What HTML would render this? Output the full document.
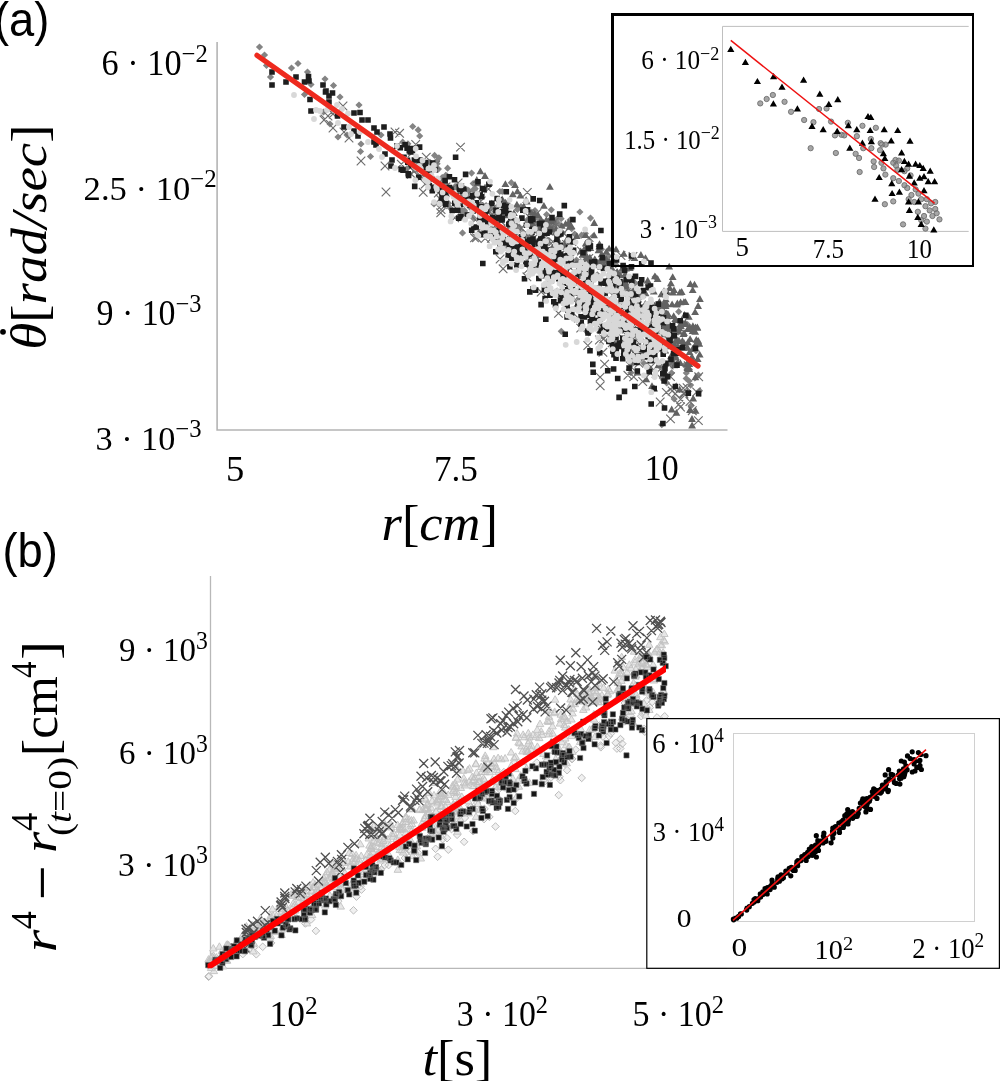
<!DOCTYPE html>
<html><head><meta charset="utf-8"><style>
html,body{margin:0;padding:0;background:#fff;width:1000px;height:1081px;overflow:hidden}
svg{display:block}
text{fill:#000}
svg{will-change:transform}
</style></head><body>
<svg width="1000" height="1081" viewBox="0 0 1000 1081">
<g transform="translate(-6.08 35.79) scale(0.9443 1.0111)"><text x="0" y="0" style="font-family:&quot;Liberation Sans&quot;,sans-serif;font-size:48px;">(a)</text></g>
<path d="M217.1 42V430H727.5" fill="none" stroke="#b4b4b4" stroke-width="1.6"/>
<g transform="translate(101.62 74.80) scale(0.9792 1.0000)"><text x="0" y="0" style="font-family:&quot;Liberation Serif&quot;,serif;font-size:35px;">6 · 10<tspan dy="-12.60" font-size="25.20">−2</tspan></text></g>
<g transform="translate(83.62 199.70) scale(0.9885 0.9800)"><text x="0" y="0" style="font-family:&quot;Liberation Serif&quot;,serif;font-size:35px;">2.5 · 10<tspan dy="-12.60" font-size="25.20">−2</tspan></text></g>
<g transform="translate(96.43 324.80) scale(0.9698 0.9933)"><text x="0" y="0" style="font-family:&quot;Liberation Serif&quot;,serif;font-size:35px;">9 · 10<tspan dy="-12.60" font-size="25.20">−3</tspan></text></g>
<g transform="translate(95.44 449.80) scale(0.9790 0.9933)"><text x="0" y="0" style="font-family:&quot;Liberation Serif&quot;,serif;font-size:35px;">3 · 10<tspan dy="-12.60" font-size="25.20">−3</tspan></text></g>
<g transform="translate(226.11 480.80) scale(1.0429 1.0333)"><text x="0" y="0" style="font-family:&quot;Liberation Serif&quot;,serif;font-size:35px;">5</text></g>
<g transform="translate(433.89 480.60) scale(1.0025 1.0250)"><text x="0" y="0" style="font-family:&quot;Liberation Serif&quot;,serif;font-size:35px;">7.5</text></g>
<g transform="translate(644.85 480.00) scale(0.9677 1.0000)"><text x="0" y="0" style="font-family:&quot;Liberation Serif&quot;,serif;font-size:35px;">10</text></g>
<g transform="translate(381.48 539.67) scale(1.0082 0.9614)"><text x="0" y="0" style="font-family:&quot;Liberation Serif&quot;,serif;font-size:52px;font-style:italic;">r<tspan font-style="normal">[</tspan>cm<tspan font-style="normal">]</tspan></text></g>
<g transform="translate(45.97 349.67) rotate(-90) scale(1.0558 0.9750)"><text x="0" y="0" style="font-family:&quot;Liberation Serif&quot;,serif;font-size:52px;font-style:italic;">θ<tspan font-style="normal">[</tspan>rad/sec<tspan font-style="normal">]</tspan></text></g>
<circle cx="3" cy="331.8" r="2.9" fill="#000"/>
<path d="M462.4 210.4l3.6 3.6l-3.6 3.6l-3.6 -3.6zM558.6 254.2l3.6 3.6l-3.6 3.6l-3.6 -3.6zM580.6 259.3l3.6 3.6l-3.6 3.6l-3.6 -3.6zM415.4 163.6l3.6 3.6l-3.6 3.6l-3.6 -3.6zM469.2 187.4l3.6 3.6l-3.6 3.6l-3.6 -3.6zM671.2 359.6l3.6 3.6l-3.6 3.6l-3.6 -3.6zM438.4 165.5l3.6 3.6l-3.6 3.6l-3.6 -3.6zM462.8 193.7l3.6 3.6l-3.6 3.6l-3.6 -3.6zM678.7 308.1l3.6 3.6l-3.6 3.6l-3.6 -3.6zM585.2 300.9l3.6 3.6l-3.6 3.6l-3.6 -3.6zM529.8 216.4l3.6 3.6l-3.6 3.6l-3.6 -3.6zM561.1 215.1l3.6 3.6l-3.6 3.6l-3.6 -3.6zM594.8 272.6l3.6 3.6l-3.6 3.6l-3.6 -3.6zM506.7 208.3l3.6 3.6l-3.6 3.6l-3.6 -3.6zM465.8 193.9l3.6 3.6l-3.6 3.6l-3.6 -3.6zM627 276l3.6 3.6l-3.6 3.6l-3.6 -3.6zM596.6 289.2l3.6 3.6l-3.6 3.6l-3.6 -3.6zM561.3 327.7l3.6 3.6l-3.6 3.6l-3.6 -3.6zM635.2 279.6l3.6 3.6l-3.6 3.6l-3.6 -3.6zM569 263.5l3.6 3.6l-3.6 3.6l-3.6 -3.6zM691.7 358l3.6 3.6l-3.6 3.6l-3.6 -3.6zM487.2 207.5l3.6 3.6l-3.6 3.6l-3.6 -3.6zM570 216.5l3.6 3.6l-3.6 3.6l-3.6 -3.6zM555.3 219.9l3.6 3.6l-3.6 3.6l-3.6 -3.6zM526.1 232.8l3.6 3.6l-3.6 3.6l-3.6 -3.6zM578.3 263.1l3.6 3.6l-3.6 3.6l-3.6 -3.6zM496 234.6l3.6 3.6l-3.6 3.6l-3.6 -3.6zM631 291.5l3.6 3.6l-3.6 3.6l-3.6 -3.6zM650.6 335.3l3.6 3.6l-3.6 3.6l-3.6 -3.6zM462.5 229.3l3.6 3.6l-3.6 3.6l-3.6 -3.6zM551.8 225.3l3.6 3.6l-3.6 3.6l-3.6 -3.6zM507.2 199.6l3.6 3.6l-3.6 3.6l-3.6 -3.6zM444.2 177.5l3.6 3.6l-3.6 3.6l-3.6 -3.6zM660 338.3l3.6 3.6l-3.6 3.6l-3.6 -3.6zM543.7 251.5l3.6 3.6l-3.6 3.6l-3.6 -3.6zM469.2 195.8l3.6 3.6l-3.6 3.6l-3.6 -3.6zM597.3 261.8l3.6 3.6l-3.6 3.6l-3.6 -3.6zM486.5 207.4l3.6 3.6l-3.6 3.6l-3.6 -3.6zM661.8 421.1l3.6 3.6l-3.6 3.6l-3.6 -3.6zM490.9 225.7l3.6 3.6l-3.6 3.6l-3.6 -3.6zM418.2 126.3l3.6 3.6l-3.6 3.6l-3.6 -3.6zM486.1 202l3.6 3.6l-3.6 3.6l-3.6 -3.6zM524.3 207.2l3.6 3.6l-3.6 3.6l-3.6 -3.6zM552.2 254.6l3.6 3.6l-3.6 3.6l-3.6 -3.6zM663.4 337.8l3.6 3.6l-3.6 3.6l-3.6 -3.6zM603.2 333l3.6 3.6l-3.6 3.6l-3.6 -3.6zM522.8 239.6l3.6 3.6l-3.6 3.6l-3.6 -3.6zM407 164.9l3.6 3.6l-3.6 3.6l-3.6 -3.6zM473.2 199.2l3.6 3.6l-3.6 3.6l-3.6 -3.6zM698.4 371.4l3.6 3.6l-3.6 3.6l-3.6 -3.6zM550.2 247l3.6 3.6l-3.6 3.6l-3.6 -3.6zM601.6 315.7l3.6 3.6l-3.6 3.6l-3.6 -3.6zM430.6 176l3.6 3.6l-3.6 3.6l-3.6 -3.6zM418.9 157.2l3.6 3.6l-3.6 3.6l-3.6 -3.6zM643.9 359.7l3.6 3.6l-3.6 3.6l-3.6 -3.6zM577.5 267.6l3.6 3.6l-3.6 3.6l-3.6 -3.6zM515.3 217.4l3.6 3.6l-3.6 3.6l-3.6 -3.6zM517.4 205.8l3.6 3.6l-3.6 3.6l-3.6 -3.6zM446.9 172.2l3.6 3.6l-3.6 3.6l-3.6 -3.6zM477.4 190.5l3.6 3.6l-3.6 3.6l-3.6 -3.6zM412.7 122.9l3.6 3.6l-3.6 3.6l-3.6 -3.6zM641.9 350.1l3.6 3.6l-3.6 3.6l-3.6 -3.6zM551.6 253l3.6 3.6l-3.6 3.6l-3.6 -3.6zM461.9 186.4l3.6 3.6l-3.6 3.6l-3.6 -3.6zM613.9 321l3.6 3.6l-3.6 3.6l-3.6 -3.6zM484.6 209.6l3.6 3.6l-3.6 3.6l-3.6 -3.6zM434.3 176.3l3.6 3.6l-3.6 3.6l-3.6 -3.6zM579.9 208.4l3.6 3.6l-3.6 3.6l-3.6 -3.6zM659.9 332.6l3.6 3.6l-3.6 3.6l-3.6 -3.6zM414.3 165.2l3.6 3.6l-3.6 3.6l-3.6 -3.6zM631.9 355.2l3.6 3.6l-3.6 3.6l-3.6 -3.6zM482.9 228.8l3.6 3.6l-3.6 3.6l-3.6 -3.6zM448.4 199.6l3.6 3.6l-3.6 3.6l-3.6 -3.6zM407.9 140.2l3.6 3.6l-3.6 3.6l-3.6 -3.6zM511.3 179.1l3.6 3.6l-3.6 3.6l-3.6 -3.6zM610.7 306l3.6 3.6l-3.6 3.6l-3.6 -3.6zM557.3 246.6l3.6 3.6l-3.6 3.6l-3.6 -3.6zM646.1 353.2l3.6 3.6l-3.6 3.6l-3.6 -3.6zM490.9 204.6l3.6 3.6l-3.6 3.6l-3.6 -3.6zM516.9 223.5l3.6 3.6l-3.6 3.6l-3.6 -3.6zM502.2 187.9l3.6 3.6l-3.6 3.6l-3.6 -3.6zM690.6 381.5l3.6 3.6l-3.6 3.6l-3.6 -3.6zM675.9 341.6l3.6 3.6l-3.6 3.6l-3.6 -3.6zM523.1 229.1l3.6 3.6l-3.6 3.6l-3.6 -3.6zM545 244.9l3.6 3.6l-3.6 3.6l-3.6 -3.6zM516.7 217.4l3.6 3.6l-3.6 3.6l-3.6 -3.6zM615.8 304l3.6 3.6l-3.6 3.6l-3.6 -3.6zM422.5 163.7l3.6 3.6l-3.6 3.6l-3.6 -3.6zM437 183.1l3.6 3.6l-3.6 3.6l-3.6 -3.6zM537.9 240.1l3.6 3.6l-3.6 3.6l-3.6 -3.6zM498.7 201.7l3.6 3.6l-3.6 3.6l-3.6 -3.6zM643.7 306.6l3.6 3.6l-3.6 3.6l-3.6 -3.6zM614.5 339.5l3.6 3.6l-3.6 3.6l-3.6 -3.6zM568.3 253.2l3.6 3.6l-3.6 3.6l-3.6 -3.6zM594.5 301.6l3.6 3.6l-3.6 3.6l-3.6 -3.6zM601.9 293.8l3.6 3.6l-3.6 3.6l-3.6 -3.6zM625.1 289.7l3.6 3.6l-3.6 3.6l-3.6 -3.6zM671 327.4l3.6 3.6l-3.6 3.6l-3.6 -3.6zM469.9 196.1l3.6 3.6l-3.6 3.6l-3.6 -3.6zM586.2 276.7l3.6 3.6l-3.6 3.6l-3.6 -3.6zM467.8 201.5l3.6 3.6l-3.6 3.6l-3.6 -3.6zM546.6 210.9l3.6 3.6l-3.6 3.6l-3.6 -3.6zM626.5 290.2l3.6 3.6l-3.6 3.6l-3.6 -3.6zM659.5 336.4l3.6 3.6l-3.6 3.6l-3.6 -3.6zM619.2 340.3l3.6 3.6l-3.6 3.6l-3.6 -3.6zM419.7 132.4l3.6 3.6l-3.6 3.6l-3.6 -3.6zM527.6 233.2l3.6 3.6l-3.6 3.6l-3.6 -3.6zM474.3 189.9l3.6 3.6l-3.6 3.6l-3.6 -3.6zM699.5 387.2l3.6 3.6l-3.6 3.6l-3.6 -3.6zM467.9 186.5l3.6 3.6l-3.6 3.6l-3.6 -3.6zM498.5 216.1l3.6 3.6l-3.6 3.6l-3.6 -3.6zM527.1 254l3.6 3.6l-3.6 3.6l-3.6 -3.6zM433.8 175.8l3.6 3.6l-3.6 3.6l-3.6 -3.6zM651.6 343.8l3.6 3.6l-3.6 3.6l-3.6 -3.6zM588.5 281.5l3.6 3.6l-3.6 3.6l-3.6 -3.6zM473.2 186.3l3.6 3.6l-3.6 3.6l-3.6 -3.6zM558.4 258.5l3.6 3.6l-3.6 3.6l-3.6 -3.6zM442.2 173.9l3.6 3.6l-3.6 3.6l-3.6 -3.6zM582.7 248.8l3.6 3.6l-3.6 3.6l-3.6 -3.6zM495 208l3.6 3.6l-3.6 3.6l-3.6 -3.6zM421.7 160.5l3.6 3.6l-3.6 3.6l-3.6 -3.6zM457.4 196.6l3.6 3.6l-3.6 3.6l-3.6 -3.6zM570.4 256.2l3.6 3.6l-3.6 3.6l-3.6 -3.6zM588.7 260.3l3.6 3.6l-3.6 3.6l-3.6 -3.6zM519.2 246.9l3.6 3.6l-3.6 3.6l-3.6 -3.6zM590.2 297.6l3.6 3.6l-3.6 3.6l-3.6 -3.6zM525.8 247.7l3.6 3.6l-3.6 3.6l-3.6 -3.6zM463.2 198.4l3.6 3.6l-3.6 3.6l-3.6 -3.6zM516.9 217.6l3.6 3.6l-3.6 3.6l-3.6 -3.6zM535.9 221l3.6 3.6l-3.6 3.6l-3.6 -3.6zM665.7 336.8l3.6 3.6l-3.6 3.6l-3.6 -3.6zM457.6 199.3l3.6 3.6l-3.6 3.6l-3.6 -3.6zM445.6 180.3l3.6 3.6l-3.6 3.6l-3.6 -3.6zM571.7 225.1l3.6 3.6l-3.6 3.6l-3.6 -3.6zM684.6 361.7l3.6 3.6l-3.6 3.6l-3.6 -3.6zM663.8 300.5l3.6 3.6l-3.6 3.6l-3.6 -3.6zM603.9 289.9l3.6 3.6l-3.6 3.6l-3.6 -3.6zM436.7 157.4l3.6 3.6l-3.6 3.6l-3.6 -3.6zM632.2 277.4l3.6 3.6l-3.6 3.6l-3.6 -3.6zM599.7 285.1l3.6 3.6l-3.6 3.6l-3.6 -3.6zM467.9 192.1l3.6 3.6l-3.6 3.6l-3.6 -3.6zM551.3 206.2l3.6 3.6l-3.6 3.6l-3.6 -3.6zM427.7 176.9l3.6 3.6l-3.6 3.6l-3.6 -3.6zM630.9 369.1l3.6 3.6l-3.6 3.6l-3.6 -3.6zM608.5 252.5l3.6 3.6l-3.6 3.6l-3.6 -3.6zM631.7 360.7l3.6 3.6l-3.6 3.6l-3.6 -3.6zM619.5 281.2l3.6 3.6l-3.6 3.6l-3.6 -3.6zM504.6 205.3l3.6 3.6l-3.6 3.6l-3.6 -3.6zM627.5 302.3l3.6 3.6l-3.6 3.6l-3.6 -3.6zM499.8 187.9l3.6 3.6l-3.6 3.6l-3.6 -3.6zM465.7 209.6l3.6 3.6l-3.6 3.6l-3.6 -3.6zM534.8 238.2l3.6 3.6l-3.6 3.6l-3.6 -3.6zM558.3 230.8l3.6 3.6l-3.6 3.6l-3.6 -3.6zM509.4 211.1l3.6 3.6l-3.6 3.6l-3.6 -3.6zM581.5 231.6l3.6 3.6l-3.6 3.6l-3.6 -3.6zM580.8 258l3.6 3.6l-3.6 3.6l-3.6 -3.6zM497.3 224.4l3.6 3.6l-3.6 3.6l-3.6 -3.6zM585.3 229.8l3.6 3.6l-3.6 3.6l-3.6 -3.6zM527.1 216.6l3.6 3.6l-3.6 3.6l-3.6 -3.6zM612.7 297l3.6 3.6l-3.6 3.6l-3.6 -3.6zM510.6 234.3l3.6 3.6l-3.6 3.6l-3.6 -3.6zM630.1 346l3.6 3.6l-3.6 3.6l-3.6 -3.6zM540.4 222.4l3.6 3.6l-3.6 3.6l-3.6 -3.6zM569.9 240.3l3.6 3.6l-3.6 3.6l-3.6 -3.6zM597.3 291.1l3.6 3.6l-3.6 3.6l-3.6 -3.6zM562.5 242.6l3.6 3.6l-3.6 3.6l-3.6 -3.6zM502.1 207.1l3.6 3.6l-3.6 3.6l-3.6 -3.6zM691.1 402.1l3.6 3.6l-3.6 3.6l-3.6 -3.6zM449.8 204l3.6 3.6l-3.6 3.6l-3.6 -3.6zM519.3 225.5l3.6 3.6l-3.6 3.6l-3.6 -3.6zM569.1 251.8l3.6 3.6l-3.6 3.6l-3.6 -3.6zM415.4 166.5l3.6 3.6l-3.6 3.6l-3.6 -3.6zM471.6 169.5l3.6 3.6l-3.6 3.6l-3.6 -3.6zM630.2 309.2l3.6 3.6l-3.6 3.6l-3.6 -3.6zM625.9 277.2l3.6 3.6l-3.6 3.6l-3.6 -3.6zM588.7 329.3l3.6 3.6l-3.6 3.6l-3.6 -3.6zM661.9 363.4l3.6 3.6l-3.6 3.6l-3.6 -3.6zM618.2 301.6l3.6 3.6l-3.6 3.6l-3.6 -3.6zM512.8 214.1l3.6 3.6l-3.6 3.6l-3.6 -3.6zM590.5 214.5l3.6 3.6l-3.6 3.6l-3.6 -3.6zM523 235.7l3.6 3.6l-3.6 3.6l-3.6 -3.6zM616.7 338.6l3.6 3.6l-3.6 3.6l-3.6 -3.6zM533.5 213.9l3.6 3.6l-3.6 3.6l-3.6 -3.6zM471 204.7l3.6 3.6l-3.6 3.6l-3.6 -3.6zM653.5 354.4l3.6 3.6l-3.6 3.6l-3.6 -3.6zM601.5 245.6l3.6 3.6l-3.6 3.6l-3.6 -3.6zM615.3 319.5l3.6 3.6l-3.6 3.6l-3.6 -3.6zM571.3 288.2l3.6 3.6l-3.6 3.6l-3.6 -3.6zM625.6 311.2l3.6 3.6l-3.6 3.6l-3.6 -3.6zM547.6 236.4l3.6 3.6l-3.6 3.6l-3.6 -3.6zM572.7 276.8l3.6 3.6l-3.6 3.6l-3.6 -3.6zM434.6 151.8l3.6 3.6l-3.6 3.6l-3.6 -3.6zM570.3 259.2l3.6 3.6l-3.6 3.6l-3.6 -3.6zM634.6 343.1l3.6 3.6l-3.6 3.6l-3.6 -3.6zM605.2 256l3.6 3.6l-3.6 3.6l-3.6 -3.6zM631.3 337.8l3.6 3.6l-3.6 3.6l-3.6 -3.6zM557.9 237.6l3.6 3.6l-3.6 3.6l-3.6 -3.6zM655.1 273.3l3.6 3.6l-3.6 3.6l-3.6 -3.6zM454.7 183.3l3.6 3.6l-3.6 3.6l-3.6 -3.6zM653.3 304.4l3.6 3.6l-3.6 3.6l-3.6 -3.6zM530.4 232.5l3.6 3.6l-3.6 3.6l-3.6 -3.6zM447.6 164.6l3.6 3.6l-3.6 3.6l-3.6 -3.6zM584.6 293.8l3.6 3.6l-3.6 3.6l-3.6 -3.6zM549.2 223.8l3.6 3.6l-3.6 3.6l-3.6 -3.6zM543.4 241.3l3.6 3.6l-3.6 3.6l-3.6 -3.6zM645.8 308.4l3.6 3.6l-3.6 3.6l-3.6 -3.6zM465.7 187.4l3.6 3.6l-3.6 3.6l-3.6 -3.6zM584.1 296.6l3.6 3.6l-3.6 3.6l-3.6 -3.6zM540.1 235.6l3.6 3.6l-3.6 3.6l-3.6 -3.6zM564.6 243.6l3.6 3.6l-3.6 3.6l-3.6 -3.6zM558.6 220.3l3.6 3.6l-3.6 3.6l-3.6 -3.6zM464.4 206.8l3.6 3.6l-3.6 3.6l-3.6 -3.6zM561.2 265.2l3.6 3.6l-3.6 3.6l-3.6 -3.6zM649 319.1l3.6 3.6l-3.6 3.6l-3.6 -3.6zM477 202.4l3.6 3.6l-3.6 3.6l-3.6 -3.6zM402.7 138.6l3.6 3.6l-3.6 3.6l-3.6 -3.6zM437.1 160.1l3.6 3.6l-3.6 3.6l-3.6 -3.6zM550.2 222.8l3.6 3.6l-3.6 3.6l-3.6 -3.6zM689 377.4l3.6 3.6l-3.6 3.6l-3.6 -3.6zM424.9 169.2l3.6 3.6l-3.6 3.6l-3.6 -3.6zM696 347.1l3.6 3.6l-3.6 3.6l-3.6 -3.6zM566.3 269.9l3.6 3.6l-3.6 3.6l-3.6 -3.6zM459.3 198.2l3.6 3.6l-3.6 3.6l-3.6 -3.6zM541.2 235.7l3.6 3.6l-3.6 3.6l-3.6 -3.6zM488.1 220.4l3.6 3.6l-3.6 3.6l-3.6 -3.6zM607.4 281.6l3.6 3.6l-3.6 3.6l-3.6 -3.6zM567.4 252.1l3.6 3.6l-3.6 3.6l-3.6 -3.6zM510 224.2l3.6 3.6l-3.6 3.6l-3.6 -3.6zM501.5 211.3l3.6 3.6l-3.6 3.6l-3.6 -3.6zM650.5 353.2l3.6 3.6l-3.6 3.6l-3.6 -3.6zM621 267.9l3.6 3.6l-3.6 3.6l-3.6 -3.6zM545.1 264.6l3.6 3.6l-3.6 3.6l-3.6 -3.6zM538.2 214.8l3.6 3.6l-3.6 3.6l-3.6 -3.6zM613.4 289.7l3.6 3.6l-3.6 3.6l-3.6 -3.6zM687.5 320.9l3.6 3.6l-3.6 3.6l-3.6 -3.6zM442.6 184.8l3.6 3.6l-3.6 3.6l-3.6 -3.6zM473 214.1l3.6 3.6l-3.6 3.6l-3.6 -3.6zM528.3 245.5l3.6 3.6l-3.6 3.6l-3.6 -3.6zM560.3 266.5l3.6 3.6l-3.6 3.6l-3.6 -3.6zM438.9 154.2l3.6 3.6l-3.6 3.6l-3.6 -3.6zM430 158.7l3.6 3.6l-3.6 3.6l-3.6 -3.6zM491.6 199.8l3.6 3.6l-3.6 3.6l-3.6 -3.6zM533.8 210l3.6 3.6l-3.6 3.6l-3.6 -3.6zM613.9 323l3.6 3.6l-3.6 3.6l-3.6 -3.6zM582.5 271.7l3.6 3.6l-3.6 3.6l-3.6 -3.6zM415.8 159.3l3.6 3.6l-3.6 3.6l-3.6 -3.6zM425.3 172l3.6 3.6l-3.6 3.6l-3.6 -3.6zM548.5 218.9l3.6 3.6l-3.6 3.6l-3.6 -3.6zM653 306l3.6 3.6l-3.6 3.6l-3.6 -3.6zM666.5 319.2l3.6 3.6l-3.6 3.6l-3.6 -3.6zM528.9 235l3.6 3.6l-3.6 3.6l-3.6 -3.6zM657.1 346.9l3.6 3.6l-3.6 3.6l-3.6 -3.6zM671.6 369.3l3.6 3.6l-3.6 3.6l-3.6 -3.6zM538.5 251.9l3.6 3.6l-3.6 3.6l-3.6 -3.6zM615.7 261l3.6 3.6l-3.6 3.6l-3.6 -3.6zM529 215.1l3.6 3.6l-3.6 3.6l-3.6 -3.6zM471.2 197.3l3.6 3.6l-3.6 3.6l-3.6 -3.6zM574.7 230.4l3.6 3.6l-3.6 3.6l-3.6 -3.6zM445.7 171.8l3.6 3.6l-3.6 3.6l-3.6 -3.6zM594.9 302.5l3.6 3.6l-3.6 3.6l-3.6 -3.6zM633 342.7l3.6 3.6l-3.6 3.6l-3.6 -3.6zM666.7 379.4l3.6 3.6l-3.6 3.6l-3.6 -3.6zM547.7 238.6l3.6 3.6l-3.6 3.6l-3.6 -3.6zM458.2 184.1l3.6 3.6l-3.6 3.6l-3.6 -3.6zM662.2 374.5l3.6 3.6l-3.6 3.6l-3.6 -3.6zM651.6 320.3l3.6 3.6l-3.6 3.6l-3.6 -3.6zM686.2 374.9l3.6 3.6l-3.6 3.6l-3.6 -3.6zM578.9 294.8l3.6 3.6l-3.6 3.6l-3.6 -3.6zM597.3 271.2l3.6 3.6l-3.6 3.6l-3.6 -3.6zM530.8 215l3.6 3.6l-3.6 3.6l-3.6 -3.6zM480.7 201.2l3.6 3.6l-3.6 3.6l-3.6 -3.6zM511 226.8l3.6 3.6l-3.6 3.6l-3.6 -3.6zM609.1 302.3l3.6 3.6l-3.6 3.6l-3.6 -3.6zM519.3 223.6l3.6 3.6l-3.6 3.6l-3.6 -3.6zM601.8 297.7l3.6 3.6l-3.6 3.6l-3.6 -3.6zM559.2 213.3l3.6 3.6l-3.6 3.6l-3.6 -3.6zM547.9 220.3l3.6 3.6l-3.6 3.6l-3.6 -3.6zM686.3 369.4l3.6 3.6l-3.6 3.6l-3.6 -3.6zM475.3 185.1l3.6 3.6l-3.6 3.6l-3.6 -3.6zM556 216.5l3.6 3.6l-3.6 3.6l-3.6 -3.6zM473.2 179.9l3.6 3.6l-3.6 3.6l-3.6 -3.6zM674.6 325.4l3.6 3.6l-3.6 3.6l-3.6 -3.6zM556.3 241.4l3.6 3.6l-3.6 3.6l-3.6 -3.6zM521 203.1l3.6 3.6l-3.6 3.6l-3.6 -3.6zM476 201.7l3.6 3.6l-3.6 3.6l-3.6 -3.6zM578.9 303.3l3.6 3.6l-3.6 3.6l-3.6 -3.6zM536.8 226.7l3.6 3.6l-3.6 3.6l-3.6 -3.6zM461.9 206.6l3.6 3.6l-3.6 3.6l-3.6 -3.6zM417.8 164.5l3.6 3.6l-3.6 3.6l-3.6 -3.6zM535 206.9l3.6 3.6l-3.6 3.6l-3.6 -3.6zM576.5 256.5l3.6 3.6l-3.6 3.6l-3.6 -3.6zM562.6 229.2l3.6 3.6l-3.6 3.6l-3.6 -3.6zM661.3 364.1l3.6 3.6l-3.6 3.6l-3.6 -3.6zM665.3 309.8l3.6 3.6l-3.6 3.6l-3.6 -3.6zM674.2 395.4l3.6 3.6l-3.6 3.6l-3.6 -3.6zM630.3 325.5l3.6 3.6l-3.6 3.6l-3.6 -3.6zM259.5 43.4l3.6 3.6l-3.6 3.6l-3.6 -3.6zM264.5 51.4l3.6 3.6l-3.6 3.6l-3.6 -3.6zM266.5 61.9l3.6 3.6l-3.6 3.6l-3.6 -3.6zM270.5 73.4l3.6 3.6l-3.6 3.6l-3.6 -3.6zM291.5 64.4l3.6 3.6l-3.6 3.6l-3.6 -3.6zM298 59.9l3.6 3.6l-3.6 3.6l-3.6 -3.6zM307.5 68.4l3.6 3.6l-3.6 3.6l-3.6 -3.6zM311 80.9l3.6 3.6l-3.6 3.6l-3.6 -3.6zM325 75.4l3.6 3.6l-3.6 3.6l-3.6 -3.6zM333.5 81.9l3.6 3.6l-3.6 3.6l-3.6 -3.6zM340 93.4l3.6 3.6l-3.6 3.6l-3.6 -3.6zM304.5 90.9l3.6 3.6l-3.6 3.6l-3.6 -3.6zM323.5 108.4l3.6 3.6l-3.6 3.6l-3.6 -3.6zM359 101.4l3.6 3.6l-3.6 3.6l-3.6 -3.6zM330 120.4l3.6 3.6l-3.6 3.6l-3.6 -3.6zM338 133.4l3.6 3.6l-3.6 3.6l-3.6 -3.6zM347 131.4l3.6 3.6l-3.6 3.6l-3.6 -3.6zM360.5 147.9l3.6 3.6l-3.6 3.6l-3.6 -3.6zM370.5 152.9l3.6 3.6l-3.6 3.6l-3.6 -3.6zM361 140.4l3.6 3.6l-3.6 3.6l-3.6 -3.6zM381 131.4l3.6 3.6l-3.6 3.6l-3.6 -3.6zM407 141.4l3.6 3.6l-3.6 3.6l-3.6 -3.6zM434 200.4l3.6 3.6l-3.6 3.6l-3.6 -3.6zM392 146.4l3.6 3.6l-3.6 3.6l-3.6 -3.6z" fill="#848484"/>
<path d="M484.2 184.7l8.6 8.6M484.2 193.3l8.6 -8.6M627.4 299.6l8.6 8.6M627.4 308.2l8.6 -8.6M507 228.5l8.6 8.6M507 237.1l8.6 -8.6M608.9 275.1l8.6 8.6M608.9 283.7l8.6 -8.6M598.9 277.4l8.6 8.6M598.9 286l8.6 -8.6M581.8 267.8l8.6 8.6M581.8 276.4l8.6 -8.6M487.1 234l8.6 8.6M487.1 242.6l8.6 -8.6M646.8 346.8l8.6 8.6M646.8 355.4l8.6 -8.6M526 234.1l8.6 8.6M526 242.7l8.6 -8.6M629.4 372.6l8.6 8.6M629.4 381.2l8.6 -8.6M557.3 253.7l8.6 8.6M557.3 262.3l8.6 -8.6M550.4 273.8l8.6 8.6M550.4 282.4l8.6 -8.6M614.5 283.9l8.6 8.6M614.5 292.5l8.6 -8.6M522.2 244.8l8.6 8.6M522.2 253.4l8.6 -8.6M627.5 335.7l8.6 8.6M627.5 344.3l8.6 -8.6M549.6 260.8l8.6 8.6M549.6 269.4l8.6 -8.6M621.6 311.2l8.6 8.6M621.6 319.8l8.6 -8.6M610.8 281.4l8.6 8.6M610.8 290l8.6 -8.6M679 384l8.6 8.6M679 392.6l8.6 -8.6M540.3 233.7l8.6 8.6M540.3 242.3l8.6 -8.6M524.4 264.6l8.6 8.6M524.4 273.2l8.6 -8.6M694.1 416.3l8.6 8.6M694.1 424.9l8.6 -8.6M567.6 237.3l8.6 8.6M567.6 245.9l8.6 -8.6M542.8 267.1l8.6 8.6M542.8 275.7l8.6 -8.6M611.6 299.7l8.6 8.6M611.6 308.3l8.6 -8.6M496.7 234.7l8.6 8.6M496.7 243.3l8.6 -8.6M682.8 383.3l8.6 8.6M682.8 391.9l8.6 -8.6M625 285.5l8.6 8.6M625 294.1l8.6 -8.6M599.2 334.7l8.6 8.6M599.2 343.3l8.6 -8.6M508.6 240.8l8.6 8.6M508.6 249.4l8.6 -8.6M639.8 313.9l8.6 8.6M639.8 322.5l8.6 -8.6M671.2 346l8.6 8.6M671.2 354.6l8.6 -8.6M634.9 326l8.6 8.6M634.9 334.6l8.6 -8.6M669.2 356.6l8.6 8.6M669.2 365.2l8.6 -8.6M441.8 182.5l8.6 8.6M441.8 191.1l8.6 -8.6M621.8 344.7l8.6 8.6M621.8 353.3l8.6 -8.6M655.9 397.7l8.6 8.6M655.9 406.3l8.6 -8.6M557.6 253l8.6 8.6M557.6 261.6l8.6 -8.6M436.4 208.5l8.6 8.6M436.4 217.1l8.6 -8.6M574 313.8l8.6 8.6M574 322.4l8.6 -8.6M494.5 213.4l8.6 8.6M494.5 222l8.6 -8.6M411.4 140.2l8.6 8.6M411.4 148.8l8.6 -8.6M676.2 402.7l8.6 8.6M676.2 411.3l8.6 -8.6M646.2 368.7l8.6 8.6M646.2 377.3l8.6 -8.6M595.8 372.8l8.6 8.6M595.8 381.4l8.6 -8.6M623.6 371l8.6 8.6M623.6 379.6l8.6 -8.6M604.5 332.8l8.6 8.6M604.5 341.4l8.6 -8.6M554.2 309.1l8.6 8.6M554.2 317.7l8.6 -8.6M453.8 178.6l8.6 8.6M453.8 187.2l8.6 -8.6M507.8 234.2l8.6 8.6M507.8 242.8l8.6 -8.6M565 262.5l8.6 8.6M565 271.1l8.6 -8.6M583.5 341.2l8.6 8.6M583.5 349.8l8.6 -8.6M511.3 245.2l8.6 8.6M511.3 253.8l8.6 -8.6M456.2 142.8l8.6 8.6M456.2 151.4l8.6 -8.6M522.6 272.5l8.6 8.6M522.6 281.1l8.6 -8.6M476.9 196.7l8.6 8.6M476.9 205.3l8.6 -8.6M674.6 400.1l8.6 8.6M674.6 408.7l8.6 -8.6M488.1 209.9l8.6 8.6M488.1 218.5l8.6 -8.6M536.4 250.4l8.6 8.6M536.4 259l8.6 -8.6M573.8 298.2l8.6 8.6M573.8 306.8l8.6 -8.6M497.3 229.2l8.6 8.6M497.3 237.8l8.6 -8.6M562.2 240.2l8.6 8.6M562.2 248.8l8.6 -8.6M576.4 323.8l8.6 8.6M576.4 332.4l8.6 -8.6M420.9 179.8l8.6 8.6M420.9 188.4l8.6 -8.6M679.7 389.8l8.6 8.6M679.7 398.4l8.6 -8.6M572.9 299.5l8.6 8.6M572.9 308.1l8.6 -8.6M463.2 195l8.6 8.6M463.2 203.6l8.6 -8.6M471.1 215.6l8.6 8.6M471.1 224.2l8.6 -8.6M618.3 333.7l8.6 8.6M618.3 342.3l8.6 -8.6M559.1 275.5l8.6 8.6M559.1 284.1l8.6 -8.6M498.9 204.5l8.6 8.6M498.9 213.1l8.6 -8.6M532.6 209.2l8.6 8.6M532.6 217.8l8.6 -8.6M558.8 271.4l8.6 8.6M558.8 280l8.6 -8.6M530.3 250.1l8.6 8.6M530.3 258.7l8.6 -8.6M495.8 254.7l8.6 8.6M495.8 263.3l8.6 -8.6M542.2 262l8.6 8.6M542.2 270.6l8.6 -8.6M547.3 223l8.6 8.6M547.3 231.6l8.6 -8.6M608.4 329.2l8.6 8.6M608.4 337.8l8.6 -8.6M480.8 234.2l8.6 8.6M480.8 242.8l8.6 -8.6M418.9 188l8.6 8.6M418.9 196.6l8.6 -8.6M646.6 362.7l8.6 8.6M646.6 371.3l8.6 -8.6M431.3 160.7l8.6 8.6M431.3 169.3l8.6 -8.6M595.1 335.7l8.6 8.6M595.1 344.3l8.6 -8.6M575.5 259.1l8.6 8.6M575.5 267.7l8.6 -8.6M688 406.4l8.6 8.6M688 415l8.6 -8.6M478.3 183.9l8.6 8.6M478.3 192.5l8.6 -8.6M662 388.1l8.6 8.6M662 396.7l8.6 -8.6M457.3 186.2l8.6 8.6M457.3 194.8l8.6 -8.6M472.2 233.4l8.6 8.6M472.2 242l8.6 -8.6M600.3 359.8l8.6 8.6M600.3 368.4l8.6 -8.6M470.2 233.5l8.6 8.6M470.2 242.1l8.6 -8.6M584.5 254.1l8.6 8.6M584.5 262.7l8.6 -8.6M605.4 279.8l8.6 8.6M605.4 288.4l8.6 -8.6M455.5 183.3l8.6 8.6M455.5 191.9l8.6 -8.6M634.6 359.1l8.6 8.6M634.6 367.7l8.6 -8.6M544 260.8l8.6 8.6M544 269.4l8.6 -8.6M685.6 397.2l8.6 8.6M685.6 405.8l8.6 -8.6M397 159.9l8.6 8.6M397 168.5l8.6 -8.6M435.7 194.5l8.6 8.6M435.7 203.1l8.6 -8.6M592.4 317.2l8.6 8.6M592.4 325.8l8.6 -8.6M498.8 264.5l8.6 8.6M498.8 273.1l8.6 -8.6M538.7 244.3l8.6 8.6M538.7 252.9l8.6 -8.6M668.2 382.9l8.6 8.6M668.2 391.5l8.6 -8.6M523 188.1l8.6 8.6M523 196.7l8.6 -8.6M422 152.8l8.6 8.6M422 161.4l8.6 -8.6M462.1 191.2l8.6 8.6M462.1 199.8l8.6 -8.6M577.1 246.7l8.6 8.6M577.1 255.3l8.6 -8.6M630.5 342.3l8.6 8.6M630.5 350.9l8.6 -8.6M626 361.7l8.6 8.6M626 370.3l8.6 -8.6M556.4 249.9l8.6 8.6M556.4 258.5l8.6 -8.6M493.7 212.1l8.6 8.6M493.7 220.7l8.6 -8.6M456.7 190.6l8.6 8.6M456.7 199.2l8.6 -8.6M488.8 223.5l8.6 8.6M488.8 232.1l8.6 -8.6M481.7 205.9l8.6 8.6M481.7 214.5l8.6 -8.6M667.8 386.7l8.6 8.6M667.8 395.3l8.6 -8.6M540 255.3l8.6 8.6M540 263.9l8.6 -8.6M452 203l8.6 8.6M452 211.6l8.6 -8.6M596.6 324.5l8.6 8.6M596.6 333.1l8.6 -8.6M552.8 259.8l8.6 8.6M552.8 268.4l8.6 -8.6M409.2 166.6l8.6 8.6M409.2 175.2l8.6 -8.6M679.3 388.8l8.6 8.6M679.3 397.4l8.6 -8.6M500.3 244.5l8.6 8.6M500.3 253.1l8.6 -8.6M646.4 355.1l8.6 8.6M646.4 363.7l8.6 -8.6M552.2 245.1l8.6 8.6M552.2 253.7l8.6 -8.6M605 294.3l8.6 8.6M605 302.9l8.6 -8.6M600.2 278.4l8.6 8.6M600.2 287l8.6 -8.6M619.4 323.4l8.6 8.6M619.4 332l8.6 -8.6M548.5 237.4l8.6 8.6M548.5 246l8.6 -8.6M463.4 197l8.6 8.6M463.4 205.6l8.6 -8.6M638.4 377.2l8.6 8.6M638.4 385.8l8.6 -8.6M548.5 250.9l8.6 8.6M548.5 259.5l8.6 -8.6M548.9 287.8l8.6 8.6M548.9 296.4l8.6 -8.6M626.4 338.8l8.6 8.6M626.4 347.4l8.6 -8.6M607.9 338.5l8.6 8.6M607.9 347.1l8.6 -8.6M692.3 387.7l8.6 8.6M692.3 396.3l8.6 -8.6M534.8 246.2l8.6 8.6M534.8 254.8l8.6 -8.6M595.9 381.6l8.6 8.6M595.9 390.2l8.6 -8.6M438 200.3l8.6 8.6M438 208.9l8.6 -8.6M450.4 213.5l8.6 8.6M450.4 222.1l8.6 -8.6M498 230.1l8.6 8.6M498 238.7l8.6 -8.6M505.3 248.7l8.6 8.6M505.3 257.3l8.6 -8.6M550 222.6l8.6 8.6M550 231.2l8.6 -8.6M490.4 202.5l8.6 8.6M490.4 211.1l8.6 -8.6M676.3 395.1l8.6 8.6M676.3 403.7l8.6 -8.6M545.3 274.9l8.6 8.6M545.3 283.5l8.6 -8.6M533.3 229.9l8.6 8.6M533.3 238.5l8.6 -8.6M666.2 372.3l8.6 8.6M666.2 380.9l8.6 -8.6M636.1 332l8.6 8.6M636.1 340.6l8.6 -8.6M629.3 328.6l8.6 8.6M629.3 337.2l8.6 -8.6M669.8 356.9l8.6 8.6M669.8 365.5l8.6 -8.6M620.6 279.9l8.6 8.6M620.6 288.5l8.6 -8.6M512.5 229.3l8.6 8.6M512.5 237.9l8.6 -8.6M683.9 361.3l8.6 8.6M683.9 369.9l8.6 -8.6M407.9 148.4l8.6 8.6M407.9 157l8.6 -8.6M664.8 360.8l8.6 8.6M664.8 369.4l8.6 -8.6M543.1 219.3l8.6 8.6M543.1 227.9l8.6 -8.6M521.3 241.6l8.6 8.6M521.3 250.2l8.6 -8.6M557.2 249.6l8.6 8.6M557.2 258.2l8.6 -8.6M537.9 241.9l8.6 8.6M537.9 250.5l8.6 -8.6M654.2 338.9l8.6 8.6M654.2 347.5l8.6 -8.6M638.9 325l8.6 8.6M638.9 333.6l8.6 -8.6M623.2 342.2l8.6 8.6M623.2 350.8l8.6 -8.6M491.6 229.4l8.6 8.6M491.6 238l8.6 -8.6M548.4 240.7l8.6 8.6M548.4 249.3l8.6 -8.6M434 188.8l8.6 8.6M434 197.4l8.6 -8.6M622.1 331.1l8.6 8.6M622.1 339.7l8.6 -8.6M417 172.4l8.6 8.6M417 181l8.6 -8.6M536.9 287.7l8.6 8.6M536.9 296.3l8.6 -8.6M465 198.1l8.6 8.6M465 206.7l8.6 -8.6M651.8 369.1l8.6 8.6M651.8 377.7l8.6 -8.6M671.1 389.3l8.6 8.6M671.1 397.9l8.6 -8.6M508 223.1l8.6 8.6M508 231.7l8.6 -8.6M657.6 339.9l8.6 8.6M657.6 348.5l8.6 -8.6M474.4 226.5l8.6 8.6M474.4 235.1l8.6 -8.6M614.2 324.7l8.6 8.6M614.2 333.3l8.6 -8.6M496.9 224.7l8.6 8.6M496.9 233.3l8.6 -8.6M549.8 255.7l8.6 8.6M549.8 264.3l8.6 -8.6M590.3 294.2l8.6 8.6M590.3 302.8l8.6 -8.6M525 212.8l8.6 8.6M525 221.4l8.6 -8.6M480.9 222l8.6 8.6M480.9 230.6l8.6 -8.6M584.8 233.3l8.6 8.6M584.8 241.9l8.6 -8.6M635.6 339.7l8.6 8.6M635.6 348.3l8.6 -8.6M694.4 372.5l8.6 8.6M694.4 381.1l8.6 -8.6M517.1 223.7l8.6 8.6M517.1 232.3l8.6 -8.6M498.9 240.7l8.6 8.6M498.9 249.3l8.6 -8.6M434.7 178.3l8.6 8.6M434.7 186.9l8.6 -8.6M483 206.7l8.6 8.6M483 215.3l8.6 -8.6M407.1 169.9l8.6 8.6M407.1 178.5l8.6 -8.6M496.6 216.9l8.6 8.6M496.6 225.5l8.6 -8.6M617.9 306.9l8.6 8.6M617.9 315.5l8.6 -8.6M451.2 187.8l8.6 8.6M451.2 196.4l8.6 -8.6M598.6 348l8.6 8.6M598.6 356.6l8.6 -8.6M509.5 245.2l8.6 8.6M509.5 253.8l8.6 -8.6M490.5 230.7l8.6 8.6M490.5 239.3l8.6 -8.6M559.4 228.9l8.6 8.6M559.4 237.5l8.6 -8.6M547.4 269.9l8.6 8.6M547.4 278.5l8.6 -8.6M550.1 217.6l8.6 8.6M550.1 226.2l8.6 -8.6M452.4 204.6l8.6 8.6M452.4 213.2l8.6 -8.6M579.3 248.7l8.6 8.6M579.3 257.3l8.6 -8.6M666.2 414.6l8.6 8.6M666.2 423.2l8.6 -8.6M395.3 129l8.6 8.6M395.3 137.6l8.6 -8.6M436.8 205.2l8.6 8.6M436.8 213.8l8.6 -8.6M323.7 111.7l8.6 8.6M323.7 120.3l8.6 -8.6M328.7 109.7l8.6 8.6M328.7 118.3l8.6 -8.6M338.7 101.7l8.6 8.6M338.7 110.3l8.6 -8.6M319.7 115.7l8.6 8.6M319.7 124.3l8.6 -8.6M328.7 123.7l8.6 8.6M328.7 132.3l8.6 -8.6M339.7 127.7l8.6 8.6M339.7 136.3l8.6 -8.6M344.7 133.7l8.6 8.6M344.7 142.3l8.6 -8.6M356.7 156.7l8.6 8.6M356.7 165.3l8.6 -8.6M390.7 127.7l8.6 8.6M390.7 136.3l8.6 -8.6M380.7 161.7l8.6 8.6M380.7 170.3l8.6 -8.6M320.7 114.7l8.6 8.6M320.7 123.3l8.6 -8.6M381.7 187.7l8.6 8.6M381.7 196.3l8.6 -8.6M616.7 251.2l8.6 8.6M616.7 259.8l8.6 -8.6M628.7 252.2l8.6 8.6M628.7 260.8l8.6 -8.6" fill="none" stroke="#6e6e6e" stroke-width="1.15"/>
<path d="M667.5 312.4l3.9 6.8h-7.8zM695.6 340.5l3.9 6.8h-7.8zM548.4 217.3l3.9 6.8h-7.8zM532.6 235l3.9 6.8h-7.8zM576.8 232.2l3.9 6.8h-7.8zM586.3 251.4l3.9 6.8h-7.8zM566.7 235.8l3.9 6.8h-7.8zM531 217.1l3.9 6.8h-7.8zM582.7 251l3.9 6.8h-7.8zM587.2 254.3l3.9 6.8h-7.8zM654.6 326.4l3.9 6.8h-7.8zM670.9 279.5l3.9 6.8h-7.8zM627.3 281.5l3.9 6.8h-7.8zM568.7 218.8l3.9 6.8h-7.8zM539.7 218l3.9 6.8h-7.8zM599.3 242.8l3.9 6.8h-7.8zM569.6 222.9l3.9 6.8h-7.8zM654.9 303.1l3.9 6.8h-7.8zM689.3 365.1l3.9 6.8h-7.8zM676.6 335.6l3.9 6.8h-7.8zM580.7 247.4l3.9 6.8h-7.8zM507.4 211.4l3.9 6.8h-7.8zM526.7 197.7l3.9 6.8h-7.8zM645.5 254.3l3.9 6.8h-7.8zM627.2 274.6l3.9 6.8h-7.8zM673.7 312.2l3.9 6.8h-7.8zM534.8 226.4l3.9 6.8h-7.8zM596.8 284.9l3.9 6.8h-7.8zM674 286.2l3.9 6.8h-7.8zM664.3 374l3.9 6.8h-7.8zM659.4 345.3l3.9 6.8h-7.8zM691.9 352.9l3.9 6.8h-7.8zM547.7 224.2l3.9 6.8h-7.8zM578.1 272.1l3.9 6.8h-7.8zM664.1 314.3l3.9 6.8h-7.8zM664 300.5l3.9 6.8h-7.8zM698.4 340l3.9 6.8h-7.8zM698.1 302.1l3.9 6.8h-7.8zM665.9 325.5l3.9 6.8h-7.8zM680.1 320.9l3.9 6.8h-7.8zM675 328.4l3.9 6.8h-7.8zM555.6 228.7l3.9 6.8h-7.8zM667.1 288.1l3.9 6.8h-7.8zM611.5 286.5l3.9 6.8h-7.8zM626 264.6l3.9 6.8h-7.8zM564.4 241.3l3.9 6.8h-7.8zM480.4 167.4l3.9 6.8h-7.8zM687.9 338.5l3.9 6.8h-7.8zM676.6 300.7l3.9 6.8h-7.8zM679.5 324.4l3.9 6.8h-7.8zM606.5 255.6l3.9 6.8h-7.8zM640.9 251.1l3.9 6.8h-7.8zM571.5 222.4l3.9 6.8h-7.8zM667.1 316.3l3.9 6.8h-7.8zM686.7 344l3.9 6.8h-7.8zM681.7 288.1l3.9 6.8h-7.8zM694.5 280.7l3.9 6.8h-7.8zM598.5 246.4l3.9 6.8h-7.8zM675.3 315.1l3.9 6.8h-7.8zM553.1 215.6l3.9 6.8h-7.8zM661.4 290.5l3.9 6.8h-7.8zM546.4 229.1l3.9 6.8h-7.8zM661.8 333.8l3.9 6.8h-7.8zM661.9 328.5l3.9 6.8h-7.8zM622.8 263.9l3.9 6.8h-7.8zM623.5 279.3l3.9 6.8h-7.8zM676.1 316.1l3.9 6.8h-7.8zM654.9 272.4l3.9 6.8h-7.8zM638.5 307.2l3.9 6.8h-7.8zM547.4 220.9l3.9 6.8h-7.8zM604.9 256.6l3.9 6.8h-7.8zM687.4 364.3l3.9 6.8h-7.8zM697.7 355.2l3.9 6.8h-7.8zM629.7 297.4l3.9 6.8h-7.8zM689.3 360.2l3.9 6.8h-7.8zM689.6 348.3l3.9 6.8h-7.8zM585.5 231.3l3.9 6.8h-7.8zM602.4 255.9l3.9 6.8h-7.8zM674.9 345.1l3.9 6.8h-7.8zM611.6 258l3.9 6.8h-7.8zM696.3 336l3.9 6.8h-7.8zM627.6 287.9l3.9 6.8h-7.8zM677.7 358.1l3.9 6.8h-7.8zM675.8 353.2l3.9 6.8h-7.8zM584.1 257.9l3.9 6.8h-7.8zM688.9 325.2l3.9 6.8h-7.8zM617.9 286.3l3.9 6.8h-7.8zM546.3 225.3l3.9 6.8h-7.8zM516.9 200.7l3.9 6.8h-7.8zM649.4 328.7l3.9 6.8h-7.8zM669.7 328.7l3.9 6.8h-7.8zM601.7 250.4l3.9 6.8h-7.8zM686.9 360.1l3.9 6.8h-7.8zM600.6 256.2l3.9 6.8h-7.8zM687.4 343.6l3.9 6.8h-7.8zM505.4 180.3l3.9 6.8h-7.8zM599.2 258.2l3.9 6.8h-7.8zM565.6 219.9l3.9 6.8h-7.8zM648.4 278.7l3.9 6.8h-7.8zM623.8 249.9l3.9 6.8h-7.8zM635.2 326l3.9 6.8h-7.8zM687.7 325.2l3.9 6.8h-7.8zM665.2 319.1l3.9 6.8h-7.8zM667.4 342.4l3.9 6.8h-7.8zM634 284.9l3.9 6.8h-7.8zM684.1 339.3l3.9 6.8h-7.8zM657.6 275.3l3.9 6.8h-7.8zM679 327.7l3.9 6.8h-7.8zM692.9 322.2l3.9 6.8h-7.8zM667.9 327.5l3.9 6.8h-7.8zM645.3 300.1l3.9 6.8h-7.8zM599.5 240.2l3.9 6.8h-7.8zM692.7 286.2l3.9 6.8h-7.8zM680.6 298.5l3.9 6.8h-7.8zM683.4 344.3l3.9 6.8h-7.8zM586.5 253.8l3.9 6.8h-7.8zM645.7 304.9l3.9 6.8h-7.8zM690.4 280.3l3.9 6.8h-7.8zM594.2 219.1l3.9 6.8h-7.8zM684.6 311.1l3.9 6.8h-7.8zM661.6 302l3.9 6.8h-7.8zM585.7 239.8l3.9 6.8h-7.8zM630.3 289.6l3.9 6.8h-7.8zM531.1 208.5l3.9 6.8h-7.8zM673 288.8l3.9 6.8h-7.8zM677.4 299.6l3.9 6.8h-7.8zM502.2 195.4l3.9 6.8h-7.8zM610.3 268.3l3.9 6.8h-7.8zM680.9 322.1l3.9 6.8h-7.8zM579.7 271.4l3.9 6.8h-7.8zM661.5 303.5l3.9 6.8h-7.8zM684 329.1l3.9 6.8h-7.8zM664.4 287.6l3.9 6.8h-7.8zM551.3 217.7l3.9 6.8h-7.8zM692.5 345.2l3.9 6.8h-7.8zM679.1 336.9l3.9 6.8h-7.8zM664 308l3.9 6.8h-7.8zM619 279.8l3.9 6.8h-7.8zM665.5 314.5l3.9 6.8h-7.8zM634.4 254.2l3.9 6.8h-7.8zM549.9 182.9l3.9 6.8h-7.8zM551.3 248.9l3.9 6.8h-7.8zM513.9 209.2l3.9 6.8h-7.8zM569.5 233.7l3.9 6.8h-7.8zM594.1 231.4l3.9 6.8h-7.8zM669.8 284.2l3.9 6.8h-7.8zM665.3 346.8l3.9 6.8h-7.8zM685.3 318.9l3.9 6.8h-7.8zM539.9 225.2l3.9 6.8h-7.8zM633.7 289l3.9 6.8h-7.8zM532.6 219.6l3.9 6.8h-7.8zM641.3 290.3l3.9 6.8h-7.8zM532.4 237.6l3.9 6.8h-7.8zM526.1 196.3l3.9 6.8h-7.8zM543.9 202l3.9 6.8h-7.8zM634 291.6l3.9 6.8h-7.8zM680.4 359.3l3.9 6.8h-7.8zM604.8 262.1l3.9 6.8h-7.8zM678.7 348.6l3.9 6.8h-7.8zM590.3 244.3l3.9 6.8h-7.8zM606.3 248l3.9 6.8h-7.8zM653.3 334l3.9 6.8h-7.8zM530.5 227.3l3.9 6.8h-7.8zM648.6 331.2l3.9 6.8h-7.8zM665.6 302.2l3.9 6.8h-7.8zM685.5 298.3l3.9 6.8h-7.8zM520.4 191.8l3.9 6.8h-7.8zM683.5 320.1l3.9 6.8h-7.8zM664.4 326.7l3.9 6.8h-7.8zM665.1 325.5l3.9 6.8h-7.8zM517.4 187.4l3.9 6.8h-7.8zM690.1 335.2l3.9 6.8h-7.8zM603.5 262l3.9 6.8h-7.8zM662.4 312.7l3.9 6.8h-7.8zM661.6 309.3l3.9 6.8h-7.8zM692.6 327.1l3.9 6.8h-7.8zM667 329l3.9 6.8h-7.8zM699.3 340l3.9 6.8h-7.8zM589.9 253.8l3.9 6.8h-7.8zM672.1 300.4l3.9 6.8h-7.8zM665 322.6l3.9 6.8h-7.8zM659 304.9l3.9 6.8h-7.8zM669.2 262.8l3.9 6.8h-7.8zM662.7 322.6l3.9 6.8h-7.8zM620.1 271.4l3.9 6.8h-7.8zM670.4 339.7l3.9 6.8h-7.8zM534.6 210.5l3.9 6.8h-7.8zM654.6 301.8l3.9 6.8h-7.8zM649.6 304.3l3.9 6.8h-7.8zM583.9 245.9l3.9 6.8h-7.8zM664.3 301l3.9 6.8h-7.8zM672.7 273.3l3.9 6.8h-7.8zM552.4 244.2l3.9 6.8h-7.8zM609.1 244.8l3.9 6.8h-7.8zM523.7 202.5l3.9 6.8h-7.8zM666.7 330.2l3.9 6.8h-7.8zM533.8 216.1l3.9 6.8h-7.8zM589.1 257.6l3.9 6.8h-7.8zM648.4 314.9l3.9 6.8h-7.8zM649.3 326.4l3.9 6.8h-7.8zM505.3 198.7l3.9 6.8h-7.8zM695.6 406.9l3.9 6.8h-7.8zM589.3 237.2l3.9 6.8h-7.8zM667.8 320.3l3.9 6.8h-7.8zM586.8 243.7l3.9 6.8h-7.8zM666.6 300.2l3.9 6.8h-7.8zM624.3 283l3.9 6.8h-7.8zM615.1 291.3l3.9 6.8h-7.8zM653.8 287.6l3.9 6.8h-7.8zM665.8 295.5l3.9 6.8h-7.8zM666.8 332.1l3.9 6.8h-7.8zM674.2 332.8l3.9 6.8h-7.8zM600.9 285.9l3.9 6.8h-7.8zM538.3 226.1l3.9 6.8h-7.8zM596.4 259.1l3.9 6.8h-7.8zM617.3 268.3l3.9 6.8h-7.8zM667.5 319.9l3.9 6.8h-7.8zM640.2 288.6l3.9 6.8h-7.8zM613.1 250.7l3.9 6.8h-7.8zM541.3 216.3l3.9 6.8h-7.8zM666.7 309.5l3.9 6.8h-7.8zM546.3 216.3l3.9 6.8h-7.8zM659.4 297.9l3.9 6.8h-7.8zM674.2 361.5l3.9 6.8h-7.8zM668.8 332.8l3.9 6.8h-7.8zM565.6 242.8l3.9 6.8h-7.8zM625.2 270.1l3.9 6.8h-7.8zM695.1 308.3l3.9 6.8h-7.8zM538 211.1l3.9 6.8h-7.8zM673.4 324.8l3.9 6.8h-7.8zM645.6 289.5l3.9 6.8h-7.8zM668 310.2l3.9 6.8h-7.8zM635 304.6l3.9 6.8h-7.8zM551.9 225.8l3.9 6.8h-7.8zM663.8 287.4l3.9 6.8h-7.8zM476.8 176.1l3.9 6.8h-7.8zM688.8 313l3.9 6.8h-7.8zM683.4 330.2l3.9 6.8h-7.8zM629.8 264.1l3.9 6.8h-7.8zM661.5 305.5l3.9 6.8h-7.8zM660.5 325.5l3.9 6.8h-7.8zM698.3 336.9l3.9 6.8h-7.8zM512.8 190.4l3.9 6.8h-7.8zM609.3 258l3.9 6.8h-7.8zM638.3 292.7l3.9 6.8h-7.8zM682.4 337.1l3.9 6.8h-7.8zM677.7 342.6l3.9 6.8h-7.8zM642.4 291l3.9 6.8h-7.8zM485 172.1l3.9 6.8h-7.8zM670.9 352.5l3.9 6.8h-7.8zM638.3 295.8l3.9 6.8h-7.8zM549.1 225.4l3.9 6.8h-7.8zM669.5 323.5l3.9 6.8h-7.8zM647.7 276.7l3.9 6.8h-7.8zM611.7 264l3.9 6.8h-7.8zM601.1 263.3l3.9 6.8h-7.8zM659.8 332.9l3.9 6.8h-7.8zM594.7 255.5l3.9 6.8h-7.8zM695.2 327.9l3.9 6.8h-7.8zM654.4 311.7l3.9 6.8h-7.8zM596.4 273.2l3.9 6.8h-7.8zM659.8 325.3l3.9 6.8h-7.8zM693.2 394.8l3.9 6.8h-7.8zM688.9 365.2l3.9 6.8h-7.8zM673.3 352.3l3.9 6.8h-7.8zM691.7 355l3.9 6.8h-7.8zM679.9 288.6l3.9 6.8h-7.8zM673.6 339.9l3.9 6.8h-7.8zM643.6 306.6l3.9 6.8h-7.8zM561.8 222l3.9 6.8h-7.8zM677.8 336.4l3.9 6.8h-7.8zM669.8 326.5l3.9 6.8h-7.8zM697.3 323.9l3.9 6.8h-7.8zM615.8 269.9l3.9 6.8h-7.8zM689.8 323.6l3.9 6.8h-7.8zM585.6 250.4l3.9 6.8h-7.8zM695.6 323.6l3.9 6.8h-7.8zM699.7 350.7l3.9 6.8h-7.8zM515 181.1l3.9 6.8h-7.8zM616.8 268.5l3.9 6.8h-7.8zM699.9 295.1l3.9 6.8h-7.8zM697.4 323.4l3.9 6.8h-7.8zM672.8 331.1l3.9 6.8h-7.8zM556.2 224.9l3.9 6.8h-7.8zM477.7 179.5l3.9 6.8h-7.8zM595.2 256l3.9 6.8h-7.8zM695.4 373.4l3.9 6.8h-7.8zM683.9 298.3l3.9 6.8h-7.8zM643.7 312.4l3.9 6.8h-7.8zM671.7 405.6l3.9 6.8h-7.8zM650.7 365.3l3.9 6.8h-7.8zM692.1 421.6l3.9 6.8h-7.8zM646.3 375.4l3.9 6.8h-7.8zM637.5 368.7l3.9 6.8h-7.8zM652 382.2l3.9 6.8h-7.8zM654.2 384.8l3.9 6.8h-7.8zM692 415.1l3.9 6.8h-7.8zM676.4 409l3.9 6.8h-7.8zM635.2 357.7l3.9 6.8h-7.8zM658.2 361.5l3.9 6.8h-7.8zM633.2 328.5l3.9 6.8h-7.8zM679.7 385.7l3.9 6.8h-7.8zM690 406.1l3.9 6.8h-7.8zM616 245.4l3.9 6.8h-7.8z" fill="#626262"/>
<path d="M443.6 187.8h5.6v5.6h-5.6zM515.5 243.1h5.6v5.6h-5.6zM527.9 215.9h5.6v5.6h-5.6zM541.6 286.6h5.6v5.6h-5.6zM671 326.1h5.6v5.6h-5.6zM593.3 291.7h5.6v5.6h-5.6zM499.3 217.1h5.6v5.6h-5.6zM547.8 270h5.6v5.6h-5.6zM561.3 280.3h5.6v5.6h-5.6zM452.8 192.4h5.6v5.6h-5.6zM568.9 310.1h5.6v5.6h-5.6zM577 289.1h5.6v5.6h-5.6zM650.4 324h5.6v5.6h-5.6zM561.5 202.8h5.6v5.6h-5.6zM611 299.4h5.6v5.6h-5.6zM609.4 298.1h5.6v5.6h-5.6zM493.2 207.5h5.6v5.6h-5.6zM588.5 268.3h5.6v5.6h-5.6zM564.9 287h5.6v5.6h-5.6zM488.7 232.7h5.6v5.6h-5.6zM411.9 183.6h5.6v5.6h-5.6zM685.5 390.3h5.6v5.6h-5.6zM456.9 186.3h5.6v5.6h-5.6zM646.4 338.9h5.6v5.6h-5.6zM546.8 229.2h5.6v5.6h-5.6zM452 200.4h5.6v5.6h-5.6zM660.4 351.5h5.6v5.6h-5.6zM605.8 286.9h5.6v5.6h-5.6zM555.3 263.2h5.6v5.6h-5.6zM637.8 319.2h5.6v5.6h-5.6zM614.5 292.3h5.6v5.6h-5.6zM557.7 297.9h5.6v5.6h-5.6zM616.3 394.6h5.6v5.6h-5.6zM619.9 335.6h5.6v5.6h-5.6zM492.2 235.9h5.6v5.6h-5.6zM616 314.9h5.6v5.6h-5.6zM651.7 326.2h5.6v5.6h-5.6zM610.8 366.2h5.6v5.6h-5.6zM631 311.3h5.6v5.6h-5.6zM674.2 362.3h5.6v5.6h-5.6zM630.4 317.5h5.6v5.6h-5.6zM569.2 290.5h5.6v5.6h-5.6zM587.6 288.8h5.6v5.6h-5.6zM625.1 333.1h5.6v5.6h-5.6zM600.7 265.6h5.6v5.6h-5.6zM445.5 185.8h5.6v5.6h-5.6zM438.6 198.1h5.6v5.6h-5.6zM523.6 222.4h5.6v5.6h-5.6zM634.3 305.5h5.6v5.6h-5.6zM508.8 255.4h5.6v5.6h-5.6zM535.6 259.2h5.6v5.6h-5.6zM635.2 353h5.6v5.6h-5.6zM475.2 179h5.6v5.6h-5.6zM525.5 246.4h5.6v5.6h-5.6zM519.1 215.3h5.6v5.6h-5.6zM429.9 160.2h5.6v5.6h-5.6zM620.8 325.1h5.6v5.6h-5.6zM536 275.7h5.6v5.6h-5.6zM556 231.9h5.6v5.6h-5.6zM539 229.8h5.6v5.6h-5.6zM442.3 177.8h5.6v5.6h-5.6zM639 323.3h5.6v5.6h-5.6zM477.5 192.2h5.6v5.6h-5.6zM527 289.1h5.6v5.6h-5.6zM616.8 327h5.6v5.6h-5.6zM542.6 248.2h5.6v5.6h-5.6zM576.7 268.8h5.6v5.6h-5.6zM538.3 301.8h5.6v5.6h-5.6zM587.2 348h5.6v5.6h-5.6zM535.2 240.2h5.6v5.6h-5.6zM566.4 282.2h5.6v5.6h-5.6zM398.4 166.6h5.6v5.6h-5.6zM404.3 145.5h5.6v5.6h-5.6zM576.7 266.9h5.6v5.6h-5.6zM634.1 359.6h5.6v5.6h-5.6zM692.6 345.4h5.6v5.6h-5.6zM631.6 309.6h5.6v5.6h-5.6zM580.2 250h5.6v5.6h-5.6zM602.9 280.4h5.6v5.6h-5.6zM607.9 323.1h5.6v5.6h-5.6zM618.4 289.6h5.6v5.6h-5.6zM677.4 318h5.6v5.6h-5.6zM541.5 241.3h5.6v5.6h-5.6zM564.3 314.2h5.6v5.6h-5.6zM627.3 322.8h5.6v5.6h-5.6zM507.1 220.6h5.6v5.6h-5.6zM459.7 198.7h5.6v5.6h-5.6zM648.6 344.9h5.6v5.6h-5.6zM405 159.5h5.6v5.6h-5.6zM647.7 283.2h5.6v5.6h-5.6zM651.3 342.9h5.6v5.6h-5.6zM489.8 214.7h5.6v5.6h-5.6zM623 337.7h5.6v5.6h-5.6zM527.9 217.9h5.6v5.6h-5.6zM523.1 261.5h5.6v5.6h-5.6zM666.6 331.9h5.6v5.6h-5.6zM646.5 284.8h5.6v5.6h-5.6zM624.7 352h5.6v5.6h-5.6zM562.1 257.8h5.6v5.6h-5.6zM668.2 356.6h5.6v5.6h-5.6zM589.1 286.1h5.6v5.6h-5.6zM664.9 373.8h5.6v5.6h-5.6zM616.9 340.3h5.6v5.6h-5.6zM429.5 188h5.6v5.6h-5.6zM630.7 339.4h5.6v5.6h-5.6zM637.8 281h5.6v5.6h-5.6zM645.4 284.5h5.6v5.6h-5.6zM598.8 302.9h5.6v5.6h-5.6zM422.8 159.9h5.6v5.6h-5.6zM643 341.2h5.6v5.6h-5.6zM559.1 271.4h5.6v5.6h-5.6zM500.7 202.4h5.6v5.6h-5.6zM504.7 210.7h5.6v5.6h-5.6zM502.4 207.8h5.6v5.6h-5.6zM633.9 297.9h5.6v5.6h-5.6zM446.6 184.8h5.6v5.6h-5.6zM651.9 353.3h5.6v5.6h-5.6zM405.8 172.7h5.6v5.6h-5.6zM617.2 283.8h5.6v5.6h-5.6zM511.5 222.9h5.6v5.6h-5.6zM578.3 321.3h5.6v5.6h-5.6zM494.1 234.4h5.6v5.6h-5.6zM648.7 338.8h5.6v5.6h-5.6zM486.1 181.5h5.6v5.6h-5.6zM568.6 250.1h5.6v5.6h-5.6zM596.3 299.8h5.6v5.6h-5.6zM565.8 258.3h5.6v5.6h-5.6zM507.1 263.9h5.6v5.6h-5.6zM528.2 246.4h5.6v5.6h-5.6zM654.8 344.4h5.6v5.6h-5.6zM473.6 191.9h5.6v5.6h-5.6zM406.5 147.9h5.6v5.6h-5.6zM650.3 315.3h5.6v5.6h-5.6zM646.3 313.7h5.6v5.6h-5.6zM610.4 299h5.6v5.6h-5.6zM569.6 284.5h5.6v5.6h-5.6zM657.8 345.3h5.6v5.6h-5.6zM557.2 289.3h5.6v5.6h-5.6zM402.3 141.9h5.6v5.6h-5.6zM562 274.6h5.6v5.6h-5.6zM581.2 290.2h5.6v5.6h-5.6zM584.9 328.2h5.6v5.6h-5.6zM646.7 325h5.6v5.6h-5.6zM443.5 188.9h5.6v5.6h-5.6zM640.7 304.5h5.6v5.6h-5.6zM579.8 293.8h5.6v5.6h-5.6zM618.9 322.2h5.6v5.6h-5.6zM557.3 251.5h5.6v5.6h-5.6zM529.8 236.9h5.6v5.6h-5.6zM539.6 252.1h5.6v5.6h-5.6zM524.1 253h5.6v5.6h-5.6zM565.8 244.8h5.6v5.6h-5.6zM594.3 317.8h5.6v5.6h-5.6zM636.6 314.8h5.6v5.6h-5.6zM493 248.9h5.6v5.6h-5.6zM565.1 307.1h5.6v5.6h-5.6zM581.7 274.1h5.6v5.6h-5.6zM634.3 305.2h5.6v5.6h-5.6zM614.9 375.7h5.6v5.6h-5.6zM599 314.6h5.6v5.6h-5.6zM608.4 319.5h5.6v5.6h-5.6zM564.7 261.5h5.6v5.6h-5.6zM632.2 317.3h5.6v5.6h-5.6zM637.7 346.6h5.6v5.6h-5.6zM588.3 305.7h5.6v5.6h-5.6zM469.9 193h5.6v5.6h-5.6zM560 297.4h5.6v5.6h-5.6zM521.4 245.7h5.6v5.6h-5.6zM499.1 208.9h5.6v5.6h-5.6zM529.9 266h5.6v5.6h-5.6zM634.5 317.6h5.6v5.6h-5.6zM542.5 272h5.6v5.6h-5.6zM560.8 255.7h5.6v5.6h-5.6zM550.5 269.2h5.6v5.6h-5.6zM496.6 196.9h5.6v5.6h-5.6zM589.3 300.1h5.6v5.6h-5.6zM558 231.2h5.6v5.6h-5.6zM655.1 341.4h5.6v5.6h-5.6zM598.1 227.7h5.6v5.6h-5.6zM664.1 341.5h5.6v5.6h-5.6zM641.5 347.1h5.6v5.6h-5.6zM573.5 290.4h5.6v5.6h-5.6zM405.4 170.9h5.6v5.6h-5.6zM506.1 210.8h5.6v5.6h-5.6zM471 224.6h5.6v5.6h-5.6zM619.9 355.9h5.6v5.6h-5.6zM478.9 193.9h5.6v5.6h-5.6zM603 278.6h5.6v5.6h-5.6zM536.4 238.4h5.6v5.6h-5.6zM571.4 276.2h5.6v5.6h-5.6zM623.3 319.6h5.6v5.6h-5.6zM530.4 196.1h5.6v5.6h-5.6zM492.1 228.2h5.6v5.6h-5.6zM527.7 239.2h5.6v5.6h-5.6zM656.4 310h5.6v5.6h-5.6zM585.8 312.3h5.6v5.6h-5.6zM527.4 237.2h5.6v5.6h-5.6zM482.1 227.9h5.6v5.6h-5.6zM443.8 191.6h5.6v5.6h-5.6zM539.2 245.6h5.6v5.6h-5.6zM597.3 328.2h5.6v5.6h-5.6zM566.5 292.5h5.6v5.6h-5.6zM633.2 307.7h5.6v5.6h-5.6zM683 312.6h5.6v5.6h-5.6zM589.1 275.6h5.6v5.6h-5.6zM541.8 267.8h5.6v5.6h-5.6zM630.1 312.8h5.6v5.6h-5.6zM455.9 215.5h5.6v5.6h-5.6zM623.8 321.9h5.6v5.6h-5.6zM645.5 335.4h5.6v5.6h-5.6zM626.8 327.9h5.6v5.6h-5.6zM461.1 186.4h5.6v5.6h-5.6zM591.2 288.3h5.6v5.6h-5.6zM631.5 302.2h5.6v5.6h-5.6zM556.9 211.3h5.6v5.6h-5.6zM638.9 277h5.6v5.6h-5.6zM490 228.6h5.6v5.6h-5.6zM581.1 272.6h5.6v5.6h-5.6zM586.8 285.1h5.6v5.6h-5.6zM629 278.2h5.6v5.6h-5.6zM557 252.2h5.6v5.6h-5.6zM519.6 253.3h5.6v5.6h-5.6zM615.3 311.4h5.6v5.6h-5.6zM468.6 196.1h5.6v5.6h-5.6zM547.1 292.3h5.6v5.6h-5.6zM568.8 273.3h5.6v5.6h-5.6zM628.9 308.9h5.6v5.6h-5.6zM559.7 294.7h5.6v5.6h-5.6zM587.6 243.3h5.6v5.6h-5.6zM609.1 319.5h5.6v5.6h-5.6zM608.6 273.8h5.6v5.6h-5.6zM660.2 318.9h5.6v5.6h-5.6zM567.8 257.4h5.6v5.6h-5.6zM589.4 293.6h5.6v5.6h-5.6zM408.1 161.2h5.6v5.6h-5.6zM499.1 229h5.6v5.6h-5.6zM516.9 240.5h5.6v5.6h-5.6zM505.5 252.3h5.6v5.6h-5.6zM579.2 325.4h5.6v5.6h-5.6zM501.7 237.5h5.6v5.6h-5.6zM589.1 309.9h5.6v5.6h-5.6zM635.7 312.9h5.6v5.6h-5.6zM446.6 174h5.6v5.6h-5.6zM515.2 246.2h5.6v5.6h-5.6zM574.7 280h5.6v5.6h-5.6zM429 184.6h5.6v5.6h-5.6zM481.2 186.6h5.6v5.6h-5.6zM590 361.6h5.6v5.6h-5.6zM554.2 234.7h5.6v5.6h-5.6zM649.4 333.8h5.6v5.6h-5.6zM589.1 316.2h5.6v5.6h-5.6zM623.4 276.9h5.6v5.6h-5.6zM542.1 242.6h5.6v5.6h-5.6zM549.2 214.8h5.6v5.6h-5.6zM640.6 287.7h5.6v5.6h-5.6zM597.5 243.7h5.6v5.6h-5.6zM651.3 337h5.6v5.6h-5.6zM517.9 242.9h5.6v5.6h-5.6zM468.8 198.8h5.6v5.6h-5.6zM608.9 338.8h5.6v5.6h-5.6zM473.5 224.2h5.6v5.6h-5.6zM448.6 188.6h5.6v5.6h-5.6zM552.2 257.3h5.6v5.6h-5.6zM610.6 298.2h5.6v5.6h-5.6zM545.4 247.2h5.6v5.6h-5.6zM622.7 349.6h5.6v5.6h-5.6zM566.2 278.6h5.6v5.6h-5.6zM526.9 237.2h5.6v5.6h-5.6zM582.2 279h5.6v5.6h-5.6zM595.5 309.7h5.6v5.6h-5.6zM483.8 207.9h5.6v5.6h-5.6zM593.1 301.6h5.6v5.6h-5.6zM490.9 217.9h5.6v5.6h-5.6zM661.3 378.2h5.6v5.6h-5.6zM581.6 314.2h5.6v5.6h-5.6zM503.7 203.8h5.6v5.6h-5.6zM426.4 171.3h5.6v5.6h-5.6zM506.6 241.6h5.6v5.6h-5.6zM535.4 240.4h5.6v5.6h-5.6zM589.7 312.1h5.6v5.6h-5.6zM606.4 311.9h5.6v5.6h-5.6zM615.2 325h5.6v5.6h-5.6zM563.2 269.2h5.6v5.6h-5.6zM600.3 306.7h5.6v5.6h-5.6zM585.9 301.4h5.6v5.6h-5.6zM529.9 216.3h5.6v5.6h-5.6zM508 214.7h5.6v5.6h-5.6zM554.2 240.6h5.6v5.6h-5.6zM611.2 351.9h5.6v5.6h-5.6zM477.5 213.1h5.6v5.6h-5.6zM601.4 309.4h5.6v5.6h-5.6zM409.2 162.9h5.6v5.6h-5.6zM496.3 214.2h5.6v5.6h-5.6zM607.6 283.3h5.6v5.6h-5.6zM632.5 344.2h5.6v5.6h-5.6zM625.2 305.9h5.6v5.6h-5.6zM610.1 348.3h5.6v5.6h-5.6zM518.4 241.5h5.6v5.6h-5.6zM670.8 350.7h5.6v5.6h-5.6zM594.9 288.7h5.6v5.6h-5.6zM650.5 331.9h5.6v5.6h-5.6zM655.1 338h5.6v5.6h-5.6zM514 262.2h5.6v5.6h-5.6zM661.7 405.2h5.6v5.6h-5.6zM451.7 176.9h5.6v5.6h-5.6zM601.6 306.4h5.6v5.6h-5.6zM519.2 251.7h5.6v5.6h-5.6zM458.7 184.7h5.6v5.6h-5.6zM588.9 273.5h5.6v5.6h-5.6zM506 221.4h5.6v5.6h-5.6zM628.6 253.2h5.6v5.6h-5.6zM567.5 289.7h5.6v5.6h-5.6zM522.8 240.1h5.6v5.6h-5.6zM401.2 154.4h5.6v5.6h-5.6zM611.6 308.8h5.6v5.6h-5.6zM601.5 306.2h5.6v5.6h-5.6zM632 383.7h5.6v5.6h-5.6zM550.6 265.4h5.6v5.6h-5.6zM651.4 357.2h5.6v5.6h-5.6zM411.6 157.2h5.6v5.6h-5.6zM652 344.6h5.6v5.6h-5.6zM624.8 307.4h5.6v5.6h-5.6zM463 197h5.6v5.6h-5.6zM669.8 323.1h5.6v5.6h-5.6zM456.5 184.3h5.6v5.6h-5.6zM622.3 326.5h5.6v5.6h-5.6zM515.6 249.6h5.6v5.6h-5.6zM611.4 319h5.6v5.6h-5.6zM637.7 306.8h5.6v5.6h-5.6zM470.3 208.2h5.6v5.6h-5.6zM536.9 197.7h5.6v5.6h-5.6zM647.9 357.8h5.6v5.6h-5.6zM570.8 275.7h5.6v5.6h-5.6zM485 218.3h5.6v5.6h-5.6zM454.9 207.5h5.6v5.6h-5.6zM472.6 200.3h5.6v5.6h-5.6zM464.6 212.2h5.6v5.6h-5.6zM544.6 247.4h5.6v5.6h-5.6zM626.9 332.3h5.6v5.6h-5.6zM565.7 263.2h5.6v5.6h-5.6zM460.9 201.4h5.6v5.6h-5.6zM543.6 287.8h5.6v5.6h-5.6zM572.1 261.8h5.6v5.6h-5.6zM564.7 257.7h5.6v5.6h-5.6zM602.3 291.6h5.6v5.6h-5.6zM609.5 313.7h5.6v5.6h-5.6zM621.7 388.6h5.6v5.6h-5.6zM582.5 270.9h5.6v5.6h-5.6zM416.8 144.3h5.6v5.6h-5.6zM625.6 299.2h5.6v5.6h-5.6zM628.1 275.8h5.6v5.6h-5.6zM618.4 296.7h5.6v5.6h-5.6zM562.5 271.1h5.6v5.6h-5.6zM646.5 305.7h5.6v5.6h-5.6zM459.9 188.5h5.6v5.6h-5.6zM620.3 262.7h5.6v5.6h-5.6zM594 299.4h5.6v5.6h-5.6zM613.1 287.9h5.6v5.6h-5.6zM443.2 198.1h5.6v5.6h-5.6zM661.3 370.6h5.6v5.6h-5.6zM417.1 157.3h5.6v5.6h-5.6zM493.9 215.4h5.6v5.6h-5.6zM578.7 284.4h5.6v5.6h-5.6zM589.6 311.3h5.6v5.6h-5.6zM494.3 195.7h5.6v5.6h-5.6zM527.5 243.5h5.6v5.6h-5.6zM651.4 385.7h5.6v5.6h-5.6zM536.1 249.1h5.6v5.6h-5.6zM564.1 277.4h5.6v5.6h-5.6zM467.4 202.4h5.6v5.6h-5.6zM588.9 259.6h5.6v5.6h-5.6zM613.2 334.3h5.6v5.6h-5.6zM620.5 320.9h5.6v5.6h-5.6zM512.2 237h5.6v5.6h-5.6zM547.5 275.7h5.6v5.6h-5.6zM604.7 323.9h5.6v5.6h-5.6zM662.5 292h5.6v5.6h-5.6zM625.7 330.4h5.6v5.6h-5.6zM508.1 221.2h5.6v5.6h-5.6zM442.1 186.5h5.6v5.6h-5.6zM537.8 237.3h5.6v5.6h-5.6zM581.2 263.2h5.6v5.6h-5.6zM523.4 260.5h5.6v5.6h-5.6zM629.3 319.8h5.6v5.6h-5.6zM519.1 233.9h5.6v5.6h-5.6zM473 202.7h5.6v5.6h-5.6zM595.2 298.2h5.6v5.6h-5.6zM623.9 315.9h5.6v5.6h-5.6zM503.5 189h5.6v5.6h-5.6zM539.2 235.1h5.6v5.6h-5.6zM520 235.5h5.6v5.6h-5.6zM415.9 174.4h5.6v5.6h-5.6zM609.9 343.5h5.6v5.6h-5.6zM432.3 167.2h5.6v5.6h-5.6zM596.9 350h5.6v5.6h-5.6zM599.7 302.2h5.6v5.6h-5.6zM581.4 298.3h5.6v5.6h-5.6zM426.4 167.8h5.6v5.6h-5.6zM422.6 164.4h5.6v5.6h-5.6zM578.4 319.9h5.6v5.6h-5.6zM573.5 274.7h5.6v5.6h-5.6zM404.6 157.4h5.6v5.6h-5.6zM400.2 167.3h5.6v5.6h-5.6zM626.3 365.3h5.6v5.6h-5.6zM536.9 220.9h5.6v5.6h-5.6zM616.1 306.5h5.6v5.6h-5.6zM501.4 226.9h5.6v5.6h-5.6zM521.7 276h5.6v5.6h-5.6zM648.4 401.2h5.6v5.6h-5.6zM501.1 226.2h5.6v5.6h-5.6zM556.1 275.8h5.6v5.6h-5.6zM575.1 303.2h5.6v5.6h-5.6zM615.2 342.4h5.6v5.6h-5.6zM536 245.4h5.6v5.6h-5.6zM603.8 326.5h5.6v5.6h-5.6zM509 220.7h5.6v5.6h-5.6zM409.6 147.6h5.6v5.6h-5.6zM497.4 227.9h5.6v5.6h-5.6zM439.2 192.3h5.6v5.6h-5.6zM462.8 171.6h5.6v5.6h-5.6zM621.8 267.4h5.6v5.6h-5.6zM568 276h5.6v5.6h-5.6zM663.1 360.6h5.6v5.6h-5.6zM497.2 240.8h5.6v5.6h-5.6zM662.2 365.8h5.6v5.6h-5.6zM533.2 246.6h5.6v5.6h-5.6zM449.4 207.7h5.6v5.6h-5.6zM567.5 283.5h5.6v5.6h-5.6zM583.8 283.1h5.6v5.6h-5.6zM610.9 312.4h5.6v5.6h-5.6zM589.2 318.2h5.6v5.6h-5.6zM531.2 253.2h5.6v5.6h-5.6zM488.6 219.3h5.6v5.6h-5.6zM540.7 225.5h5.6v5.6h-5.6zM569 289.9h5.6v5.6h-5.6zM497 225.3h5.6v5.6h-5.6zM530.4 286h5.6v5.6h-5.6zM646 333.9h5.6v5.6h-5.6zM559.4 268.9h5.6v5.6h-5.6zM473.6 200h5.6v5.6h-5.6zM606.8 326.3h5.6v5.6h-5.6zM544.2 254.9h5.6v5.6h-5.6zM578.4 267.8h5.6v5.6h-5.6zM552.7 302.1h5.6v5.6h-5.6zM468.9 227.4h5.6v5.6h-5.6zM619.8 303.7h5.6v5.6h-5.6zM588.8 266.8h5.6v5.6h-5.6zM672.6 383.7h5.6v5.6h-5.6zM394 143.3h5.6v5.6h-5.6zM590.4 369.5h5.6v5.6h-5.6zM559.9 268.4h5.6v5.6h-5.6zM561.9 295.7h5.6v5.6h-5.6zM617.2 279.1h5.6v5.6h-5.6zM515.1 237.5h5.6v5.6h-5.6zM554.3 292.2h5.6v5.6h-5.6zM477.1 216.4h5.6v5.6h-5.6zM588.4 279.5h5.6v5.6h-5.6zM562.4 331.5h5.6v5.6h-5.6zM426.5 183.1h5.6v5.6h-5.6zM511.5 231.5h5.6v5.6h-5.6zM553.3 252.9h5.6v5.6h-5.6zM581.7 281.5h5.6v5.6h-5.6zM458.1 214h5.6v5.6h-5.6zM598.3 280.2h5.6v5.6h-5.6zM634.2 327.3h5.6v5.6h-5.6zM539 238.1h5.6v5.6h-5.6zM442.9 201.3h5.6v5.6h-5.6zM482.5 212.4h5.6v5.6h-5.6zM624.4 342.9h5.6v5.6h-5.6zM581.8 303h5.6v5.6h-5.6zM478.2 203.9h5.6v5.6h-5.6zM490.7 231h5.6v5.6h-5.6zM637 353.9h5.6v5.6h-5.6zM609.3 277.8h5.6v5.6h-5.6zM612.3 330.1h5.6v5.6h-5.6zM480 260.7h5.6v5.6h-5.6zM675.1 347.1h5.6v5.6h-5.6zM518.4 252.5h5.6v5.6h-5.6zM544 230.4h5.6v5.6h-5.6zM512.6 244.6h5.6v5.6h-5.6zM656.2 326h5.6v5.6h-5.6zM600.5 323.6h5.6v5.6h-5.6zM585.8 290.4h5.6v5.6h-5.6zM557.4 242.6h5.6v5.6h-5.6zM616.2 343.7h5.6v5.6h-5.6zM568.9 273.5h5.6v5.6h-5.6zM567.5 253h5.6v5.6h-5.6zM484.6 217.1h5.6v5.6h-5.6zM635.3 300.9h5.6v5.6h-5.6zM442.5 190.9h5.6v5.6h-5.6zM650.1 335.9h5.6v5.6h-5.6zM651.6 328.7h5.6v5.6h-5.6zM580 304.2h5.6v5.6h-5.6zM489 200.6h5.6v5.6h-5.6zM507.6 249.6h5.6v5.6h-5.6zM479.7 185.7h5.6v5.6h-5.6zM613.2 355.5h5.6v5.6h-5.6zM546 265.1h5.6v5.6h-5.6zM665.9 341.6h5.6v5.6h-5.6zM541 241.3h5.6v5.6h-5.6zM538.2 266.7h5.6v5.6h-5.6zM608.8 304.3h5.6v5.6h-5.6zM644.9 329.2h5.6v5.6h-5.6zM580.7 314.1h5.6v5.6h-5.6zM472.2 201.7h5.6v5.6h-5.6zM491.7 217.8h5.6v5.6h-5.6zM615.8 325.2h5.6v5.6h-5.6zM624.9 349.2h5.6v5.6h-5.6zM674.1 350.5h5.6v5.6h-5.6zM589.7 298.9h5.6v5.6h-5.6zM627.9 323.3h5.6v5.6h-5.6zM608.5 328.7h5.6v5.6h-5.6zM585.2 330.1h5.6v5.6h-5.6zM632.5 299.8h5.6v5.6h-5.6zM503.1 227.4h5.6v5.6h-5.6zM485.1 215.9h5.6v5.6h-5.6zM533.3 263.7h5.6v5.6h-5.6zM551 298.9h5.6v5.6h-5.6zM657.4 342.3h5.6v5.6h-5.6zM635.5 333.2h5.6v5.6h-5.6zM621.1 348.2h5.6v5.6h-5.6zM647.3 301.7h5.6v5.6h-5.6zM550.7 247.2h5.6v5.6h-5.6zM667.3 337.5h5.6v5.6h-5.6zM650.1 337.4h5.6v5.6h-5.6zM496.9 228.7h5.6v5.6h-5.6zM549.4 252h5.6v5.6h-5.6zM532.8 287.3h5.6v5.6h-5.6zM499.5 215.6h5.6v5.6h-5.6zM655.3 335.7h5.6v5.6h-5.6zM552.3 290.6h5.6v5.6h-5.6zM643.3 353.9h5.6v5.6h-5.6zM594.1 297.6h5.6v5.6h-5.6zM438.4 187.7h5.6v5.6h-5.6zM561.6 292.4h5.6v5.6h-5.6zM627.5 321.3h5.6v5.6h-5.6zM535.6 266.6h5.6v5.6h-5.6zM528.9 229.7h5.6v5.6h-5.6zM458.5 198.3h5.6v5.6h-5.6zM570.1 239h5.6v5.6h-5.6zM656.2 317.3h5.6v5.6h-5.6zM407.5 149.1h5.6v5.6h-5.6zM646.4 369h5.6v5.6h-5.6zM594.7 285.6h5.6v5.6h-5.6zM525.6 251.5h5.6v5.6h-5.6zM648.5 310.8h5.6v5.6h-5.6zM653.6 334.1h5.6v5.6h-5.6zM662.6 338.3h5.6v5.6h-5.6zM567.7 256.5h5.6v5.6h-5.6zM557.5 289.5h5.6v5.6h-5.6zM606.6 261h5.6v5.6h-5.6zM646.8 351.9h5.6v5.6h-5.6zM543 316.5h5.6v5.6h-5.6zM538.7 237.3h5.6v5.6h-5.6zM556.2 269h5.6v5.6h-5.6zM409.5 145.7h5.6v5.6h-5.6zM638.2 327.7h5.6v5.6h-5.6zM566.7 233.9h5.6v5.6h-5.6zM568.6 292.9h5.6v5.6h-5.6zM600.8 288.4h5.6v5.6h-5.6zM632.7 273.6h5.6v5.6h-5.6zM614 275.5h5.6v5.6h-5.6zM539.1 220.5h5.6v5.6h-5.6zM529.4 241.8h5.6v5.6h-5.6zM539 272.9h5.6v5.6h-5.6zM581.7 276.7h5.6v5.6h-5.6zM633 291.6h5.6v5.6h-5.6zM397.5 145h5.6v5.6h-5.6zM595.7 300.6h5.6v5.6h-5.6zM638.9 260.9h5.6v5.6h-5.6zM587.4 306.4h5.6v5.6h-5.6zM550.1 271.6h5.6v5.6h-5.6zM570.1 216.8h5.6v5.6h-5.6zM578.3 313.9h5.6v5.6h-5.6zM599.7 254.8h5.6v5.6h-5.6zM448.1 186.4h5.6v5.6h-5.6zM629.7 353.1h5.6v5.6h-5.6zM585.5 245.8h5.6v5.6h-5.6zM524.8 206.9h5.6v5.6h-5.6zM651.5 305h5.6v5.6h-5.6zM554 239.7h5.6v5.6h-5.6zM626.6 314.4h5.6v5.6h-5.6zM530.2 236.2h5.6v5.6h-5.6zM584.9 275h5.6v5.6h-5.6zM498.5 216.6h5.6v5.6h-5.6zM523.8 238.8h5.6v5.6h-5.6zM538.1 234.1h5.6v5.6h-5.6zM481.3 216.8h5.6v5.6h-5.6zM624 316.1h5.6v5.6h-5.6zM565.2 248.4h5.6v5.6h-5.6zM542.3 295.8h5.6v5.6h-5.6zM591.9 258.9h5.6v5.6h-5.6zM511.3 246.7h5.6v5.6h-5.6zM562.5 253.2h5.6v5.6h-5.6zM588.6 300.5h5.6v5.6h-5.6zM597.7 312.1h5.6v5.6h-5.6zM559.2 289.1h5.6v5.6h-5.6zM620.9 353.3h5.6v5.6h-5.6zM642.9 306.5h5.6v5.6h-5.6zM660.1 420.7h5.6v5.6h-5.6zM587.2 300.8h5.6v5.6h-5.6zM660.5 319.9h5.6v5.6h-5.6zM655.5 301.3h5.6v5.6h-5.6zM604.9 367.9h5.6v5.6h-5.6zM477.6 231.8h5.6v5.6h-5.6zM602.3 301.1h5.6v5.6h-5.6zM581.6 305.9h5.6v5.6h-5.6zM613.5 345.9h5.6v5.6h-5.6zM523.1 244.4h5.6v5.6h-5.6zM679.6 344.5h5.6v5.6h-5.6zM542.2 255.6h5.6v5.6h-5.6zM695.8 390.8h5.6v5.6h-5.6zM524.6 244h5.6v5.6h-5.6zM570.8 247.6h5.6v5.6h-5.6zM609.7 327.9h5.6v5.6h-5.6zM520 207.3h5.6v5.6h-5.6zM555.8 249.2h5.6v5.6h-5.6zM606.1 338.7h5.6v5.6h-5.6zM622.6 322.7h5.6v5.6h-5.6zM651.7 343.1h5.6v5.6h-5.6zM585.6 292.3h5.6v5.6h-5.6zM660 371h5.6v5.6h-5.6zM526.1 243.7h5.6v5.6h-5.6zM596.4 244h5.6v5.6h-5.6zM623.5 323.5h5.6v5.6h-5.6zM452.8 154.5h5.6v5.6h-5.6zM628.7 263.9h5.6v5.6h-5.6zM634.5 368.2h5.6v5.6h-5.6zM587.6 318.7h5.6v5.6h-5.6zM652.9 324.6h5.6v5.6h-5.6zM613 307.3h5.6v5.6h-5.6zM546.9 261.9h5.6v5.6h-5.6zM632.3 350.6h5.6v5.6h-5.6zM579.1 264.6h5.6v5.6h-5.6zM610 282.9h5.6v5.6h-5.6zM671.4 333h5.6v5.6h-5.6zM612.4 312.7h5.6v5.6h-5.6zM627 326.4h5.6v5.6h-5.6zM633.9 313.1h5.6v5.6h-5.6zM502 240.1h5.6v5.6h-5.6zM422.8 159.7h5.6v5.6h-5.6zM448.5 188.6h5.6v5.6h-5.6zM568.2 259h5.6v5.6h-5.6zM660.7 315h5.6v5.6h-5.6zM564.3 302.8h5.6v5.6h-5.6zM652.9 328.5h5.6v5.6h-5.6zM529 226.2h5.6v5.6h-5.6zM269.2 69.2h5.6v5.6h-5.6zM269.2 82.2h5.6v5.6h-5.6zM283.2 79.2h5.6v5.6h-5.6zM293.2 74.2h5.6v5.6h-5.6zM301.7 79.2h5.6v5.6h-5.6zM305.7 73.7h5.6v5.6h-5.6zM306.2 78.2h5.6v5.6h-5.6zM307.2 96.7h5.6v5.6h-5.6zM320.2 82.2h5.6v5.6h-5.6zM323.2 88.2h5.6v5.6h-5.6zM329.7 90.2h5.6v5.6h-5.6zM326.2 93.2h5.6v5.6h-5.6zM326.2 99.2h5.6v5.6h-5.6zM308.2 108.2h5.6v5.6h-5.6zM334.7 113.2h5.6v5.6h-5.6zM322.7 89.2h5.6v5.6h-5.6zM351.2 110.2h5.6v5.6h-5.6zM357.2 109.7h5.6v5.6h-5.6zM359.2 117.2h5.6v5.6h-5.6zM365.2 117.2h5.6v5.6h-5.6zM371.2 125.2h5.6v5.6h-5.6zM381.2 124.2h5.6v5.6h-5.6zM374.2 129.2h5.6v5.6h-5.6zM387.2 131.2h5.6v5.6h-5.6zM387.7 135.2h5.6v5.6h-5.6zM351.2 128.2h5.6v5.6h-5.6zM355.2 133.2h5.6v5.6h-5.6zM371.2 139.2h5.6v5.6h-5.6zM373.2 142.2h5.6v5.6h-5.6zM382.2 151.2h5.6v5.6h-5.6zM389.2 157.2h5.6v5.6h-5.6zM388.2 163.2h5.6v5.6h-5.6zM341.2 124.2h5.6v5.6h-5.6zM613.7 257.2h5.6v5.6h-5.6zM648.2 260.2h5.6v5.6h-5.6z" fill="#1e1e1e"/>
<path d="M498 251.6a2.9 2.9 0 1 0 5.8 0a2.9 2.9 0 1 0 -5.8 0zM582.6 264.6a2.9 2.9 0 1 0 5.8 0a2.9 2.9 0 1 0 -5.8 0zM628.4 324.5a2.9 2.9 0 1 0 5.8 0a2.9 2.9 0 1 0 -5.8 0zM641.1 317.5a2.9 2.9 0 1 0 5.8 0a2.9 2.9 0 1 0 -5.8 0zM556.8 230.8a2.9 2.9 0 1 0 5.8 0a2.9 2.9 0 1 0 -5.8 0zM458.1 185.4a2.9 2.9 0 1 0 5.8 0a2.9 2.9 0 1 0 -5.8 0zM625.5 344a2.9 2.9 0 1 0 5.8 0a2.9 2.9 0 1 0 -5.8 0zM616.9 324.8a2.9 2.9 0 1 0 5.8 0a2.9 2.9 0 1 0 -5.8 0zM565.7 311.1a2.9 2.9 0 1 0 5.8 0a2.9 2.9 0 1 0 -5.8 0zM660.6 340a2.9 2.9 0 1 0 5.8 0a2.9 2.9 0 1 0 -5.8 0zM595.6 308.2a2.9 2.9 0 1 0 5.8 0a2.9 2.9 0 1 0 -5.8 0zM598.6 289.6a2.9 2.9 0 1 0 5.8 0a2.9 2.9 0 1 0 -5.8 0zM470.9 205.3a2.9 2.9 0 1 0 5.8 0a2.9 2.9 0 1 0 -5.8 0zM654.9 322.2a2.9 2.9 0 1 0 5.8 0a2.9 2.9 0 1 0 -5.8 0zM664.2 321.4a2.9 2.9 0 1 0 5.8 0a2.9 2.9 0 1 0 -5.8 0zM508.6 223.3a2.9 2.9 0 1 0 5.8 0a2.9 2.9 0 1 0 -5.8 0zM625.9 346.7a2.9 2.9 0 1 0 5.8 0a2.9 2.9 0 1 0 -5.8 0zM597 314a2.9 2.9 0 1 0 5.8 0a2.9 2.9 0 1 0 -5.8 0zM565.3 266.2a2.9 2.9 0 1 0 5.8 0a2.9 2.9 0 1 0 -5.8 0zM598.7 293.2a2.9 2.9 0 1 0 5.8 0a2.9 2.9 0 1 0 -5.8 0zM491.5 242.7a2.9 2.9 0 1 0 5.8 0a2.9 2.9 0 1 0 -5.8 0zM556.6 283.6a2.9 2.9 0 1 0 5.8 0a2.9 2.9 0 1 0 -5.8 0zM553.1 277a2.9 2.9 0 1 0 5.8 0a2.9 2.9 0 1 0 -5.8 0zM612.6 281a2.9 2.9 0 1 0 5.8 0a2.9 2.9 0 1 0 -5.8 0zM588.9 286.6a2.9 2.9 0 1 0 5.8 0a2.9 2.9 0 1 0 -5.8 0zM427.5 168.5a2.9 2.9 0 1 0 5.8 0a2.9 2.9 0 1 0 -5.8 0zM543 224.8a2.9 2.9 0 1 0 5.8 0a2.9 2.9 0 1 0 -5.8 0zM563.3 300a2.9 2.9 0 1 0 5.8 0a2.9 2.9 0 1 0 -5.8 0zM559.2 269.5a2.9 2.9 0 1 0 5.8 0a2.9 2.9 0 1 0 -5.8 0zM628.7 309.1a2.9 2.9 0 1 0 5.8 0a2.9 2.9 0 1 0 -5.8 0zM635 299.8a2.9 2.9 0 1 0 5.8 0a2.9 2.9 0 1 0 -5.8 0zM653.5 348.1a2.9 2.9 0 1 0 5.8 0a2.9 2.9 0 1 0 -5.8 0zM651.8 377a2.9 2.9 0 1 0 5.8 0a2.9 2.9 0 1 0 -5.8 0zM582.4 306.8a2.9 2.9 0 1 0 5.8 0a2.9 2.9 0 1 0 -5.8 0zM593.8 323.6a2.9 2.9 0 1 0 5.8 0a2.9 2.9 0 1 0 -5.8 0zM600.6 273.7a2.9 2.9 0 1 0 5.8 0a2.9 2.9 0 1 0 -5.8 0zM585.5 299.1a2.9 2.9 0 1 0 5.8 0a2.9 2.9 0 1 0 -5.8 0zM439.7 192.4a2.9 2.9 0 1 0 5.8 0a2.9 2.9 0 1 0 -5.8 0zM486.7 246.2a2.9 2.9 0 1 0 5.8 0a2.9 2.9 0 1 0 -5.8 0zM630.1 319.7a2.9 2.9 0 1 0 5.8 0a2.9 2.9 0 1 0 -5.8 0zM623.5 293.8a2.9 2.9 0 1 0 5.8 0a2.9 2.9 0 1 0 -5.8 0zM548.1 267.8a2.9 2.9 0 1 0 5.8 0a2.9 2.9 0 1 0 -5.8 0zM519.2 240a2.9 2.9 0 1 0 5.8 0a2.9 2.9 0 1 0 -5.8 0zM595.3 337.6a2.9 2.9 0 1 0 5.8 0a2.9 2.9 0 1 0 -5.8 0zM637.9 338.6a2.9 2.9 0 1 0 5.8 0a2.9 2.9 0 1 0 -5.8 0zM454.6 204.7a2.9 2.9 0 1 0 5.8 0a2.9 2.9 0 1 0 -5.8 0zM608.1 312.8a2.9 2.9 0 1 0 5.8 0a2.9 2.9 0 1 0 -5.8 0zM527.1 270.9a2.9 2.9 0 1 0 5.8 0a2.9 2.9 0 1 0 -5.8 0zM535.2 250a2.9 2.9 0 1 0 5.8 0a2.9 2.9 0 1 0 -5.8 0zM574.1 265.4a2.9 2.9 0 1 0 5.8 0a2.9 2.9 0 1 0 -5.8 0zM508.3 206.7a2.9 2.9 0 1 0 5.8 0a2.9 2.9 0 1 0 -5.8 0zM622.3 343.7a2.9 2.9 0 1 0 5.8 0a2.9 2.9 0 1 0 -5.8 0zM479.6 225.6a2.9 2.9 0 1 0 5.8 0a2.9 2.9 0 1 0 -5.8 0zM583.5 308.9a2.9 2.9 0 1 0 5.8 0a2.9 2.9 0 1 0 -5.8 0zM610.6 310.6a2.9 2.9 0 1 0 5.8 0a2.9 2.9 0 1 0 -5.8 0zM635.2 360.3a2.9 2.9 0 1 0 5.8 0a2.9 2.9 0 1 0 -5.8 0zM592.9 275.6a2.9 2.9 0 1 0 5.8 0a2.9 2.9 0 1 0 -5.8 0zM495.2 249.5a2.9 2.9 0 1 0 5.8 0a2.9 2.9 0 1 0 -5.8 0zM631.9 300.7a2.9 2.9 0 1 0 5.8 0a2.9 2.9 0 1 0 -5.8 0zM651.5 320.1a2.9 2.9 0 1 0 5.8 0a2.9 2.9 0 1 0 -5.8 0zM431.7 170.2a2.9 2.9 0 1 0 5.8 0a2.9 2.9 0 1 0 -5.8 0zM648 330.4a2.9 2.9 0 1 0 5.8 0a2.9 2.9 0 1 0 -5.8 0zM603.5 298.7a2.9 2.9 0 1 0 5.8 0a2.9 2.9 0 1 0 -5.8 0zM599.8 314.7a2.9 2.9 0 1 0 5.8 0a2.9 2.9 0 1 0 -5.8 0zM564.2 266.7a2.9 2.9 0 1 0 5.8 0a2.9 2.9 0 1 0 -5.8 0zM507.9 215a2.9 2.9 0 1 0 5.8 0a2.9 2.9 0 1 0 -5.8 0zM600.2 318.3a2.9 2.9 0 1 0 5.8 0a2.9 2.9 0 1 0 -5.8 0zM643.5 355.2a2.9 2.9 0 1 0 5.8 0a2.9 2.9 0 1 0 -5.8 0zM425.1 187.3a2.9 2.9 0 1 0 5.8 0a2.9 2.9 0 1 0 -5.8 0zM593.2 298.5a2.9 2.9 0 1 0 5.8 0a2.9 2.9 0 1 0 -5.8 0zM605.9 316.9a2.9 2.9 0 1 0 5.8 0a2.9 2.9 0 1 0 -5.8 0zM648.6 290.4a2.9 2.9 0 1 0 5.8 0a2.9 2.9 0 1 0 -5.8 0zM413.8 167.6a2.9 2.9 0 1 0 5.8 0a2.9 2.9 0 1 0 -5.8 0zM560.5 303.6a2.9 2.9 0 1 0 5.8 0a2.9 2.9 0 1 0 -5.8 0zM494 236.3a2.9 2.9 0 1 0 5.8 0a2.9 2.9 0 1 0 -5.8 0zM548.2 250.4a2.9 2.9 0 1 0 5.8 0a2.9 2.9 0 1 0 -5.8 0zM646.8 346.8a2.9 2.9 0 1 0 5.8 0a2.9 2.9 0 1 0 -5.8 0zM513.8 241.4a2.9 2.9 0 1 0 5.8 0a2.9 2.9 0 1 0 -5.8 0zM558.4 292.3a2.9 2.9 0 1 0 5.8 0a2.9 2.9 0 1 0 -5.8 0zM633.9 288.5a2.9 2.9 0 1 0 5.8 0a2.9 2.9 0 1 0 -5.8 0zM623 303a2.9 2.9 0 1 0 5.8 0a2.9 2.9 0 1 0 -5.8 0zM648.3 335.6a2.9 2.9 0 1 0 5.8 0a2.9 2.9 0 1 0 -5.8 0zM492.7 232.8a2.9 2.9 0 1 0 5.8 0a2.9 2.9 0 1 0 -5.8 0zM466.1 215.8a2.9 2.9 0 1 0 5.8 0a2.9 2.9 0 1 0 -5.8 0zM526.2 252.9a2.9 2.9 0 1 0 5.8 0a2.9 2.9 0 1 0 -5.8 0zM583.4 288.3a2.9 2.9 0 1 0 5.8 0a2.9 2.9 0 1 0 -5.8 0zM612.4 321.6a2.9 2.9 0 1 0 5.8 0a2.9 2.9 0 1 0 -5.8 0zM489.9 239.2a2.9 2.9 0 1 0 5.8 0a2.9 2.9 0 1 0 -5.8 0zM604.4 268.9a2.9 2.9 0 1 0 5.8 0a2.9 2.9 0 1 0 -5.8 0zM526.3 246.9a2.9 2.9 0 1 0 5.8 0a2.9 2.9 0 1 0 -5.8 0zM655.5 327.5a2.9 2.9 0 1 0 5.8 0a2.9 2.9 0 1 0 -5.8 0zM593.3 303.8a2.9 2.9 0 1 0 5.8 0a2.9 2.9 0 1 0 -5.8 0zM499.3 249.8a2.9 2.9 0 1 0 5.8 0a2.9 2.9 0 1 0 -5.8 0zM635.6 291.3a2.9 2.9 0 1 0 5.8 0a2.9 2.9 0 1 0 -5.8 0zM583.2 305.8a2.9 2.9 0 1 0 5.8 0a2.9 2.9 0 1 0 -5.8 0zM626.1 276.4a2.9 2.9 0 1 0 5.8 0a2.9 2.9 0 1 0 -5.8 0zM591.2 279.9a2.9 2.9 0 1 0 5.8 0a2.9 2.9 0 1 0 -5.8 0zM643.5 314.1a2.9 2.9 0 1 0 5.8 0a2.9 2.9 0 1 0 -5.8 0zM541.4 258.6a2.9 2.9 0 1 0 5.8 0a2.9 2.9 0 1 0 -5.8 0zM657 319.3a2.9 2.9 0 1 0 5.8 0a2.9 2.9 0 1 0 -5.8 0zM417.7 168.5a2.9 2.9 0 1 0 5.8 0a2.9 2.9 0 1 0 -5.8 0zM562 270.7a2.9 2.9 0 1 0 5.8 0a2.9 2.9 0 1 0 -5.8 0zM506 233.3a2.9 2.9 0 1 0 5.8 0a2.9 2.9 0 1 0 -5.8 0zM662.6 296.2a2.9 2.9 0 1 0 5.8 0a2.9 2.9 0 1 0 -5.8 0zM419.6 160.4a2.9 2.9 0 1 0 5.8 0a2.9 2.9 0 1 0 -5.8 0zM543.1 256.1a2.9 2.9 0 1 0 5.8 0a2.9 2.9 0 1 0 -5.8 0zM564.2 291.9a2.9 2.9 0 1 0 5.8 0a2.9 2.9 0 1 0 -5.8 0zM468.2 223.5a2.9 2.9 0 1 0 5.8 0a2.9 2.9 0 1 0 -5.8 0zM648.4 392.2a2.9 2.9 0 1 0 5.8 0a2.9 2.9 0 1 0 -5.8 0zM626.2 319.7a2.9 2.9 0 1 0 5.8 0a2.9 2.9 0 1 0 -5.8 0zM590.5 278.7a2.9 2.9 0 1 0 5.8 0a2.9 2.9 0 1 0 -5.8 0zM567.6 286.4a2.9 2.9 0 1 0 5.8 0a2.9 2.9 0 1 0 -5.8 0zM518.2 259.9a2.9 2.9 0 1 0 5.8 0a2.9 2.9 0 1 0 -5.8 0zM508.6 242.4a2.9 2.9 0 1 0 5.8 0a2.9 2.9 0 1 0 -5.8 0zM567.6 258a2.9 2.9 0 1 0 5.8 0a2.9 2.9 0 1 0 -5.8 0zM602.2 302.6a2.9 2.9 0 1 0 5.8 0a2.9 2.9 0 1 0 -5.8 0zM638.7 322.6a2.9 2.9 0 1 0 5.8 0a2.9 2.9 0 1 0 -5.8 0zM531.9 228.9a2.9 2.9 0 1 0 5.8 0a2.9 2.9 0 1 0 -5.8 0zM640.1 296.8a2.9 2.9 0 1 0 5.8 0a2.9 2.9 0 1 0 -5.8 0zM609.6 337.9a2.9 2.9 0 1 0 5.8 0a2.9 2.9 0 1 0 -5.8 0zM506.7 199.8a2.9 2.9 0 1 0 5.8 0a2.9 2.9 0 1 0 -5.8 0zM433.3 187a2.9 2.9 0 1 0 5.8 0a2.9 2.9 0 1 0 -5.8 0zM425.6 176.7a2.9 2.9 0 1 0 5.8 0a2.9 2.9 0 1 0 -5.8 0zM655.8 362.6a2.9 2.9 0 1 0 5.8 0a2.9 2.9 0 1 0 -5.8 0zM532.5 270.4a2.9 2.9 0 1 0 5.8 0a2.9 2.9 0 1 0 -5.8 0zM462.3 194.5a2.9 2.9 0 1 0 5.8 0a2.9 2.9 0 1 0 -5.8 0zM609.2 339.2a2.9 2.9 0 1 0 5.8 0a2.9 2.9 0 1 0 -5.8 0zM540 251.6a2.9 2.9 0 1 0 5.8 0a2.9 2.9 0 1 0 -5.8 0zM652.3 374.4a2.9 2.9 0 1 0 5.8 0a2.9 2.9 0 1 0 -5.8 0zM609.9 349.1a2.9 2.9 0 1 0 5.8 0a2.9 2.9 0 1 0 -5.8 0zM643.7 324.3a2.9 2.9 0 1 0 5.8 0a2.9 2.9 0 1 0 -5.8 0zM608 326.9a2.9 2.9 0 1 0 5.8 0a2.9 2.9 0 1 0 -5.8 0zM620.4 318.7a2.9 2.9 0 1 0 5.8 0a2.9 2.9 0 1 0 -5.8 0zM577.6 268a2.9 2.9 0 1 0 5.8 0a2.9 2.9 0 1 0 -5.8 0zM571.1 309.3a2.9 2.9 0 1 0 5.8 0a2.9 2.9 0 1 0 -5.8 0zM627.8 328a2.9 2.9 0 1 0 5.8 0a2.9 2.9 0 1 0 -5.8 0zM514.5 260a2.9 2.9 0 1 0 5.8 0a2.9 2.9 0 1 0 -5.8 0zM462.2 219.7a2.9 2.9 0 1 0 5.8 0a2.9 2.9 0 1 0 -5.8 0zM647.4 359.6a2.9 2.9 0 1 0 5.8 0a2.9 2.9 0 1 0 -5.8 0zM563.3 302.9a2.9 2.9 0 1 0 5.8 0a2.9 2.9 0 1 0 -5.8 0zM593.8 298.3a2.9 2.9 0 1 0 5.8 0a2.9 2.9 0 1 0 -5.8 0zM565.5 283a2.9 2.9 0 1 0 5.8 0a2.9 2.9 0 1 0 -5.8 0zM622.2 325.2a2.9 2.9 0 1 0 5.8 0a2.9 2.9 0 1 0 -5.8 0zM627.1 315.1a2.9 2.9 0 1 0 5.8 0a2.9 2.9 0 1 0 -5.8 0zM514.8 240.6a2.9 2.9 0 1 0 5.8 0a2.9 2.9 0 1 0 -5.8 0zM626.5 361.1a2.9 2.9 0 1 0 5.8 0a2.9 2.9 0 1 0 -5.8 0zM549.6 280.9a2.9 2.9 0 1 0 5.8 0a2.9 2.9 0 1 0 -5.8 0zM595.4 348.5a2.9 2.9 0 1 0 5.8 0a2.9 2.9 0 1 0 -5.8 0zM581.4 273.8a2.9 2.9 0 1 0 5.8 0a2.9 2.9 0 1 0 -5.8 0zM637.6 322.4a2.9 2.9 0 1 0 5.8 0a2.9 2.9 0 1 0 -5.8 0zM569.8 274.1a2.9 2.9 0 1 0 5.8 0a2.9 2.9 0 1 0 -5.8 0zM634.5 312.8a2.9 2.9 0 1 0 5.8 0a2.9 2.9 0 1 0 -5.8 0zM651.9 324.1a2.9 2.9 0 1 0 5.8 0a2.9 2.9 0 1 0 -5.8 0zM596.3 299.3a2.9 2.9 0 1 0 5.8 0a2.9 2.9 0 1 0 -5.8 0zM633 311a2.9 2.9 0 1 0 5.8 0a2.9 2.9 0 1 0 -5.8 0zM643.8 367a2.9 2.9 0 1 0 5.8 0a2.9 2.9 0 1 0 -5.8 0zM528 268.3a2.9 2.9 0 1 0 5.8 0a2.9 2.9 0 1 0 -5.8 0zM575.9 271a2.9 2.9 0 1 0 5.8 0a2.9 2.9 0 1 0 -5.8 0zM645.9 315.4a2.9 2.9 0 1 0 5.8 0a2.9 2.9 0 1 0 -5.8 0zM624.7 334.3a2.9 2.9 0 1 0 5.8 0a2.9 2.9 0 1 0 -5.8 0zM637.7 335.8a2.9 2.9 0 1 0 5.8 0a2.9 2.9 0 1 0 -5.8 0zM600.5 289.7a2.9 2.9 0 1 0 5.8 0a2.9 2.9 0 1 0 -5.8 0zM562.5 300a2.9 2.9 0 1 0 5.8 0a2.9 2.9 0 1 0 -5.8 0zM628.7 285.6a2.9 2.9 0 1 0 5.8 0a2.9 2.9 0 1 0 -5.8 0zM555.6 264.1a2.9 2.9 0 1 0 5.8 0a2.9 2.9 0 1 0 -5.8 0zM597.4 345.9a2.9 2.9 0 1 0 5.8 0a2.9 2.9 0 1 0 -5.8 0zM523.1 201.2a2.9 2.9 0 1 0 5.8 0a2.9 2.9 0 1 0 -5.8 0zM566.6 277.4a2.9 2.9 0 1 0 5.8 0a2.9 2.9 0 1 0 -5.8 0zM575.4 311.1a2.9 2.9 0 1 0 5.8 0a2.9 2.9 0 1 0 -5.8 0zM488.2 222.8a2.9 2.9 0 1 0 5.8 0a2.9 2.9 0 1 0 -5.8 0zM482.5 209.3a2.9 2.9 0 1 0 5.8 0a2.9 2.9 0 1 0 -5.8 0zM643.6 306.4a2.9 2.9 0 1 0 5.8 0a2.9 2.9 0 1 0 -5.8 0zM661.9 291.2a2.9 2.9 0 1 0 5.8 0a2.9 2.9 0 1 0 -5.8 0zM507.6 216.5a2.9 2.9 0 1 0 5.8 0a2.9 2.9 0 1 0 -5.8 0zM559.8 278.9a2.9 2.9 0 1 0 5.8 0a2.9 2.9 0 1 0 -5.8 0zM611.5 296.6a2.9 2.9 0 1 0 5.8 0a2.9 2.9 0 1 0 -5.8 0zM500.7 234.1a2.9 2.9 0 1 0 5.8 0a2.9 2.9 0 1 0 -5.8 0zM462.8 204.4a2.9 2.9 0 1 0 5.8 0a2.9 2.9 0 1 0 -5.8 0zM646.6 334.3a2.9 2.9 0 1 0 5.8 0a2.9 2.9 0 1 0 -5.8 0zM541.6 229.9a2.9 2.9 0 1 0 5.8 0a2.9 2.9 0 1 0 -5.8 0zM654.3 325a2.9 2.9 0 1 0 5.8 0a2.9 2.9 0 1 0 -5.8 0zM587.7 288.3a2.9 2.9 0 1 0 5.8 0a2.9 2.9 0 1 0 -5.8 0zM598.2 295.9a2.9 2.9 0 1 0 5.8 0a2.9 2.9 0 1 0 -5.8 0zM590.8 277.1a2.9 2.9 0 1 0 5.8 0a2.9 2.9 0 1 0 -5.8 0zM585.5 242.4a2.9 2.9 0 1 0 5.8 0a2.9 2.9 0 1 0 -5.8 0zM538.3 275.8a2.9 2.9 0 1 0 5.8 0a2.9 2.9 0 1 0 -5.8 0zM604.2 326.5a2.9 2.9 0 1 0 5.8 0a2.9 2.9 0 1 0 -5.8 0zM573.8 342a2.9 2.9 0 1 0 5.8 0a2.9 2.9 0 1 0 -5.8 0zM638 340.2a2.9 2.9 0 1 0 5.8 0a2.9 2.9 0 1 0 -5.8 0zM543.3 300.9a2.9 2.9 0 1 0 5.8 0a2.9 2.9 0 1 0 -5.8 0zM517.7 258.2a2.9 2.9 0 1 0 5.8 0a2.9 2.9 0 1 0 -5.8 0zM639.8 315.9a2.9 2.9 0 1 0 5.8 0a2.9 2.9 0 1 0 -5.8 0zM590.2 310.3a2.9 2.9 0 1 0 5.8 0a2.9 2.9 0 1 0 -5.8 0zM528.2 232a2.9 2.9 0 1 0 5.8 0a2.9 2.9 0 1 0 -5.8 0zM627.3 323.9a2.9 2.9 0 1 0 5.8 0a2.9 2.9 0 1 0 -5.8 0zM542.7 263.3a2.9 2.9 0 1 0 5.8 0a2.9 2.9 0 1 0 -5.8 0zM618.4 288.7a2.9 2.9 0 1 0 5.8 0a2.9 2.9 0 1 0 -5.8 0zM608.7 338.4a2.9 2.9 0 1 0 5.8 0a2.9 2.9 0 1 0 -5.8 0zM543.9 290.3a2.9 2.9 0 1 0 5.8 0a2.9 2.9 0 1 0 -5.8 0zM606.6 319a2.9 2.9 0 1 0 5.8 0a2.9 2.9 0 1 0 -5.8 0zM582.4 312.3a2.9 2.9 0 1 0 5.8 0a2.9 2.9 0 1 0 -5.8 0zM431.1 202.1a2.9 2.9 0 1 0 5.8 0a2.9 2.9 0 1 0 -5.8 0zM659.1 331.8a2.9 2.9 0 1 0 5.8 0a2.9 2.9 0 1 0 -5.8 0zM536.4 233.3a2.9 2.9 0 1 0 5.8 0a2.9 2.9 0 1 0 -5.8 0zM563.4 258.4a2.9 2.9 0 1 0 5.8 0a2.9 2.9 0 1 0 -5.8 0zM642.8 341.8a2.9 2.9 0 1 0 5.8 0a2.9 2.9 0 1 0 -5.8 0zM614 317.1a2.9 2.9 0 1 0 5.8 0a2.9 2.9 0 1 0 -5.8 0zM510.4 215.4a2.9 2.9 0 1 0 5.8 0a2.9 2.9 0 1 0 -5.8 0zM606.5 339.9a2.9 2.9 0 1 0 5.8 0a2.9 2.9 0 1 0 -5.8 0zM422.2 179.7a2.9 2.9 0 1 0 5.8 0a2.9 2.9 0 1 0 -5.8 0zM622.9 354a2.9 2.9 0 1 0 5.8 0a2.9 2.9 0 1 0 -5.8 0zM600.9 332.8a2.9 2.9 0 1 0 5.8 0a2.9 2.9 0 1 0 -5.8 0zM609.7 299a2.9 2.9 0 1 0 5.8 0a2.9 2.9 0 1 0 -5.8 0zM595.2 304.2a2.9 2.9 0 1 0 5.8 0a2.9 2.9 0 1 0 -5.8 0zM557.4 259.6a2.9 2.9 0 1 0 5.8 0a2.9 2.9 0 1 0 -5.8 0zM608.7 288.7a2.9 2.9 0 1 0 5.8 0a2.9 2.9 0 1 0 -5.8 0zM577.4 282.7a2.9 2.9 0 1 0 5.8 0a2.9 2.9 0 1 0 -5.8 0zM622.9 328a2.9 2.9 0 1 0 5.8 0a2.9 2.9 0 1 0 -5.8 0zM436.7 203.6a2.9 2.9 0 1 0 5.8 0a2.9 2.9 0 1 0 -5.8 0zM537.5 243.7a2.9 2.9 0 1 0 5.8 0a2.9 2.9 0 1 0 -5.8 0zM505.6 250.3a2.9 2.9 0 1 0 5.8 0a2.9 2.9 0 1 0 -5.8 0zM586.2 296.8a2.9 2.9 0 1 0 5.8 0a2.9 2.9 0 1 0 -5.8 0zM603.4 301.2a2.9 2.9 0 1 0 5.8 0a2.9 2.9 0 1 0 -5.8 0zM525.7 275.5a2.9 2.9 0 1 0 5.8 0a2.9 2.9 0 1 0 -5.8 0zM652.6 323.5a2.9 2.9 0 1 0 5.8 0a2.9 2.9 0 1 0 -5.8 0zM560.7 309.3a2.9 2.9 0 1 0 5.8 0a2.9 2.9 0 1 0 -5.8 0zM412.3 167.1a2.9 2.9 0 1 0 5.8 0a2.9 2.9 0 1 0 -5.8 0zM619.5 292.9a2.9 2.9 0 1 0 5.8 0a2.9 2.9 0 1 0 -5.8 0zM487.3 236.2a2.9 2.9 0 1 0 5.8 0a2.9 2.9 0 1 0 -5.8 0zM413.2 156.3a2.9 2.9 0 1 0 5.8 0a2.9 2.9 0 1 0 -5.8 0zM543.2 241.3a2.9 2.9 0 1 0 5.8 0a2.9 2.9 0 1 0 -5.8 0zM579 286.8a2.9 2.9 0 1 0 5.8 0a2.9 2.9 0 1 0 -5.8 0zM531.3 258a2.9 2.9 0 1 0 5.8 0a2.9 2.9 0 1 0 -5.8 0zM552.5 267.1a2.9 2.9 0 1 0 5.8 0a2.9 2.9 0 1 0 -5.8 0zM496 199.5a2.9 2.9 0 1 0 5.8 0a2.9 2.9 0 1 0 -5.8 0zM558 247.1a2.9 2.9 0 1 0 5.8 0a2.9 2.9 0 1 0 -5.8 0zM630.1 332.1a2.9 2.9 0 1 0 5.8 0a2.9 2.9 0 1 0 -5.8 0zM548.2 281.7a2.9 2.9 0 1 0 5.8 0a2.9 2.9 0 1 0 -5.8 0zM597.4 278.8a2.9 2.9 0 1 0 5.8 0a2.9 2.9 0 1 0 -5.8 0zM522.9 256.8a2.9 2.9 0 1 0 5.8 0a2.9 2.9 0 1 0 -5.8 0zM493 232.3a2.9 2.9 0 1 0 5.8 0a2.9 2.9 0 1 0 -5.8 0zM549.7 293.2a2.9 2.9 0 1 0 5.8 0a2.9 2.9 0 1 0 -5.8 0zM434.9 178.4a2.9 2.9 0 1 0 5.8 0a2.9 2.9 0 1 0 -5.8 0zM579.8 326.4a2.9 2.9 0 1 0 5.8 0a2.9 2.9 0 1 0 -5.8 0zM616.3 306.2a2.9 2.9 0 1 0 5.8 0a2.9 2.9 0 1 0 -5.8 0zM570.5 318.8a2.9 2.9 0 1 0 5.8 0a2.9 2.9 0 1 0 -5.8 0zM527.2 273.3a2.9 2.9 0 1 0 5.8 0a2.9 2.9 0 1 0 -5.8 0zM551.2 250.2a2.9 2.9 0 1 0 5.8 0a2.9 2.9 0 1 0 -5.8 0zM633.6 315a2.9 2.9 0 1 0 5.8 0a2.9 2.9 0 1 0 -5.8 0zM531.4 264a2.9 2.9 0 1 0 5.8 0a2.9 2.9 0 1 0 -5.8 0zM552.7 295.5a2.9 2.9 0 1 0 5.8 0a2.9 2.9 0 1 0 -5.8 0zM613.5 278.8a2.9 2.9 0 1 0 5.8 0a2.9 2.9 0 1 0 -5.8 0zM533.5 249.6a2.9 2.9 0 1 0 5.8 0a2.9 2.9 0 1 0 -5.8 0zM650.2 344.4a2.9 2.9 0 1 0 5.8 0a2.9 2.9 0 1 0 -5.8 0zM511.4 251.6a2.9 2.9 0 1 0 5.8 0a2.9 2.9 0 1 0 -5.8 0zM425.5 168.6a2.9 2.9 0 1 0 5.8 0a2.9 2.9 0 1 0 -5.8 0zM571.5 265.4a2.9 2.9 0 1 0 5.8 0a2.9 2.9 0 1 0 -5.8 0zM590.9 310.1a2.9 2.9 0 1 0 5.8 0a2.9 2.9 0 1 0 -5.8 0zM595.5 277.4a2.9 2.9 0 1 0 5.8 0a2.9 2.9 0 1 0 -5.8 0zM550.9 277.1a2.9 2.9 0 1 0 5.8 0a2.9 2.9 0 1 0 -5.8 0zM627.7 340.6a2.9 2.9 0 1 0 5.8 0a2.9 2.9 0 1 0 -5.8 0zM637.4 324.5a2.9 2.9 0 1 0 5.8 0a2.9 2.9 0 1 0 -5.8 0zM582.2 229.5a2.9 2.9 0 1 0 5.8 0a2.9 2.9 0 1 0 -5.8 0zM633.7 349.3a2.9 2.9 0 1 0 5.8 0a2.9 2.9 0 1 0 -5.8 0zM631.4 347.7a2.9 2.9 0 1 0 5.8 0a2.9 2.9 0 1 0 -5.8 0zM513.2 270.1a2.9 2.9 0 1 0 5.8 0a2.9 2.9 0 1 0 -5.8 0zM499.6 248.3a2.9 2.9 0 1 0 5.8 0a2.9 2.9 0 1 0 -5.8 0zM496.2 204.4a2.9 2.9 0 1 0 5.8 0a2.9 2.9 0 1 0 -5.8 0zM474.4 234.6a2.9 2.9 0 1 0 5.8 0a2.9 2.9 0 1 0 -5.8 0zM627.2 327a2.9 2.9 0 1 0 5.8 0a2.9 2.9 0 1 0 -5.8 0zM562.9 301.6a2.9 2.9 0 1 0 5.8 0a2.9 2.9 0 1 0 -5.8 0zM500 231.8a2.9 2.9 0 1 0 5.8 0a2.9 2.9 0 1 0 -5.8 0zM592.3 294.6a2.9 2.9 0 1 0 5.8 0a2.9 2.9 0 1 0 -5.8 0zM544.9 262.9a2.9 2.9 0 1 0 5.8 0a2.9 2.9 0 1 0 -5.8 0zM448.5 216.2a2.9 2.9 0 1 0 5.8 0a2.9 2.9 0 1 0 -5.8 0zM569.2 291a2.9 2.9 0 1 0 5.8 0a2.9 2.9 0 1 0 -5.8 0zM634.6 318.1a2.9 2.9 0 1 0 5.8 0a2.9 2.9 0 1 0 -5.8 0zM616.2 282.8a2.9 2.9 0 1 0 5.8 0a2.9 2.9 0 1 0 -5.8 0zM661.7 347.6a2.9 2.9 0 1 0 5.8 0a2.9 2.9 0 1 0 -5.8 0zM579.9 292.4a2.9 2.9 0 1 0 5.8 0a2.9 2.9 0 1 0 -5.8 0zM655.6 336.7a2.9 2.9 0 1 0 5.8 0a2.9 2.9 0 1 0 -5.8 0zM563.1 302.8a2.9 2.9 0 1 0 5.8 0a2.9 2.9 0 1 0 -5.8 0zM582.5 311.2a2.9 2.9 0 1 0 5.8 0a2.9 2.9 0 1 0 -5.8 0zM622.5 316.7a2.9 2.9 0 1 0 5.8 0a2.9 2.9 0 1 0 -5.8 0zM577.2 295.3a2.9 2.9 0 1 0 5.8 0a2.9 2.9 0 1 0 -5.8 0zM509.4 243.2a2.9 2.9 0 1 0 5.8 0a2.9 2.9 0 1 0 -5.8 0zM617 331.1a2.9 2.9 0 1 0 5.8 0a2.9 2.9 0 1 0 -5.8 0zM648.1 345a2.9 2.9 0 1 0 5.8 0a2.9 2.9 0 1 0 -5.8 0zM557.9 280a2.9 2.9 0 1 0 5.8 0a2.9 2.9 0 1 0 -5.8 0zM569.4 265.1a2.9 2.9 0 1 0 5.8 0a2.9 2.9 0 1 0 -5.8 0zM547.7 288.2a2.9 2.9 0 1 0 5.8 0a2.9 2.9 0 1 0 -5.8 0zM613.8 334a2.9 2.9 0 1 0 5.8 0a2.9 2.9 0 1 0 -5.8 0zM583 268.5a2.9 2.9 0 1 0 5.8 0a2.9 2.9 0 1 0 -5.8 0zM528.4 263.7a2.9 2.9 0 1 0 5.8 0a2.9 2.9 0 1 0 -5.8 0zM645.5 319.5a2.9 2.9 0 1 0 5.8 0a2.9 2.9 0 1 0 -5.8 0zM412.8 148.7a2.9 2.9 0 1 0 5.8 0a2.9 2.9 0 1 0 -5.8 0zM635.9 322.3a2.9 2.9 0 1 0 5.8 0a2.9 2.9 0 1 0 -5.8 0zM640.3 347.2a2.9 2.9 0 1 0 5.8 0a2.9 2.9 0 1 0 -5.8 0zM478.8 208a2.9 2.9 0 1 0 5.8 0a2.9 2.9 0 1 0 -5.8 0zM416.3 166.1a2.9 2.9 0 1 0 5.8 0a2.9 2.9 0 1 0 -5.8 0zM607.3 333.8a2.9 2.9 0 1 0 5.8 0a2.9 2.9 0 1 0 -5.8 0zM597.6 276.6a2.9 2.9 0 1 0 5.8 0a2.9 2.9 0 1 0 -5.8 0zM511.3 226a2.9 2.9 0 1 0 5.8 0a2.9 2.9 0 1 0 -5.8 0zM572.6 279.4a2.9 2.9 0 1 0 5.8 0a2.9 2.9 0 1 0 -5.8 0zM479.7 227.8a2.9 2.9 0 1 0 5.8 0a2.9 2.9 0 1 0 -5.8 0zM569 298.8a2.9 2.9 0 1 0 5.8 0a2.9 2.9 0 1 0 -5.8 0zM588.4 284.8a2.9 2.9 0 1 0 5.8 0a2.9 2.9 0 1 0 -5.8 0zM644.9 320.7a2.9 2.9 0 1 0 5.8 0a2.9 2.9 0 1 0 -5.8 0zM561.6 281.2a2.9 2.9 0 1 0 5.8 0a2.9 2.9 0 1 0 -5.8 0zM506.4 232.4a2.9 2.9 0 1 0 5.8 0a2.9 2.9 0 1 0 -5.8 0zM653.5 312.8a2.9 2.9 0 1 0 5.8 0a2.9 2.9 0 1 0 -5.8 0zM605.9 281.3a2.9 2.9 0 1 0 5.8 0a2.9 2.9 0 1 0 -5.8 0zM497.3 243.8a2.9 2.9 0 1 0 5.8 0a2.9 2.9 0 1 0 -5.8 0zM458.2 200.6a2.9 2.9 0 1 0 5.8 0a2.9 2.9 0 1 0 -5.8 0zM562.8 344.8a2.9 2.9 0 1 0 5.8 0a2.9 2.9 0 1 0 -5.8 0zM531.7 270.9a2.9 2.9 0 1 0 5.8 0a2.9 2.9 0 1 0 -5.8 0zM560 261.2a2.9 2.9 0 1 0 5.8 0a2.9 2.9 0 1 0 -5.8 0zM539.1 263.7a2.9 2.9 0 1 0 5.8 0a2.9 2.9 0 1 0 -5.8 0zM647.6 336.6a2.9 2.9 0 1 0 5.8 0a2.9 2.9 0 1 0 -5.8 0zM632.5 330.6a2.9 2.9 0 1 0 5.8 0a2.9 2.9 0 1 0 -5.8 0zM611 321.4a2.9 2.9 0 1 0 5.8 0a2.9 2.9 0 1 0 -5.8 0zM476.5 222.8a2.9 2.9 0 1 0 5.8 0a2.9 2.9 0 1 0 -5.8 0zM629.4 316.6a2.9 2.9 0 1 0 5.8 0a2.9 2.9 0 1 0 -5.8 0zM566 297a2.9 2.9 0 1 0 5.8 0a2.9 2.9 0 1 0 -5.8 0zM641 375.4a2.9 2.9 0 1 0 5.8 0a2.9 2.9 0 1 0 -5.8 0zM451.6 193.1a2.9 2.9 0 1 0 5.8 0a2.9 2.9 0 1 0 -5.8 0zM501.8 229.2a2.9 2.9 0 1 0 5.8 0a2.9 2.9 0 1 0 -5.8 0zM495.3 242.1a2.9 2.9 0 1 0 5.8 0a2.9 2.9 0 1 0 -5.8 0zM633.1 350.5a2.9 2.9 0 1 0 5.8 0a2.9 2.9 0 1 0 -5.8 0zM653.9 350.2a2.9 2.9 0 1 0 5.8 0a2.9 2.9 0 1 0 -5.8 0zM622.5 345.1a2.9 2.9 0 1 0 5.8 0a2.9 2.9 0 1 0 -5.8 0zM547.5 268.4a2.9 2.9 0 1 0 5.8 0a2.9 2.9 0 1 0 -5.8 0zM452 196a2.9 2.9 0 1 0 5.8 0a2.9 2.9 0 1 0 -5.8 0zM655.8 347.5a2.9 2.9 0 1 0 5.8 0a2.9 2.9 0 1 0 -5.8 0zM510.7 254.3a2.9 2.9 0 1 0 5.8 0a2.9 2.9 0 1 0 -5.8 0zM632.2 360a2.9 2.9 0 1 0 5.8 0a2.9 2.9 0 1 0 -5.8 0zM579.4 328.4a2.9 2.9 0 1 0 5.8 0a2.9 2.9 0 1 0 -5.8 0zM554.2 233.8a2.9 2.9 0 1 0 5.8 0a2.9 2.9 0 1 0 -5.8 0zM568.4 301.7a2.9 2.9 0 1 0 5.8 0a2.9 2.9 0 1 0 -5.8 0zM469.4 202.3a2.9 2.9 0 1 0 5.8 0a2.9 2.9 0 1 0 -5.8 0zM489.5 193.8a2.9 2.9 0 1 0 5.8 0a2.9 2.9 0 1 0 -5.8 0zM640.8 334.4a2.9 2.9 0 1 0 5.8 0a2.9 2.9 0 1 0 -5.8 0zM576.2 285.1a2.9 2.9 0 1 0 5.8 0a2.9 2.9 0 1 0 -5.8 0zM611.2 302.2a2.9 2.9 0 1 0 5.8 0a2.9 2.9 0 1 0 -5.8 0zM552.9 244.8a2.9 2.9 0 1 0 5.8 0a2.9 2.9 0 1 0 -5.8 0zM581.3 268.4a2.9 2.9 0 1 0 5.8 0a2.9 2.9 0 1 0 -5.8 0zM629.8 314.9a2.9 2.9 0 1 0 5.8 0a2.9 2.9 0 1 0 -5.8 0zM607.2 272a2.9 2.9 0 1 0 5.8 0a2.9 2.9 0 1 0 -5.8 0zM566.2 279.7a2.9 2.9 0 1 0 5.8 0a2.9 2.9 0 1 0 -5.8 0zM577.6 292.6a2.9 2.9 0 1 0 5.8 0a2.9 2.9 0 1 0 -5.8 0zM662.1 333.7a2.9 2.9 0 1 0 5.8 0a2.9 2.9 0 1 0 -5.8 0zM434 189.3a2.9 2.9 0 1 0 5.8 0a2.9 2.9 0 1 0 -5.8 0zM566.8 280.9a2.9 2.9 0 1 0 5.8 0a2.9 2.9 0 1 0 -5.8 0zM495.4 211.9a2.9 2.9 0 1 0 5.8 0a2.9 2.9 0 1 0 -5.8 0zM484 206.7a2.9 2.9 0 1 0 5.8 0a2.9 2.9 0 1 0 -5.8 0zM453.2 201.3a2.9 2.9 0 1 0 5.8 0a2.9 2.9 0 1 0 -5.8 0zM625.4 340.2a2.9 2.9 0 1 0 5.8 0a2.9 2.9 0 1 0 -5.8 0zM576.9 292.9a2.9 2.9 0 1 0 5.8 0a2.9 2.9 0 1 0 -5.8 0zM592.3 287.6a2.9 2.9 0 1 0 5.8 0a2.9 2.9 0 1 0 -5.8 0zM546.1 271.7a2.9 2.9 0 1 0 5.8 0a2.9 2.9 0 1 0 -5.8 0zM565.4 240.2a2.9 2.9 0 1 0 5.8 0a2.9 2.9 0 1 0 -5.8 0zM576 265.3a2.9 2.9 0 1 0 5.8 0a2.9 2.9 0 1 0 -5.8 0zM635 313.6a2.9 2.9 0 1 0 5.8 0a2.9 2.9 0 1 0 -5.8 0zM477.1 215.8a2.9 2.9 0 1 0 5.8 0a2.9 2.9 0 1 0 -5.8 0zM513.6 238.3a2.9 2.9 0 1 0 5.8 0a2.9 2.9 0 1 0 -5.8 0zM510.3 236.9a2.9 2.9 0 1 0 5.8 0a2.9 2.9 0 1 0 -5.8 0zM578.4 262.2a2.9 2.9 0 1 0 5.8 0a2.9 2.9 0 1 0 -5.8 0zM580.4 278a2.9 2.9 0 1 0 5.8 0a2.9 2.9 0 1 0 -5.8 0zM612.5 316.8a2.9 2.9 0 1 0 5.8 0a2.9 2.9 0 1 0 -5.8 0zM663.2 297.2a2.9 2.9 0 1 0 5.8 0a2.9 2.9 0 1 0 -5.8 0zM648.3 302a2.9 2.9 0 1 0 5.8 0a2.9 2.9 0 1 0 -5.8 0zM531.2 250.3a2.9 2.9 0 1 0 5.8 0a2.9 2.9 0 1 0 -5.8 0zM567.9 317.1a2.9 2.9 0 1 0 5.8 0a2.9 2.9 0 1 0 -5.8 0zM589.3 314.2a2.9 2.9 0 1 0 5.8 0a2.9 2.9 0 1 0 -5.8 0zM629.3 355.7a2.9 2.9 0 1 0 5.8 0a2.9 2.9 0 1 0 -5.8 0zM586.2 328a2.9 2.9 0 1 0 5.8 0a2.9 2.9 0 1 0 -5.8 0zM506.8 231.2a2.9 2.9 0 1 0 5.8 0a2.9 2.9 0 1 0 -5.8 0zM450.6 196.8a2.9 2.9 0 1 0 5.8 0a2.9 2.9 0 1 0 -5.8 0zM554.5 247.8a2.9 2.9 0 1 0 5.8 0a2.9 2.9 0 1 0 -5.8 0zM601.2 334.1a2.9 2.9 0 1 0 5.8 0a2.9 2.9 0 1 0 -5.8 0zM513.7 257.5a2.9 2.9 0 1 0 5.8 0a2.9 2.9 0 1 0 -5.8 0zM576.5 302.8a2.9 2.9 0 1 0 5.8 0a2.9 2.9 0 1 0 -5.8 0zM563.3 294.8a2.9 2.9 0 1 0 5.8 0a2.9 2.9 0 1 0 -5.8 0zM655.1 342.4a2.9 2.9 0 1 0 5.8 0a2.9 2.9 0 1 0 -5.8 0zM615.4 317.3a2.9 2.9 0 1 0 5.8 0a2.9 2.9 0 1 0 -5.8 0zM658.4 340.2a2.9 2.9 0 1 0 5.8 0a2.9 2.9 0 1 0 -5.8 0zM587.4 325.8a2.9 2.9 0 1 0 5.8 0a2.9 2.9 0 1 0 -5.8 0zM582.8 274.4a2.9 2.9 0 1 0 5.8 0a2.9 2.9 0 1 0 -5.8 0zM658.9 311.6a2.9 2.9 0 1 0 5.8 0a2.9 2.9 0 1 0 -5.8 0zM567.9 283.1a2.9 2.9 0 1 0 5.8 0a2.9 2.9 0 1 0 -5.8 0zM592.9 328.8a2.9 2.9 0 1 0 5.8 0a2.9 2.9 0 1 0 -5.8 0zM424.9 181.9a2.9 2.9 0 1 0 5.8 0a2.9 2.9 0 1 0 -5.8 0zM510.1 237.8a2.9 2.9 0 1 0 5.8 0a2.9 2.9 0 1 0 -5.8 0zM542.7 283.5a2.9 2.9 0 1 0 5.8 0a2.9 2.9 0 1 0 -5.8 0zM532.4 260.6a2.9 2.9 0 1 0 5.8 0a2.9 2.9 0 1 0 -5.8 0zM572.7 242.1a2.9 2.9 0 1 0 5.8 0a2.9 2.9 0 1 0 -5.8 0zM644.1 304a2.9 2.9 0 1 0 5.8 0a2.9 2.9 0 1 0 -5.8 0zM522.7 210.8a2.9 2.9 0 1 0 5.8 0a2.9 2.9 0 1 0 -5.8 0zM448.5 193.4a2.9 2.9 0 1 0 5.8 0a2.9 2.9 0 1 0 -5.8 0zM594.4 290.2a2.9 2.9 0 1 0 5.8 0a2.9 2.9 0 1 0 -5.8 0zM559.3 287a2.9 2.9 0 1 0 5.8 0a2.9 2.9 0 1 0 -5.8 0zM447.7 221.4a2.9 2.9 0 1 0 5.8 0a2.9 2.9 0 1 0 -5.8 0zM624.6 302.9a2.9 2.9 0 1 0 5.8 0a2.9 2.9 0 1 0 -5.8 0zM651.4 330.6a2.9 2.9 0 1 0 5.8 0a2.9 2.9 0 1 0 -5.8 0zM622.4 306.8a2.9 2.9 0 1 0 5.8 0a2.9 2.9 0 1 0 -5.8 0zM630.6 254.7a2.9 2.9 0 1 0 5.8 0a2.9 2.9 0 1 0 -5.8 0zM624.3 298.9a2.9 2.9 0 1 0 5.8 0a2.9 2.9 0 1 0 -5.8 0zM659.3 319.1a2.9 2.9 0 1 0 5.8 0a2.9 2.9 0 1 0 -5.8 0zM499.3 237.9a2.9 2.9 0 1 0 5.8 0a2.9 2.9 0 1 0 -5.8 0zM642.3 306.9a2.9 2.9 0 1 0 5.8 0a2.9 2.9 0 1 0 -5.8 0zM615.7 281.6a2.9 2.9 0 1 0 5.8 0a2.9 2.9 0 1 0 -5.8 0zM653.2 344.4a2.9 2.9 0 1 0 5.8 0a2.9 2.9 0 1 0 -5.8 0zM637.8 322.1a2.9 2.9 0 1 0 5.8 0a2.9 2.9 0 1 0 -5.8 0zM592.8 278.2a2.9 2.9 0 1 0 5.8 0a2.9 2.9 0 1 0 -5.8 0zM609.1 290.8a2.9 2.9 0 1 0 5.8 0a2.9 2.9 0 1 0 -5.8 0zM532.7 252.5a2.9 2.9 0 1 0 5.8 0a2.9 2.9 0 1 0 -5.8 0zM553.3 291.1a2.9 2.9 0 1 0 5.8 0a2.9 2.9 0 1 0 -5.8 0zM503.1 260.4a2.9 2.9 0 1 0 5.8 0a2.9 2.9 0 1 0 -5.8 0zM567 252.6a2.9 2.9 0 1 0 5.8 0a2.9 2.9 0 1 0 -5.8 0zM634.6 348.9a2.9 2.9 0 1 0 5.8 0a2.9 2.9 0 1 0 -5.8 0zM554.7 275.3a2.9 2.9 0 1 0 5.8 0a2.9 2.9 0 1 0 -5.8 0zM643 334.5a2.9 2.9 0 1 0 5.8 0a2.9 2.9 0 1 0 -5.8 0zM518.6 266.3a2.9 2.9 0 1 0 5.8 0a2.9 2.9 0 1 0 -5.8 0zM607.4 284.9a2.9 2.9 0 1 0 5.8 0a2.9 2.9 0 1 0 -5.8 0zM529.6 273.5a2.9 2.9 0 1 0 5.8 0a2.9 2.9 0 1 0 -5.8 0zM605.8 275.6a2.9 2.9 0 1 0 5.8 0a2.9 2.9 0 1 0 -5.8 0zM628.6 308.2a2.9 2.9 0 1 0 5.8 0a2.9 2.9 0 1 0 -5.8 0zM642.5 306.8a2.9 2.9 0 1 0 5.8 0a2.9 2.9 0 1 0 -5.8 0zM624.9 356.9a2.9 2.9 0 1 0 5.8 0a2.9 2.9 0 1 0 -5.8 0zM500.3 261.5a2.9 2.9 0 1 0 5.8 0a2.9 2.9 0 1 0 -5.8 0zM613.2 329.6a2.9 2.9 0 1 0 5.8 0a2.9 2.9 0 1 0 -5.8 0zM544.4 278.1a2.9 2.9 0 1 0 5.8 0a2.9 2.9 0 1 0 -5.8 0zM585.3 282.4a2.9 2.9 0 1 0 5.8 0a2.9 2.9 0 1 0 -5.8 0zM500 262.9a2.9 2.9 0 1 0 5.8 0a2.9 2.9 0 1 0 -5.8 0zM574.3 320.2a2.9 2.9 0 1 0 5.8 0a2.9 2.9 0 1 0 -5.8 0zM609.1 331.2a2.9 2.9 0 1 0 5.8 0a2.9 2.9 0 1 0 -5.8 0zM488.4 223.6a2.9 2.9 0 1 0 5.8 0a2.9 2.9 0 1 0 -5.8 0zM598.5 295.4a2.9 2.9 0 1 0 5.8 0a2.9 2.9 0 1 0 -5.8 0zM643.5 324.8a2.9 2.9 0 1 0 5.8 0a2.9 2.9 0 1 0 -5.8 0zM588.7 329.9a2.9 2.9 0 1 0 5.8 0a2.9 2.9 0 1 0 -5.8 0zM551.6 251.5a2.9 2.9 0 1 0 5.8 0a2.9 2.9 0 1 0 -5.8 0zM521.8 252.9a2.9 2.9 0 1 0 5.8 0a2.9 2.9 0 1 0 -5.8 0zM578.1 329a2.9 2.9 0 1 0 5.8 0a2.9 2.9 0 1 0 -5.8 0zM565.4 301.8a2.9 2.9 0 1 0 5.8 0a2.9 2.9 0 1 0 -5.8 0zM614.5 354.1a2.9 2.9 0 1 0 5.8 0a2.9 2.9 0 1 0 -5.8 0zM621.6 325.7a2.9 2.9 0 1 0 5.8 0a2.9 2.9 0 1 0 -5.8 0zM615.1 323a2.9 2.9 0 1 0 5.8 0a2.9 2.9 0 1 0 -5.8 0zM624.3 349.8a2.9 2.9 0 1 0 5.8 0a2.9 2.9 0 1 0 -5.8 0zM629.2 335a2.9 2.9 0 1 0 5.8 0a2.9 2.9 0 1 0 -5.8 0zM619.4 323.1a2.9 2.9 0 1 0 5.8 0a2.9 2.9 0 1 0 -5.8 0zM533.8 249.5a2.9 2.9 0 1 0 5.8 0a2.9 2.9 0 1 0 -5.8 0zM596.7 266.8a2.9 2.9 0 1 0 5.8 0a2.9 2.9 0 1 0 -5.8 0zM564.8 315.4a2.9 2.9 0 1 0 5.8 0a2.9 2.9 0 1 0 -5.8 0zM469.3 205.9a2.9 2.9 0 1 0 5.8 0a2.9 2.9 0 1 0 -5.8 0zM604.7 289.5a2.9 2.9 0 1 0 5.8 0a2.9 2.9 0 1 0 -5.8 0zM500.2 249a2.9 2.9 0 1 0 5.8 0a2.9 2.9 0 1 0 -5.8 0zM613.3 290.8a2.9 2.9 0 1 0 5.8 0a2.9 2.9 0 1 0 -5.8 0zM590.4 266.5a2.9 2.9 0 1 0 5.8 0a2.9 2.9 0 1 0 -5.8 0zM465.8 201.5a2.9 2.9 0 1 0 5.8 0a2.9 2.9 0 1 0 -5.8 0zM570.4 284.2a2.9 2.9 0 1 0 5.8 0a2.9 2.9 0 1 0 -5.8 0zM591.9 307.1a2.9 2.9 0 1 0 5.8 0a2.9 2.9 0 1 0 -5.8 0zM533.5 270.4a2.9 2.9 0 1 0 5.8 0a2.9 2.9 0 1 0 -5.8 0zM650.4 352.3a2.9 2.9 0 1 0 5.8 0a2.9 2.9 0 1 0 -5.8 0zM653.4 329.8a2.9 2.9 0 1 0 5.8 0a2.9 2.9 0 1 0 -5.8 0zM483.5 227.5a2.9 2.9 0 1 0 5.8 0a2.9 2.9 0 1 0 -5.8 0zM618.1 312.1a2.9 2.9 0 1 0 5.8 0a2.9 2.9 0 1 0 -5.8 0zM571.6 271.8a2.9 2.9 0 1 0 5.8 0a2.9 2.9 0 1 0 -5.8 0zM635.7 332.8a2.9 2.9 0 1 0 5.8 0a2.9 2.9 0 1 0 -5.8 0zM651.3 339.2a2.9 2.9 0 1 0 5.8 0a2.9 2.9 0 1 0 -5.8 0zM584.4 339.8a2.9 2.9 0 1 0 5.8 0a2.9 2.9 0 1 0 -5.8 0zM605.4 323a2.9 2.9 0 1 0 5.8 0a2.9 2.9 0 1 0 -5.8 0zM560 263.1a2.9 2.9 0 1 0 5.8 0a2.9 2.9 0 1 0 -5.8 0zM610.2 325.2a2.9 2.9 0 1 0 5.8 0a2.9 2.9 0 1 0 -5.8 0zM665.4 334.7a2.9 2.9 0 1 0 5.8 0a2.9 2.9 0 1 0 -5.8 0zM552.9 308.2a2.9 2.9 0 1 0 5.8 0a2.9 2.9 0 1 0 -5.8 0zM431.1 165.2a2.9 2.9 0 1 0 5.8 0a2.9 2.9 0 1 0 -5.8 0zM657.3 320.1a2.9 2.9 0 1 0 5.8 0a2.9 2.9 0 1 0 -5.8 0zM428.5 175.1a2.9 2.9 0 1 0 5.8 0a2.9 2.9 0 1 0 -5.8 0zM613.6 315.4a2.9 2.9 0 1 0 5.8 0a2.9 2.9 0 1 0 -5.8 0zM597.1 301.1a2.9 2.9 0 1 0 5.8 0a2.9 2.9 0 1 0 -5.8 0zM567.2 247.5a2.9 2.9 0 1 0 5.8 0a2.9 2.9 0 1 0 -5.8 0zM650.2 289.7a2.9 2.9 0 1 0 5.8 0a2.9 2.9 0 1 0 -5.8 0zM491.1 230.7a2.9 2.9 0 1 0 5.8 0a2.9 2.9 0 1 0 -5.8 0zM530.8 287.4a2.9 2.9 0 1 0 5.8 0a2.9 2.9 0 1 0 -5.8 0zM635.1 356.5a2.9 2.9 0 1 0 5.8 0a2.9 2.9 0 1 0 -5.8 0zM401.9 159.5a2.9 2.9 0 1 0 5.8 0a2.9 2.9 0 1 0 -5.8 0zM536.9 272.3a2.9 2.9 0 1 0 5.8 0a2.9 2.9 0 1 0 -5.8 0zM510.1 227.1a2.9 2.9 0 1 0 5.8 0a2.9 2.9 0 1 0 -5.8 0zM570.3 252.7a2.9 2.9 0 1 0 5.8 0a2.9 2.9 0 1 0 -5.8 0zM621 345.1a2.9 2.9 0 1 0 5.8 0a2.9 2.9 0 1 0 -5.8 0zM653.7 347.5a2.9 2.9 0 1 0 5.8 0a2.9 2.9 0 1 0 -5.8 0zM532.2 252.5a2.9 2.9 0 1 0 5.8 0a2.9 2.9 0 1 0 -5.8 0zM411.1 166.2a2.9 2.9 0 1 0 5.8 0a2.9 2.9 0 1 0 -5.8 0zM621.9 338.3a2.9 2.9 0 1 0 5.8 0a2.9 2.9 0 1 0 -5.8 0zM647.2 336.6a2.9 2.9 0 1 0 5.8 0a2.9 2.9 0 1 0 -5.8 0zM413.2 168a2.9 2.9 0 1 0 5.8 0a2.9 2.9 0 1 0 -5.8 0zM602.3 313.9a2.9 2.9 0 1 0 5.8 0a2.9 2.9 0 1 0 -5.8 0zM599.2 305.2a2.9 2.9 0 1 0 5.8 0a2.9 2.9 0 1 0 -5.8 0zM593.2 291.8a2.9 2.9 0 1 0 5.8 0a2.9 2.9 0 1 0 -5.8 0zM604.3 290.6a2.9 2.9 0 1 0 5.8 0a2.9 2.9 0 1 0 -5.8 0zM540.8 284.9a2.9 2.9 0 1 0 5.8 0a2.9 2.9 0 1 0 -5.8 0zM644.8 317.8a2.9 2.9 0 1 0 5.8 0a2.9 2.9 0 1 0 -5.8 0zM526 231.7a2.9 2.9 0 1 0 5.8 0a2.9 2.9 0 1 0 -5.8 0zM652.5 371.8a2.9 2.9 0 1 0 5.8 0a2.9 2.9 0 1 0 -5.8 0zM653.5 360a2.9 2.9 0 1 0 5.8 0a2.9 2.9 0 1 0 -5.8 0zM635.4 335.5a2.9 2.9 0 1 0 5.8 0a2.9 2.9 0 1 0 -5.8 0zM563.9 280.1a2.9 2.9 0 1 0 5.8 0a2.9 2.9 0 1 0 -5.8 0zM652.8 336.6a2.9 2.9 0 1 0 5.8 0a2.9 2.9 0 1 0 -5.8 0zM524.2 225.3a2.9 2.9 0 1 0 5.8 0a2.9 2.9 0 1 0 -5.8 0zM582.8 294.1a2.9 2.9 0 1 0 5.8 0a2.9 2.9 0 1 0 -5.8 0zM585.1 302.7a2.9 2.9 0 1 0 5.8 0a2.9 2.9 0 1 0 -5.8 0zM499.4 231.1a2.9 2.9 0 1 0 5.8 0a2.9 2.9 0 1 0 -5.8 0zM662 347.3a2.9 2.9 0 1 0 5.8 0a2.9 2.9 0 1 0 -5.8 0zM514 231.6a2.9 2.9 0 1 0 5.8 0a2.9 2.9 0 1 0 -5.8 0zM580.8 297.4a2.9 2.9 0 1 0 5.8 0a2.9 2.9 0 1 0 -5.8 0zM474.3 193.9a2.9 2.9 0 1 0 5.8 0a2.9 2.9 0 1 0 -5.8 0zM541.3 265.2a2.9 2.9 0 1 0 5.8 0a2.9 2.9 0 1 0 -5.8 0zM635.2 309.4a2.9 2.9 0 1 0 5.8 0a2.9 2.9 0 1 0 -5.8 0zM612.3 280.2a2.9 2.9 0 1 0 5.8 0a2.9 2.9 0 1 0 -5.8 0zM559.5 269.5a2.9 2.9 0 1 0 5.8 0a2.9 2.9 0 1 0 -5.8 0zM607.7 310a2.9 2.9 0 1 0 5.8 0a2.9 2.9 0 1 0 -5.8 0zM510.5 232.1a2.9 2.9 0 1 0 5.8 0a2.9 2.9 0 1 0 -5.8 0zM609.4 332.5a2.9 2.9 0 1 0 5.8 0a2.9 2.9 0 1 0 -5.8 0zM644.2 312.2a2.9 2.9 0 1 0 5.8 0a2.9 2.9 0 1 0 -5.8 0zM412.4 180.1a2.9 2.9 0 1 0 5.8 0a2.9 2.9 0 1 0 -5.8 0zM545.7 284a2.9 2.9 0 1 0 5.8 0a2.9 2.9 0 1 0 -5.8 0zM535.4 249a2.9 2.9 0 1 0 5.8 0a2.9 2.9 0 1 0 -5.8 0zM475.5 235.6a2.9 2.9 0 1 0 5.8 0a2.9 2.9 0 1 0 -5.8 0zM648 299.5a2.9 2.9 0 1 0 5.8 0a2.9 2.9 0 1 0 -5.8 0zM613.8 325a2.9 2.9 0 1 0 5.8 0a2.9 2.9 0 1 0 -5.8 0zM602.5 308.3a2.9 2.9 0 1 0 5.8 0a2.9 2.9 0 1 0 -5.8 0zM602.1 325a2.9 2.9 0 1 0 5.8 0a2.9 2.9 0 1 0 -5.8 0zM611.3 273.7a2.9 2.9 0 1 0 5.8 0a2.9 2.9 0 1 0 -5.8 0zM542.3 241.1a2.9 2.9 0 1 0 5.8 0a2.9 2.9 0 1 0 -5.8 0zM520.3 234.2a2.9 2.9 0 1 0 5.8 0a2.9 2.9 0 1 0 -5.8 0zM469.2 211.6a2.9 2.9 0 1 0 5.8 0a2.9 2.9 0 1 0 -5.8 0zM505.2 239.7a2.9 2.9 0 1 0 5.8 0a2.9 2.9 0 1 0 -5.8 0zM519.5 249.4a2.9 2.9 0 1 0 5.8 0a2.9 2.9 0 1 0 -5.8 0zM630.2 314.3a2.9 2.9 0 1 0 5.8 0a2.9 2.9 0 1 0 -5.8 0zM550.7 256.4a2.9 2.9 0 1 0 5.8 0a2.9 2.9 0 1 0 -5.8 0zM563.9 250.1a2.9 2.9 0 1 0 5.8 0a2.9 2.9 0 1 0 -5.8 0zM621.5 305.8a2.9 2.9 0 1 0 5.8 0a2.9 2.9 0 1 0 -5.8 0zM656.7 344.9a2.9 2.9 0 1 0 5.8 0a2.9 2.9 0 1 0 -5.8 0zM483.4 236.3a2.9 2.9 0 1 0 5.8 0a2.9 2.9 0 1 0 -5.8 0zM598.2 291.6a2.9 2.9 0 1 0 5.8 0a2.9 2.9 0 1 0 -5.8 0zM569.8 309a2.9 2.9 0 1 0 5.8 0a2.9 2.9 0 1 0 -5.8 0zM514.2 220.5a2.9 2.9 0 1 0 5.8 0a2.9 2.9 0 1 0 -5.8 0zM554.4 290.9a2.9 2.9 0 1 0 5.8 0a2.9 2.9 0 1 0 -5.8 0zM628.1 294a2.9 2.9 0 1 0 5.8 0a2.9 2.9 0 1 0 -5.8 0zM538.3 268a2.9 2.9 0 1 0 5.8 0a2.9 2.9 0 1 0 -5.8 0zM594 278a2.9 2.9 0 1 0 5.8 0a2.9 2.9 0 1 0 -5.8 0zM576.7 266.8a2.9 2.9 0 1 0 5.8 0a2.9 2.9 0 1 0 -5.8 0zM417.9 168.7a2.9 2.9 0 1 0 5.8 0a2.9 2.9 0 1 0 -5.8 0zM639.7 356.6a2.9 2.9 0 1 0 5.8 0a2.9 2.9 0 1 0 -5.8 0zM640 310a2.9 2.9 0 1 0 5.8 0a2.9 2.9 0 1 0 -5.8 0zM636 336.9a2.9 2.9 0 1 0 5.8 0a2.9 2.9 0 1 0 -5.8 0zM573 290.3a2.9 2.9 0 1 0 5.8 0a2.9 2.9 0 1 0 -5.8 0zM571.9 292.9a2.9 2.9 0 1 0 5.8 0a2.9 2.9 0 1 0 -5.8 0zM611.4 317.9a2.9 2.9 0 1 0 5.8 0a2.9 2.9 0 1 0 -5.8 0zM662.1 350.6a2.9 2.9 0 1 0 5.8 0a2.9 2.9 0 1 0 -5.8 0zM584.1 266a2.9 2.9 0 1 0 5.8 0a2.9 2.9 0 1 0 -5.8 0zM545.3 268.6a2.9 2.9 0 1 0 5.8 0a2.9 2.9 0 1 0 -5.8 0zM580 299.7a2.9 2.9 0 1 0 5.8 0a2.9 2.9 0 1 0 -5.8 0zM595.8 288.3a2.9 2.9 0 1 0 5.8 0a2.9 2.9 0 1 0 -5.8 0zM604.7 315.8a2.9 2.9 0 1 0 5.8 0a2.9 2.9 0 1 0 -5.8 0zM651.7 308.6a2.9 2.9 0 1 0 5.8 0a2.9 2.9 0 1 0 -5.8 0zM596.8 320.9a2.9 2.9 0 1 0 5.8 0a2.9 2.9 0 1 0 -5.8 0zM634 306a2.9 2.9 0 1 0 5.8 0a2.9 2.9 0 1 0 -5.8 0zM579.5 284.8a2.9 2.9 0 1 0 5.8 0a2.9 2.9 0 1 0 -5.8 0zM576.2 307.3a2.9 2.9 0 1 0 5.8 0a2.9 2.9 0 1 0 -5.8 0zM646.7 352.1a2.9 2.9 0 1 0 5.8 0a2.9 2.9 0 1 0 -5.8 0zM542.2 253.7a2.9 2.9 0 1 0 5.8 0a2.9 2.9 0 1 0 -5.8 0zM546.3 254.9a2.9 2.9 0 1 0 5.8 0a2.9 2.9 0 1 0 -5.8 0zM591.9 323.6a2.9 2.9 0 1 0 5.8 0a2.9 2.9 0 1 0 -5.8 0zM487.1 181.6a2.9 2.9 0 1 0 5.8 0a2.9 2.9 0 1 0 -5.8 0zM508.7 263.8a2.9 2.9 0 1 0 5.8 0a2.9 2.9 0 1 0 -5.8 0zM587 327.2a2.9 2.9 0 1 0 5.8 0a2.9 2.9 0 1 0 -5.8 0zM606.4 282.4a2.9 2.9 0 1 0 5.8 0a2.9 2.9 0 1 0 -5.8 0zM659.6 360.9a2.9 2.9 0 1 0 5.8 0a2.9 2.9 0 1 0 -5.8 0zM487.8 230.2a2.9 2.9 0 1 0 5.8 0a2.9 2.9 0 1 0 -5.8 0zM443.7 198.2a2.9 2.9 0 1 0 5.8 0a2.9 2.9 0 1 0 -5.8 0zM613.7 256.9a2.9 2.9 0 1 0 5.8 0a2.9 2.9 0 1 0 -5.8 0zM645.1 316.6a2.9 2.9 0 1 0 5.8 0a2.9 2.9 0 1 0 -5.8 0zM477.5 214.4a2.9 2.9 0 1 0 5.8 0a2.9 2.9 0 1 0 -5.8 0zM545.2 259a2.9 2.9 0 1 0 5.8 0a2.9 2.9 0 1 0 -5.8 0zM612.6 301.9a2.9 2.9 0 1 0 5.8 0a2.9 2.9 0 1 0 -5.8 0zM606.5 301.1a2.9 2.9 0 1 0 5.8 0a2.9 2.9 0 1 0 -5.8 0zM641.1 261.5a2.9 2.9 0 1 0 5.8 0a2.9 2.9 0 1 0 -5.8 0zM609.8 304.9a2.9 2.9 0 1 0 5.8 0a2.9 2.9 0 1 0 -5.8 0zM652.9 316.3a2.9 2.9 0 1 0 5.8 0a2.9 2.9 0 1 0 -5.8 0zM544.2 265a2.9 2.9 0 1 0 5.8 0a2.9 2.9 0 1 0 -5.8 0zM291.1 95a2.9 2.9 0 1 0 5.8 0a2.9 2.9 0 1 0 -5.8 0zM313.1 110a2.9 2.9 0 1 0 5.8 0a2.9 2.9 0 1 0 -5.8 0zM317.1 111a2.9 2.9 0 1 0 5.8 0a2.9 2.9 0 1 0 -5.8 0zM334.1 105a2.9 2.9 0 1 0 5.8 0a2.9 2.9 0 1 0 -5.8 0zM339.1 109a2.9 2.9 0 1 0 5.8 0a2.9 2.9 0 1 0 -5.8 0zM311.1 119a2.9 2.9 0 1 0 5.8 0a2.9 2.9 0 1 0 -5.8 0zM345.1 113.5a2.9 2.9 0 1 0 5.8 0a2.9 2.9 0 1 0 -5.8 0zM335.1 123a2.9 2.9 0 1 0 5.8 0a2.9 2.9 0 1 0 -5.8 0zM346.1 127a2.9 2.9 0 1 0 5.8 0a2.9 2.9 0 1 0 -5.8 0zM348.1 134a2.9 2.9 0 1 0 5.8 0a2.9 2.9 0 1 0 -5.8 0zM357.1 132a2.9 2.9 0 1 0 5.8 0a2.9 2.9 0 1 0 -5.8 0zM365.1 142a2.9 2.9 0 1 0 5.8 0a2.9 2.9 0 1 0 -5.8 0zM376.1 149a2.9 2.9 0 1 0 5.8 0a2.9 2.9 0 1 0 -5.8 0zM379.1 157a2.9 2.9 0 1 0 5.8 0a2.9 2.9 0 1 0 -5.8 0zM394.1 146a2.9 2.9 0 1 0 5.8 0a2.9 2.9 0 1 0 -5.8 0zM392.1 168a2.9 2.9 0 1 0 5.8 0a2.9 2.9 0 1 0 -5.8 0zM324.1 110a2.9 2.9 0 1 0 5.8 0a2.9 2.9 0 1 0 -5.8 0z" fill="#d8d8d8"/>
<path d="M257 55.3L698 366" stroke="#ee2a1e" stroke-width="5.2" stroke-linecap="round"/>
<path d="M611 13H974V267H611ZM614 16V265H972V16Z" fill="#000" fill-rule="evenodd"/>
<path d="M968.7 26.4H722.5V231.4H968.7" fill="none" stroke="#bfbfbf" stroke-width="1"/>
<g transform="translate(641.23 69.40) scale(0.9696 1.0318)"><text x="0" y="0" style="font-family:&quot;Liberation Serif&quot;,serif;font-size:26px;">6 · 10<tspan dy="-9.36" font-size="18.72">−2</tspan></text></g>
<g transform="translate(624.19 148.80) scale(0.9557 1.0364)"><text x="0" y="0" style="font-family:&quot;Liberation Serif&quot;,serif;font-size:26px;">1.5 · 10<tspan dy="-9.36" font-size="18.72">−2</tspan></text></g>
<g transform="translate(639.84 238.00) scale(0.9582 1.0455)"><text x="0" y="0" style="font-family:&quot;Liberation Serif&quot;,serif;font-size:26px;">3 · 10<tspan dy="-9.36" font-size="18.72">−3</tspan></text></g>
<g transform="translate(735.58 256.15) scale(1.0350 1.0147)"><text x="0" y="0" style="font-family:&quot;Liberation Serif&quot;,serif;font-size:26px;">5</text></g>
<g transform="translate(812.68 258.20) scale(0.9600 1.0118)"><text x="0" y="0" style="font-family:&quot;Liberation Serif&quot;,serif;font-size:26px;">7.5</text></g>
<g transform="translate(906.99 258.00) scale(0.9565 1.0294)"><text x="0" y="0" style="font-family:&quot;Liberation Serif&quot;,serif;font-size:26px;">10</text></g>
<path d="M757.6 103.4a2.6 2.6 0 1 0 5.3 0a2.6 2.6 0 1 0 -5.3 0zM764 99a2.6 2.6 0 1 0 5.3 0a2.6 2.6 0 1 0 -5.3 0zM770.2 95a2.6 2.6 0 1 0 5.3 0a2.6 2.6 0 1 0 -5.3 0zM781.9 101.8a2.6 2.6 0 1 0 5.3 0a2.6 2.6 0 1 0 -5.3 0zM788.4 111.8a2.6 2.6 0 1 0 5.3 0a2.6 2.6 0 1 0 -5.3 0zM801.5 120a2.6 2.6 0 1 0 5.3 0a2.6 2.6 0 1 0 -5.3 0zM810.8 122.2a2.6 2.6 0 1 0 5.3 0a2.6 2.6 0 1 0 -5.3 0zM816.4 109a2.6 2.6 0 1 0 5.3 0a2.6 2.6 0 1 0 -5.3 0zM823.9 108.5a2.6 2.6 0 1 0 5.3 0a2.6 2.6 0 1 0 -5.3 0zM828.4 121.6a2.6 2.6 0 1 0 5.3 0a2.6 2.6 0 1 0 -5.3 0zM845.2 122.8a2.6 2.6 0 1 0 5.3 0a2.6 2.6 0 1 0 -5.3 0zM808 148.2a2.6 2.6 0 1 0 5.3 0a2.6 2.6 0 1 0 -5.3 0zM833.2 153a2.6 2.6 0 1 0 5.3 0a2.6 2.6 0 1 0 -5.3 0zM832.3 135.4a2.6 2.6 0 1 0 5.3 0a2.6 2.6 0 1 0 -5.3 0zM838.8 134.8a2.6 2.6 0 1 0 5.3 0a2.6 2.6 0 1 0 -5.3 0zM841.6 135.4a2.6 2.6 0 1 0 5.3 0a2.6 2.6 0 1 0 -5.3 0zM853 153.8a2.6 2.6 0 1 0 5.3 0a2.6 2.6 0 1 0 -5.3 0zM856.4 158a2.6 2.6 0 1 0 5.3 0a2.6 2.6 0 1 0 -5.3 0zM857 172a2.6 2.6 0 1 0 5.3 0a2.6 2.6 0 1 0 -5.3 0zM854.2 136.2a2.6 2.6 0 1 0 5.3 0a2.6 2.6 0 1 0 -5.3 0zM859.8 125.8a2.6 2.6 0 1 0 5.3 0a2.6 2.6 0 1 0 -5.3 0zM860.6 148.2a2.6 2.6 0 1 0 5.3 0a2.6 2.6 0 1 0 -5.3 0zM868.2 139a2.6 2.6 0 1 0 5.3 0a2.6 2.6 0 1 0 -5.3 0zM868.7 148.2a2.6 2.6 0 1 0 5.3 0a2.6 2.6 0 1 0 -5.3 0zM873.2 127.8a2.6 2.6 0 1 0 5.3 0a2.6 2.6 0 1 0 -5.3 0zM878 143.2a2.6 2.6 0 1 0 5.3 0a2.6 2.6 0 1 0 -5.3 0zM879.4 144.6a2.6 2.6 0 1 0 5.3 0a2.6 2.6 0 1 0 -5.3 0zM883 144.6a2.6 2.6 0 1 0 5.3 0a2.6 2.6 0 1 0 -5.3 0zM877.4 150.2a2.6 2.6 0 1 0 5.3 0a2.6 2.6 0 1 0 -5.3 0zM871 161.4a2.6 2.6 0 1 0 5.3 0a2.6 2.6 0 1 0 -5.3 0zM871.5 167a2.6 2.6 0 1 0 5.3 0a2.6 2.6 0 1 0 -5.3 0zM878.8 162.8a2.6 2.6 0 1 0 5.3 0a2.6 2.6 0 1 0 -5.3 0zM882.7 174.6a2.6 2.6 0 1 0 5.3 0a2.6 2.6 0 1 0 -5.3 0zM890.6 162.8a2.6 2.6 0 1 0 5.3 0a2.6 2.6 0 1 0 -5.3 0zM893.4 165.6a2.6 2.6 0 1 0 5.3 0a2.6 2.6 0 1 0 -5.3 0zM894.8 169.8a2.6 2.6 0 1 0 5.3 0a2.6 2.6 0 1 0 -5.3 0zM896.2 160.6a2.6 2.6 0 1 0 5.3 0a2.6 2.6 0 1 0 -5.3 0zM901.8 171.2a2.6 2.6 0 1 0 5.3 0a2.6 2.6 0 1 0 -5.3 0zM904.6 168.4a2.6 2.6 0 1 0 5.3 0a2.6 2.6 0 1 0 -5.3 0zM907.9 175.4a2.6 2.6 0 1 0 5.3 0a2.6 2.6 0 1 0 -5.3 0zM896.2 181a2.6 2.6 0 1 0 5.3 0a2.6 2.6 0 1 0 -5.3 0zM890.6 178.2a2.6 2.6 0 1 0 5.3 0a2.6 2.6 0 1 0 -5.3 0zM901.8 185.2a2.6 2.6 0 1 0 5.3 0a2.6 2.6 0 1 0 -5.3 0zM904.6 188a2.6 2.6 0 1 0 5.3 0a2.6 2.6 0 1 0 -5.3 0zM908.8 195a2.6 2.6 0 1 0 5.3 0a2.6 2.6 0 1 0 -5.3 0zM913 189.4a2.6 2.6 0 1 0 5.3 0a2.6 2.6 0 1 0 -5.3 0zM915.8 193.6a2.6 2.6 0 1 0 5.3 0a2.6 2.6 0 1 0 -5.3 0zM906 199.2a2.6 2.6 0 1 0 5.3 0a2.6 2.6 0 1 0 -5.3 0zM911.6 202a2.6 2.6 0 1 0 5.3 0a2.6 2.6 0 1 0 -5.3 0zM918.6 199.2a2.6 2.6 0 1 0 5.3 0a2.6 2.6 0 1 0 -5.3 0zM924.2 199.2a2.6 2.6 0 1 0 5.3 0a2.6 2.6 0 1 0 -5.3 0zM928.4 203.4a2.6 2.6 0 1 0 5.3 0a2.6 2.6 0 1 0 -5.3 0zM932.6 202a2.6 2.6 0 1 0 5.3 0a2.6 2.6 0 1 0 -5.3 0zM922.8 206.2a2.6 2.6 0 1 0 5.3 0a2.6 2.6 0 1 0 -5.3 0zM927 210.4a2.6 2.6 0 1 0 5.3 0a2.6 2.6 0 1 0 -5.3 0zM932.6 209a2.6 2.6 0 1 0 5.3 0a2.6 2.6 0 1 0 -5.3 0zM934 213.2a2.6 2.6 0 1 0 5.3 0a2.6 2.6 0 1 0 -5.3 0zM936.8 219.4a2.6 2.6 0 1 0 5.3 0a2.6 2.6 0 1 0 -5.3 0zM921.4 216a2.6 2.6 0 1 0 5.3 0a2.6 2.6 0 1 0 -5.3 0zM918.6 220.2a2.6 2.6 0 1 0 5.3 0a2.6 2.6 0 1 0 -5.3 0zM924.2 221.6a2.6 2.6 0 1 0 5.3 0a2.6 2.6 0 1 0 -5.3 0zM929.8 216a2.6 2.6 0 1 0 5.3 0a2.6 2.6 0 1 0 -5.3 0zM915.2 211.8a2.6 2.6 0 1 0 5.3 0a2.6 2.6 0 1 0 -5.3 0zM882.2 204.2a2.6 2.6 0 1 0 5.3 0a2.6 2.6 0 1 0 -5.3 0zM890.6 201.4a2.6 2.6 0 1 0 5.3 0a2.6 2.6 0 1 0 -5.3 0zM900.4 224.4a2.6 2.6 0 1 0 5.3 0a2.6 2.6 0 1 0 -5.3 0zM922.8 228.6a2.6 2.6 0 1 0 5.3 0a2.6 2.6 0 1 0 -5.3 0zM880.8 168.4a2.6 2.6 0 1 0 5.3 0a2.6 2.6 0 1 0 -5.3 0zM892.8 160a2.6 2.6 0 1 0 5.3 0a2.6 2.6 0 1 0 -5.3 0z" fill="#a6a6a6" stroke="#707070" stroke-width="0.9"/><path d="M730.8 45.7l3.6 6.2h-7.2zM745.4 58.8l3.6 6.2h-7.2zM757.4 77.9l3.6 6.2h-7.2zM773.6 73.1l3.6 6.2h-7.2zM782 83.5l3.6 6.2h-7.2zM773.4 100.3l3.6 6.2h-7.2zM803.6 76.5l3.6 6.2h-7.2zM797.4 105.3l3.6 6.2h-7.2zM819.8 90.5l3.6 6.2h-7.2zM828.8 100.8l3.6 6.2h-7.2zM837.8 96.1l3.6 6.2h-7.2zM812 122.7l3.6 6.2h-7.2zM823.2 126l3.6 6.2h-7.2zM837.2 127.7l3.6 6.2h-7.2zM848.4 122.1l3.6 6.2h-7.2zM849.8 144.5l3.6 6.2h-7.2zM856.8 126l3.6 6.2h-7.2zM868 112.9l3.6 6.2h-7.2zM870.8 113.7l3.6 6.2h-7.2zM870.2 126.9l3.6 6.2h-7.2zM862.4 139.5l3.6 6.2h-7.2zM871.4 138.1l3.6 6.2h-7.2zM884.2 126l3.6 6.2h-7.2zM897.7 126.9l3.6 6.2h-7.2zM891.2 137.2l3.6 6.2h-7.2zM910 137.5l3.6 6.2h-7.2zM883.4 150.1l3.6 6.2h-7.2zM884.8 154.9l3.6 6.2h-7.2zM901.6 149.3l3.6 6.2h-7.2zM904.4 157.7l3.6 6.2h-7.2zM908.6 160.5l3.6 6.2h-7.2zM915.6 160.5l3.6 6.2h-7.2zM919.8 161.9l3.6 6.2h-7.2zM923.2 164.7l3.6 6.2h-7.2zM930.2 167.5l3.6 6.2h-7.2zM879.2 173.9l3.6 6.2h-7.2zM891.8 180.1l3.6 6.2h-7.2zM892.1 189.9l3.6 6.2h-7.2zM899.4 188.5l3.6 6.2h-7.2zM909.4 172.5l3.6 6.2h-7.2zM914.2 179.2l3.6 6.2h-7.2zM919.8 174.5l3.6 6.2h-7.2zM928.2 178.1l3.6 6.2h-7.2zM934.6 178.1l3.6 6.2h-7.2zM875 195.5l3.6 6.2h-7.2zM909.4 206.7l3.6 6.2h-7.2zM908.6 198.3l3.6 6.2h-7.2zM917.8 213.7l3.6 6.2h-7.2zM924 187.1l3.6 6.2h-7.2zM918.4 198.3l3.6 6.2h-7.2zM921.2 220.7l3.6 6.2h-7.2zM933.8 226.3l3.6 6.2h-7.2zM901.6 166.1l3.6 6.2h-7.2zM924 173.1l3.6 6.2h-7.2z" fill="#000"/><path d="M730.8 40.4L934.6 203.4" stroke="#ee1111" stroke-width="1.5"/>
<g transform="translate(2.42 567.04) scale(0.9443 1.0111)"><text x="0" y="0" style="font-family:&quot;Liberation Sans&quot;,sans-serif;font-size:48px;">(b)</text></g>
<path d="M210.5 576V968.4H727" fill="none" stroke="#b8b8b8" stroke-width="1.3"/>
<g transform="translate(119.06 661.00) scale(0.9413 0.9900)"><text x="0" y="0" style="font-family:&quot;Liberation Serif&quot;,serif;font-size:35px;">9 · 10<tspan dy="-12.60" font-size="25.20">3</tspan></text></g>
<g transform="translate(119.06 764.30) scale(0.9413 0.9800)"><text x="0" y="0" style="font-family:&quot;Liberation Serif&quot;,serif;font-size:35px;">6 · 10<tspan dy="-12.60" font-size="25.20">3</tspan></text></g>
<g transform="translate(118.09 875.50) scale(0.9549 0.9867)"><text x="0" y="0" style="font-family:&quot;Liberation Serif&quot;,serif;font-size:35px;">3 · 10<tspan dy="-12.60" font-size="25.20">3</tspan></text></g>
<g transform="translate(269.57 1026.30) scale(1.0093 1.0100)"><text x="0" y="0" style="font-family:&quot;Liberation Serif&quot;,serif;font-size:35px;">10<tspan dy="-12.60" font-size="25.20">2</tspan></text></g>
<g transform="translate(456.87 1026.10) scale(0.9670 1.0033)"><text x="0" y="0" style="font-family:&quot;Liberation Serif&quot;,serif;font-size:35px;">3 · 10<tspan dy="-12.60" font-size="25.20">2</tspan></text></g>
<g transform="translate(632.46 1026.10) scale(0.9703 1.0033)"><text x="0" y="0" style="font-family:&quot;Liberation Serif&quot;,serif;font-size:35px;">5 · 10<tspan dy="-12.60" font-size="25.20">2</tspan></text></g>
<g transform="translate(422.38 1075.08) scale(1.0095 0.9886)"><text x="0" y="0" style="font-family:&quot;Liberation Serif&quot;,serif;font-size:52px;font-style:italic;">t<tspan font-style="normal">[s]</tspan></text></g>
<g transform="translate(55.80 952.22) rotate(-90) scale(1.1111 0.9320)"><text x="0" y="0" style="font-family:&quot;Liberation Serif&quot;,serif;font-size:52px;font-style:italic;">r</text></g>
<g transform="translate(35.80 929.34) rotate(-90) scale(1.0375 1.0042)"><text x="0" y="0" style="font-family:&quot;Liberation Serif&quot;,serif;font-size:35px;">4</text></g>
<g transform="translate(63.10 900.29) rotate(-90) scale(1.1958 1.2000)"><text x="0" y="0" style="font-family:&quot;Liberation Serif&quot;,serif;font-size:52px;">−</text></g>
<g transform="translate(55.50 853.10) rotate(-90) scale(1.0500 0.9320)"><text x="0" y="0" style="font-family:&quot;Liberation Serif&quot;,serif;font-size:52px;font-style:italic;">r</text></g>
<g transform="translate(36.60 831.04) rotate(-90) scale(1.0438 1.0625)"><text x="0" y="0" style="font-family:&quot;Liberation Serif&quot;,serif;font-size:35px;">4</text></g>
<g transform="translate(70.85 836.05) rotate(-90) scale(1.1269 0.9781)"><text x="0" y="0" style="font-family:&quot;Liberation Serif&quot;,serif;font-size:35px;">(<tspan font-style="italic">t</tspan>=0)</text></g>
<g transform="translate(56.75 755.95) rotate(-90) scale(0.9868 0.9636)"><text x="0" y="0" style="font-family:&quot;Liberation Serif&quot;,serif;font-size:52px;">[cm</text></g>
<g transform="translate(36.20 677.94) rotate(-90) scale(0.9375 1.0167)"><text x="0" y="0" style="font-family:&quot;Liberation Serif&quot;,serif;font-size:35px;">4</text></g>
<g transform="translate(56.94 659.65) rotate(-90) scale(1.0727 0.9659)"><text x="0" y="0" style="font-family:&quot;Liberation Serif&quot;,serif;font-size:52px;">]</text></g>
<path d="M602.9 732.8l3.8 3.8l-3.8 3.8l-3.8 -3.8zM603.9 722.1l3.8 3.8l-3.8 3.8l-3.8 -3.8zM499.2 785.1l3.8 3.8l-3.8 3.8l-3.8 -3.8zM388.6 861.3l3.8 3.8l-3.8 3.8l-3.8 -3.8zM249 945.3l3.8 3.8l-3.8 3.8l-3.8 -3.8zM439.1 826.2l3.8 3.8l-3.8 3.8l-3.8 -3.8zM451.5 825.3l3.8 3.8l-3.8 3.8l-3.8 -3.8zM242.8 950.3l3.8 3.8l-3.8 3.8l-3.8 -3.8zM245.3 946.6l3.8 3.8l-3.8 3.8l-3.8 -3.8zM664.7 712.5l3.8 3.8l-3.8 3.8l-3.8 -3.8zM551 773.7l3.8 3.8l-3.8 3.8l-3.8 -3.8zM360.6 882.4l3.8 3.8l-3.8 3.8l-3.8 -3.8zM464.1 838l3.8 3.8l-3.8 3.8l-3.8 -3.8zM657 713.6l3.8 3.8l-3.8 3.8l-3.8 -3.8zM633 721l3.8 3.8l-3.8 3.8l-3.8 -3.8zM615.8 739l3.8 3.8l-3.8 3.8l-3.8 -3.8zM443.6 819.3l3.8 3.8l-3.8 3.8l-3.8 -3.8zM489.9 798.7l3.8 3.8l-3.8 3.8l-3.8 -3.8zM559.5 773l3.8 3.8l-3.8 3.8l-3.8 -3.8zM253.9 943.7l3.8 3.8l-3.8 3.8l-3.8 -3.8zM515.3 807.2l3.8 3.8l-3.8 3.8l-3.8 -3.8zM380.9 866.1l3.8 3.8l-3.8 3.8l-3.8 -3.8zM627.2 702.6l3.8 3.8l-3.8 3.8l-3.8 -3.8zM256.3 950.5l3.8 3.8l-3.8 3.8l-3.8 -3.8zM560.4 776.4l3.8 3.8l-3.8 3.8l-3.8 -3.8zM624.1 710l3.8 3.8l-3.8 3.8l-3.8 -3.8zM356.5 892.8l3.8 3.8l-3.8 3.8l-3.8 -3.8zM632.3 720l3.8 3.8l-3.8 3.8l-3.8 -3.8zM624.8 699.2l3.8 3.8l-3.8 3.8l-3.8 -3.8zM222.7 956l3.8 3.8l-3.8 3.8l-3.8 -3.8zM570.2 749.6l3.8 3.8l-3.8 3.8l-3.8 -3.8zM208.9 972.3l3.8 3.8l-3.8 3.8l-3.8 -3.8zM494.3 790.8l3.8 3.8l-3.8 3.8l-3.8 -3.8zM464.9 814.1l3.8 3.8l-3.8 3.8l-3.8 -3.8zM342.9 885.8l3.8 3.8l-3.8 3.8l-3.8 -3.8zM409.3 845.5l3.8 3.8l-3.8 3.8l-3.8 -3.8zM603.3 724.4l3.8 3.8l-3.8 3.8l-3.8 -3.8zM404.9 854.2l3.8 3.8l-3.8 3.8l-3.8 -3.8zM311 915.8l3.8 3.8l-3.8 3.8l-3.8 -3.8zM567.1 766.4l3.8 3.8l-3.8 3.8l-3.8 -3.8zM470.4 803.3l3.8 3.8l-3.8 3.8l-3.8 -3.8zM600.9 722.7l3.8 3.8l-3.8 3.8l-3.8 -3.8zM361.1 878.7l3.8 3.8l-3.8 3.8l-3.8 -3.8zM406.6 843.8l3.8 3.8l-3.8 3.8l-3.8 -3.8zM601.3 729.5l3.8 3.8l-3.8 3.8l-3.8 -3.8zM495.8 779.3l3.8 3.8l-3.8 3.8l-3.8 -3.8zM495.5 822.7l3.8 3.8l-3.8 3.8l-3.8 -3.8zM361.5 885.8l3.8 3.8l-3.8 3.8l-3.8 -3.8zM219.6 955.4l3.8 3.8l-3.8 3.8l-3.8 -3.8zM644.2 725.1l3.8 3.8l-3.8 3.8l-3.8 -3.8zM271.1 939.1l3.8 3.8l-3.8 3.8l-3.8 -3.8zM616 696.8l3.8 3.8l-3.8 3.8l-3.8 -3.8zM431.3 830.7l3.8 3.8l-3.8 3.8l-3.8 -3.8zM649.8 703.8l3.8 3.8l-3.8 3.8l-3.8 -3.8zM447 834.4l3.8 3.8l-3.8 3.8l-3.8 -3.8zM645.2 710.2l3.8 3.8l-3.8 3.8l-3.8 -3.8zM515.5 785.2l3.8 3.8l-3.8 3.8l-3.8 -3.8zM363.7 875.5l3.8 3.8l-3.8 3.8l-3.8 -3.8zM581.7 774.1l3.8 3.8l-3.8 3.8l-3.8 -3.8zM558.7 791.3l3.8 3.8l-3.8 3.8l-3.8 -3.8zM562.1 754.2l3.8 3.8l-3.8 3.8l-3.8 -3.8zM477.2 799.2l3.8 3.8l-3.8 3.8l-3.8 -3.8zM353.5 906.5l3.8 3.8l-3.8 3.8l-3.8 -3.8zM547 757.3l3.8 3.8l-3.8 3.8l-3.8 -3.8zM285 917.9l3.8 3.8l-3.8 3.8l-3.8 -3.8zM564.9 759.9l3.8 3.8l-3.8 3.8l-3.8 -3.8zM545 777.3l3.8 3.8l-3.8 3.8l-3.8 -3.8zM435.6 845l3.8 3.8l-3.8 3.8l-3.8 -3.8zM600.8 743.5l3.8 3.8l-3.8 3.8l-3.8 -3.8zM337.6 883.8l3.8 3.8l-3.8 3.8l-3.8 -3.8zM442.6 835.4l3.8 3.8l-3.8 3.8l-3.8 -3.8zM600.6 741.7l3.8 3.8l-3.8 3.8l-3.8 -3.8zM437.6 853l3.8 3.8l-3.8 3.8l-3.8 -3.8zM572.1 755l3.8 3.8l-3.8 3.8l-3.8 -3.8zM536.8 758.8l3.8 3.8l-3.8 3.8l-3.8 -3.8zM646.7 696.6l3.8 3.8l-3.8 3.8l-3.8 -3.8zM662.4 722l3.8 3.8l-3.8 3.8l-3.8 -3.8zM575.7 745.9l3.8 3.8l-3.8 3.8l-3.8 -3.8zM604.2 707.8l3.8 3.8l-3.8 3.8l-3.8 -3.8zM313.3 900.8l3.8 3.8l-3.8 3.8l-3.8 -3.8zM572 755.2l3.8 3.8l-3.8 3.8l-3.8 -3.8zM616.9 744.8l3.8 3.8l-3.8 3.8l-3.8 -3.8zM447.9 815.6l3.8 3.8l-3.8 3.8l-3.8 -3.8zM514.4 796.8l3.8 3.8l-3.8 3.8l-3.8 -3.8zM484.1 815.3l3.8 3.8l-3.8 3.8l-3.8 -3.8zM652.2 698.1l3.8 3.8l-3.8 3.8l-3.8 -3.8zM405.3 849.8l3.8 3.8l-3.8 3.8l-3.8 -3.8zM448.3 845.9l3.8 3.8l-3.8 3.8l-3.8 -3.8zM208.6 973l3.8 3.8l-3.8 3.8l-3.8 -3.8zM457.1 831l3.8 3.8l-3.8 3.8l-3.8 -3.8zM543.6 776.2l3.8 3.8l-3.8 3.8l-3.8 -3.8zM644.8 727.9l3.8 3.8l-3.8 3.8l-3.8 -3.8zM641.2 712.4l3.8 3.8l-3.8 3.8l-3.8 -3.8zM410.5 847.7l3.8 3.8l-3.8 3.8l-3.8 -3.8zM661.6 690.2l3.8 3.8l-3.8 3.8l-3.8 -3.8zM333.9 893.6l3.8 3.8l-3.8 3.8l-3.8 -3.8zM608.9 732.3l3.8 3.8l-3.8 3.8l-3.8 -3.8zM315.9 927.1l3.8 3.8l-3.8 3.8l-3.8 -3.8zM449.8 823.5l3.8 3.8l-3.8 3.8l-3.8 -3.8zM262.7 943l3.8 3.8l-3.8 3.8l-3.8 -3.8zM620.3 744.7l3.8 3.8l-3.8 3.8l-3.8 -3.8zM610.8 729.8l3.8 3.8l-3.8 3.8l-3.8 -3.8zM305.4 919.7l3.8 3.8l-3.8 3.8l-3.8 -3.8zM504 768.3l3.8 3.8l-3.8 3.8l-3.8 -3.8zM373.6 871.2l3.8 3.8l-3.8 3.8l-3.8 -3.8zM489.4 813.1l3.8 3.8l-3.8 3.8l-3.8 -3.8zM514.4 759.2l3.8 3.8l-3.8 3.8l-3.8 -3.8zM284.4 913.9l3.8 3.8l-3.8 3.8l-3.8 -3.8zM622.3 739.9l3.8 3.8l-3.8 3.8l-3.8 -3.8zM384.8 861.2l3.8 3.8l-3.8 3.8l-3.8 -3.8zM469.7 801.7l3.8 3.8l-3.8 3.8l-3.8 -3.8zM251.4 939.2l3.8 3.8l-3.8 3.8l-3.8 -3.8zM210.1 963l3.8 3.8l-3.8 3.8l-3.8 -3.8zM338.2 897.4l3.8 3.8l-3.8 3.8l-3.8 -3.8zM417.9 849l3.8 3.8l-3.8 3.8l-3.8 -3.8zM642.6 709.6l3.8 3.8l-3.8 3.8l-3.8 -3.8zM630.4 711.6l3.8 3.8l-3.8 3.8l-3.8 -3.8zM484.5 805.1l3.8 3.8l-3.8 3.8l-3.8 -3.8zM473.2 827.4l3.8 3.8l-3.8 3.8l-3.8 -3.8zM556.2 769.2l3.8 3.8l-3.8 3.8l-3.8 -3.8zM620.5 735.3l3.8 3.8l-3.8 3.8l-3.8 -3.8zM415.7 844.1l3.8 3.8l-3.8 3.8l-3.8 -3.8zM599.2 721.8l3.8 3.8l-3.8 3.8l-3.8 -3.8z" fill="#f0f0f0" stroke="#b4b4b4" stroke-width="0.9"/>
<path d="M635.5 681.4l3.8 6.5h-7.5zM529.2 737.3l3.8 6.5h-7.5zM335 866.8l3.8 6.5h-7.5zM437.3 799.5l3.8 6.5h-7.5zM329.3 873.7l3.8 6.5h-7.5zM619.5 669.2l3.8 6.5h-7.5zM643.9 656.8l3.8 6.5h-7.5zM243.3 934.4l3.8 6.5h-7.5zM457.4 775.6l3.8 6.5h-7.5zM298.3 898.3l3.8 6.5h-7.5zM402.3 820.5l3.8 6.5h-7.5zM554.2 709.2l3.8 6.5h-7.5zM542 730.9l3.8 6.5h-7.5zM301.1 890.2l3.8 6.5h-7.5zM368.6 858.5l3.8 6.5h-7.5zM411.9 820l3.8 6.5h-7.5zM393.8 829.5l3.8 6.5h-7.5zM528.3 729.3l3.8 6.5h-7.5zM574.8 700.2l3.8 6.5h-7.5zM370.1 851.2l3.8 6.5h-7.5zM419.3 806.1l3.8 6.5h-7.5zM241.5 939.3l3.8 6.5h-7.5zM384.8 820.2l3.8 6.5h-7.5zM642.7 659.2l3.8 6.5h-7.5zM447.3 798.3l3.8 6.5h-7.5zM472.4 777.3l3.8 6.5h-7.5zM494.4 759.2l3.8 6.5h-7.5zM476.9 779.7l3.8 6.5h-7.5zM581.7 691.1l3.8 6.5h-7.5zM334.3 863.6l3.8 6.5h-7.5zM361.2 852.1l3.8 6.5h-7.5zM617.1 686.2l3.8 6.5h-7.5zM446.3 796l3.8 6.5h-7.5zM648.1 651.5l3.8 6.5h-7.5zM276.5 912.1l3.8 6.5h-7.5zM572.5 709.4l3.8 6.5h-7.5zM434 791.4l3.8 6.5h-7.5zM434.3 778.9l3.8 6.5h-7.5zM614.7 666.6l3.8 6.5h-7.5zM272.5 905.3l3.8 6.5h-7.5zM453 783.3l3.8 6.5h-7.5zM329.6 865.6l3.8 6.5h-7.5zM373.5 836.8l3.8 6.5h-7.5zM587.3 699.2l3.8 6.5h-7.5zM399.4 825.7l3.8 6.5h-7.5zM573 704.8l3.8 6.5h-7.5zM214.7 961.7l3.8 6.5h-7.5zM664.7 637.5l3.8 6.5h-7.5zM646.2 651.1l3.8 6.5h-7.5zM526.7 748.1l3.8 6.5h-7.5zM304.4 884l3.8 6.5h-7.5zM517.1 729.5l3.8 6.5h-7.5zM301.3 900.8l3.8 6.5h-7.5zM387.8 835.5l3.8 6.5h-7.5zM225.4 949.8l3.8 6.5h-7.5zM242.9 937.7l3.8 6.5h-7.5zM285.6 909.2l3.8 6.5h-7.5zM297.2 893l3.8 6.5h-7.5zM596.4 688.5l3.8 6.5h-7.5zM326.9 868.2l3.8 6.5h-7.5zM590.8 694.4l3.8 6.5h-7.5zM211 958.5l3.8 6.5h-7.5zM236.8 937l3.8 6.5h-7.5zM238.3 941.2l3.8 6.5h-7.5zM636.2 690.8l3.8 6.5h-7.5zM587.3 684.8l3.8 6.5h-7.5zM215.7 957.7l3.8 6.5h-7.5zM636.1 671.3l3.8 6.5h-7.5zM318.6 887.8l3.8 6.5h-7.5zM336.7 863.4l3.8 6.5h-7.5zM484.7 776.4l3.8 6.5h-7.5zM308.2 892.3l3.8 6.5h-7.5zM654.5 648.4l3.8 6.5h-7.5zM384.5 833.2l3.8 6.5h-7.5zM478.7 772.7l3.8 6.5h-7.5zM479.3 778l3.8 6.5h-7.5zM344.8 869l3.8 6.5h-7.5zM551.3 741.1l3.8 6.5h-7.5zM661.8 641.3l3.8 6.5h-7.5zM489.8 768.3l3.8 6.5h-7.5zM249.6 928.1l3.8 6.5h-7.5zM583.3 705.9l3.8 6.5h-7.5zM521.5 742.4l3.8 6.5h-7.5zM441.7 791.6l3.8 6.5h-7.5zM516 733.6l3.8 6.5h-7.5zM335.2 864.9l3.8 6.5h-7.5zM355.2 857.7l3.8 6.5h-7.5zM453.4 800.1l3.8 6.5h-7.5zM242 939.3l3.8 6.5h-7.5zM486.3 755.5l3.8 6.5h-7.5zM297.5 893.1l3.8 6.5h-7.5zM331.6 872.5l3.8 6.5h-7.5zM622.7 670.3l3.8 6.5h-7.5zM486.3 765.9l3.8 6.5h-7.5zM326.9 880.3l3.8 6.5h-7.5zM535.7 732.8l3.8 6.5h-7.5zM663.6 636.1l3.8 6.5h-7.5zM621.7 653.1l3.8 6.5h-7.5zM579.3 697.5l3.8 6.5h-7.5zM368.7 834.5l3.8 6.5h-7.5zM484.1 764.9l3.8 6.5h-7.5zM485 768.2l3.8 6.5h-7.5zM251.9 921.3l3.8 6.5h-7.5zM532.9 730.9l3.8 6.5h-7.5zM456 782.6l3.8 6.5h-7.5zM456.4 800.3l3.8 6.5h-7.5zM552.5 722.4l3.8 6.5h-7.5zM246.4 922.5l3.8 6.5h-7.5zM312 887.6l3.8 6.5h-7.5zM659.9 648.5l3.8 6.5h-7.5zM353.3 854.8l3.8 6.5h-7.5zM332.3 868.2l3.8 6.5h-7.5zM243.7 936.3l3.8 6.5h-7.5zM359.3 856.4l3.8 6.5h-7.5zM473.9 776l3.8 6.5h-7.5zM227.5 940.7l3.8 6.5h-7.5zM348.2 857.7l3.8 6.5h-7.5zM332.8 860.1l3.8 6.5h-7.5zM283.8 896l3.8 6.5h-7.5zM576.3 696.2l3.8 6.5h-7.5zM649.1 640.8l3.8 6.5h-7.5zM629.3 660.8l3.8 6.5h-7.5zM419.1 828.9l3.8 6.5h-7.5zM241 937.5l3.8 6.5h-7.5zM376.4 833.4l3.8 6.5h-7.5zM457.6 765.9l3.8 6.5h-7.5zM391 823.4l3.8 6.5h-7.5zM549.8 706.3l3.8 6.5h-7.5zM555.1 695.7l3.8 6.5h-7.5zM621.3 676.9l3.8 6.5h-7.5zM432.2 797l3.8 6.5h-7.5zM324.3 878.4l3.8 6.5h-7.5zM627.5 695.6l3.8 6.5h-7.5zM616 676.1l3.8 6.5h-7.5zM270.6 914.3l3.8 6.5h-7.5zM311.4 886.7l3.8 6.5h-7.5zM518.5 738.5l3.8 6.5h-7.5zM588.8 684.6l3.8 6.5h-7.5zM648.2 649.3l3.8 6.5h-7.5zM218.5 956.1l3.8 6.5h-7.5zM300.8 890.4l3.8 6.5h-7.5zM410.9 805.3l3.8 6.5h-7.5zM469.5 764.6l3.8 6.5h-7.5zM570.5 695.5l3.8 6.5h-7.5zM472.2 773.1l3.8 6.5h-7.5zM454.9 788.9l3.8 6.5h-7.5zM324.7 878.5l3.8 6.5h-7.5zM514.1 754.3l3.8 6.5h-7.5zM483.8 763.4l3.8 6.5h-7.5zM642.1 664.1l3.8 6.5h-7.5zM301 894l3.8 6.5h-7.5zM269.6 918.4l3.8 6.5h-7.5zM378.5 825.4l3.8 6.5h-7.5zM365.5 856l3.8 6.5h-7.5zM424.8 794.5l3.8 6.5h-7.5zM292.3 891.9l3.8 6.5h-7.5zM539.2 734.1l3.8 6.5h-7.5zM589.6 688.9l3.8 6.5h-7.5zM211 964.1l3.8 6.5h-7.5zM627.1 668.4l3.8 6.5h-7.5zM252.9 921.8l3.8 6.5h-7.5zM356.4 855.1l3.8 6.5h-7.5zM440.1 792.9l3.8 6.5h-7.5zM411.3 827.6l3.8 6.5h-7.5zM313.3 894l3.8 6.5h-7.5zM549.1 727.3l3.8 6.5h-7.5zM596.7 684.1l3.8 6.5h-7.5zM319.1 880.5l3.8 6.5h-7.5zM289 907.1l3.8 6.5h-7.5zM455 779.3l3.8 6.5h-7.5zM281.2 902.2l3.8 6.5h-7.5zM639.5 666.8l3.8 6.5h-7.5zM601.9 691.3l3.8 6.5h-7.5zM594.8 687l3.8 6.5h-7.5zM405.6 818l3.8 6.5h-7.5zM574.1 685.5l3.8 6.5h-7.5zM396.4 835.1l3.8 6.5h-7.5zM427 804.3l3.8 6.5h-7.5zM260.6 914.2l3.8 6.5h-7.5zM226.6 940.9l3.8 6.5h-7.5zM523.1 730.9l3.8 6.5h-7.5zM302.7 901.6l3.8 6.5h-7.5zM646.7 660.4l3.8 6.5h-7.5zM475.9 760.3l3.8 6.5h-7.5zM481.1 783.2l3.8 6.5h-7.5zM620.4 684.6l3.8 6.5h-7.5zM352.3 849.9l3.8 6.5h-7.5zM213.3 944.5l3.8 6.5h-7.5zM315.4 888.6l3.8 6.5h-7.5zM427 800.7l3.8 6.5h-7.5zM282.8 904.8l3.8 6.5h-7.5zM344.3 859.1l3.8 6.5h-7.5zM552.7 729.6l3.8 6.5h-7.5zM389.5 841.9l3.8 6.5h-7.5zM372.9 848.4l3.8 6.5h-7.5zM322 877.1l3.8 6.5h-7.5zM460.8 784l3.8 6.5h-7.5zM663.1 648.6l3.8 6.5h-7.5zM291.1 890.5l3.8 6.5h-7.5zM598.6 698.4l3.8 6.5h-7.5zM568.9 704.2l3.8 6.5h-7.5zM492.2 762.4l3.8 6.5h-7.5zM465.9 779.5l3.8 6.5h-7.5zM455.5 792.9l3.8 6.5h-7.5zM258.9 928.2l3.8 6.5h-7.5zM477.7 788.5l3.8 6.5h-7.5zM660.4 640.8l3.8 6.5h-7.5zM549 712.8l3.8 6.5h-7.5zM431 803.7l3.8 6.5h-7.5zM420 805.2l3.8 6.5h-7.5zM609.8 687.3l3.8 6.5h-7.5zM211 953.9l3.8 6.5h-7.5zM305.9 890.1l3.8 6.5h-7.5zM647.1 662.8l3.8 6.5h-7.5zM515.6 752.9l3.8 6.5h-7.5zM591.8 693.5l3.8 6.5h-7.5zM461.8 792.9l3.8 6.5h-7.5zM228.5 950.4l3.8 6.5h-7.5zM462.9 766.8l3.8 6.5h-7.5zM505.1 754.5l3.8 6.5h-7.5zM251.9 928.8l3.8 6.5h-7.5zM437.5 795.9l3.8 6.5h-7.5zM640.9 651.7l3.8 6.5h-7.5zM238.9 937.4l3.8 6.5h-7.5zM231 944.7l3.8 6.5h-7.5zM259.1 924.2l3.8 6.5h-7.5zM528.3 747.5l3.8 6.5h-7.5zM619.7 682.1l3.8 6.5h-7.5zM284.9 900.9l3.8 6.5h-7.5zM599.1 679.6l3.8 6.5h-7.5zM316.5 887.4l3.8 6.5h-7.5zM463.8 774.4l3.8 6.5h-7.5zM564.1 712.3l3.8 6.5h-7.5zM266.2 920.2l3.8 6.5h-7.5zM436 807.4l3.8 6.5h-7.5zM608.5 685.2l3.8 6.5h-7.5zM379.2 848.9l3.8 6.5h-7.5zM578.7 696.5l3.8 6.5h-7.5zM425.4 811.9l3.8 6.5h-7.5zM641.1 651.5l3.8 6.5h-7.5zM400.5 825.3l3.8 6.5h-7.5zM589.6 694.4l3.8 6.5h-7.5zM245.6 928l3.8 6.5h-7.5zM371.7 825.7l3.8 6.5h-7.5zM279.8 913.3l3.8 6.5h-7.5zM402 825.6l3.8 6.5h-7.5zM402.7 823.5l3.8 6.5h-7.5zM325.3 871.6l3.8 6.5h-7.5zM409.1 815.5l3.8 6.5h-7.5zM528.1 739.7l3.8 6.5h-7.5zM481.6 768l3.8 6.5h-7.5zM326.6 882.4l3.8 6.5h-7.5zM541.2 727.7l3.8 6.5h-7.5zM540 720.1l3.8 6.5h-7.5zM410.3 821.7l3.8 6.5h-7.5zM427.7 800.2l3.8 6.5h-7.5zM293.1 899.7l3.8 6.5h-7.5zM594.8 672.7l3.8 6.5h-7.5zM380 835.6l3.8 6.5h-7.5zM350.1 862.5l3.8 6.5h-7.5zM634.9 655.8l3.8 6.5h-7.5zM356 854.5l3.8 6.5h-7.5zM305 893.6l3.8 6.5h-7.5zM392 830.2l3.8 6.5h-7.5zM453.5 801.5l3.8 6.5h-7.5zM498.1 754.1l3.8 6.5h-7.5zM399.5 823.2l3.8 6.5h-7.5zM529.2 733.4l3.8 6.5h-7.5zM219.4 942.8l3.8 6.5h-7.5zM634 647.7l3.8 6.5h-7.5zM428.5 808.6l3.8 6.5h-7.5zM422.7 805.9l3.8 6.5h-7.5zM421.8 819.7l3.8 6.5h-7.5zM342 863.8l3.8 6.5h-7.5zM586.2 693.9l3.8 6.5h-7.5zM424.7 815l3.8 6.5h-7.5zM255.4 926.8l3.8 6.5h-7.5zM377 851.4l3.8 6.5h-7.5zM439.5 788.6l3.8 6.5h-7.5zM381.4 840.2l3.8 6.5h-7.5zM258.8 926.4l3.8 6.5h-7.5zM618 679l3.8 6.5h-7.5zM282.4 912.5l3.8 6.5h-7.5zM548.9 730.4l3.8 6.5h-7.5zM411.5 816.5l3.8 6.5h-7.5zM444.3 789.2l3.8 6.5h-7.5zM526.1 745.6l3.8 6.5h-7.5zM216.4 953.6l3.8 6.5h-7.5zM441.6 803.1l3.8 6.5h-7.5zM427.6 815.7l3.8 6.5h-7.5zM413.6 816.5l3.8 6.5h-7.5zM208.5 955.6l3.8 6.5h-7.5zM213.6 954.5l3.8 6.5h-7.5zM441.7 801.9l3.8 6.5h-7.5zM426 804.7l3.8 6.5h-7.5zM369.8 853.6l3.8 6.5h-7.5zM265.5 918.6l3.8 6.5h-7.5zM383.4 837l3.8 6.5h-7.5zM524.2 733.3l3.8 6.5h-7.5zM588.3 693.7l3.8 6.5h-7.5zM564.3 721.1l3.8 6.5h-7.5zM208.7 957.7l3.8 6.5h-7.5zM371.6 842l3.8 6.5h-7.5zM441.4 789.9l3.8 6.5h-7.5zM586 703.5l3.8 6.5h-7.5zM475.8 759.7l3.8 6.5h-7.5zM580.6 693.8l3.8 6.5h-7.5zM531.4 741.7l3.8 6.5h-7.5zM244 940.6l3.8 6.5h-7.5zM657 645.1l3.8 6.5h-7.5zM472.6 782.3l3.8 6.5h-7.5zM493.3 743.2l3.8 6.5h-7.5zM334.1 875l3.8 6.5h-7.5zM624 672.7l3.8 6.5h-7.5zM664.3 630l3.8 6.5h-7.5zM373.6 830.3l3.8 6.5h-7.5zM441.3 791.9l3.8 6.5h-7.5zM239.5 938.2l3.8 6.5h-7.5zM563.9 714.5l3.8 6.5h-7.5zM511.1 748.5l3.8 6.5h-7.5zM321.9 883.3l3.8 6.5h-7.5zM592.7 697.9l3.8 6.5h-7.5zM467.8 766.2l3.8 6.5h-7.5zM635 658.5l3.8 6.5h-7.5zM588.5 689.4l3.8 6.5h-7.5zM257.8 929l3.8 6.5h-7.5zM323.7 874l3.8 6.5h-7.5zM600.7 695.3l3.8 6.5h-7.5zM223.7 948.6l3.8 6.5h-7.5zM272.4 926l3.8 6.5h-7.5zM631 664.5l3.8 6.5h-7.5zM584.4 697l3.8 6.5h-7.5zM332.2 870.6l3.8 6.5h-7.5zM371.6 845.1l3.8 6.5h-7.5zM227 956.6l3.8 6.5h-7.5zM270.6 911.9l3.8 6.5h-7.5zM213.5 951.9l3.8 6.5h-7.5zM485.9 763.3l3.8 6.5h-7.5zM496.4 763.3l3.8 6.5h-7.5zM278.9 903.2l3.8 6.5h-7.5zM594.2 697.7l3.8 6.5h-7.5zM440.6 802.3l3.8 6.5h-7.5zM491.4 759.7l3.8 6.5h-7.5zM519.6 739.4l3.8 6.5h-7.5zM308.5 882.9l3.8 6.5h-7.5zM581.4 696.4l3.8 6.5h-7.5zM405.2 814.8l3.8 6.5h-7.5zM445.4 802.7l3.8 6.5h-7.5zM270.3 923.5l3.8 6.5h-7.5zM332.1 869.5l3.8 6.5h-7.5zM425.8 806.1l3.8 6.5h-7.5zM546.8 705.6l3.8 6.5h-7.5zM426.9 801.6l3.8 6.5h-7.5zM473.8 776l3.8 6.5h-7.5zM561.1 715.3l3.8 6.5h-7.5zM401.5 824.2l3.8 6.5h-7.5zM215.8 957.3l3.8 6.5h-7.5zM474.4 773.5l3.8 6.5h-7.5zM641.4 653.8l3.8 6.5h-7.5zM226.9 952.9l3.8 6.5h-7.5zM429.3 789.2l3.8 6.5h-7.5zM516 733.9l3.8 6.5h-7.5zM441.3 789.8l3.8 6.5h-7.5zM259.3 918.9l3.8 6.5h-7.5zM452.7 781.5l3.8 6.5h-7.5zM247.6 929.9l3.8 6.5h-7.5zM242.9 930.9l3.8 6.5h-7.5zM371.3 843.6l3.8 6.5h-7.5zM295.1 900.4l3.8 6.5h-7.5zM448.3 790.9l3.8 6.5h-7.5zM641.6 658.6l3.8 6.5h-7.5zM313.1 878.5l3.8 6.5h-7.5zM660.3 633.2l3.8 6.5h-7.5zM376.6 838.3l3.8 6.5h-7.5zM595.2 697.9l3.8 6.5h-7.5zM456.7 787.8l3.8 6.5h-7.5zM571.4 715.5l3.8 6.5h-7.5zM607.9 689.8l3.8 6.5h-7.5zM597.9 697.9l3.8 6.5h-7.5zM280.7 902.6l3.8 6.5h-7.5zM619 684.7l3.8 6.5h-7.5zM267.2 920.8l3.8 6.5h-7.5zM551.3 738l3.8 6.5h-7.5zM230.8 945.6l3.8 6.5h-7.5zM353.5 858.4l3.8 6.5h-7.5zM273.1 911.9l3.8 6.5h-7.5zM501.4 755.3l3.8 6.5h-7.5zM360.4 840.3l3.8 6.5h-7.5zM476.5 769l3.8 6.5h-7.5zM314.8 882.9l3.8 6.5h-7.5zM399.8 831.4l3.8 6.5h-7.5zM623.3 663.5l3.8 6.5h-7.5zM490.5 762.5l3.8 6.5h-7.5zM440.3 810.5l3.8 6.5h-7.5zM547.5 717.2l3.8 6.5h-7.5zM661.9 651.7l3.8 6.5h-7.5zM369.4 841.6l3.8 6.5h-7.5zM262.3 919.9l3.8 6.5h-7.5zM325.4 878.6l3.8 6.5h-7.5zM285 909l3.8 6.5h-7.5zM402.7 818.6l3.8 6.5h-7.5zM554.7 707.9l3.8 6.5h-7.5zM565.2 723.6l3.8 6.5h-7.5zM261.4 921.9l3.8 6.5h-7.5zM287.7 906.6l3.8 6.5h-7.5zM381.6 843.2l3.8 6.5h-7.5zM598.9 693.7l3.8 6.5h-7.5zM438.9 795.1l3.8 6.5h-7.5zM464.2 778.5l3.8 6.5h-7.5zM349.2 849l3.8 6.5h-7.5zM469.1 777.7l3.8 6.5h-7.5zM494 755.1l3.8 6.5h-7.5zM370.5 844.4l3.8 6.5h-7.5zM492.4 775.7l3.8 6.5h-7.5zM559.9 719.6l3.8 6.5h-7.5zM378.8 839.1l3.8 6.5h-7.5zM426.1 795.7l3.8 6.5h-7.5zM272.3 917.1l3.8 6.5h-7.5zM334.2 879.3l3.8 6.5h-7.5zM228.2 941.2l3.8 6.5h-7.5zM236 941.2l3.8 6.5h-7.5zM249.8 926.8l3.8 6.5h-7.5zM621.7 669.5l3.8 6.5h-7.5zM550.4 716.7l3.8 6.5h-7.5zM485.2 751.9l3.8 6.5h-7.5zM579.1 695.6l3.8 6.5h-7.5zM294.4 887.9l3.8 6.5h-7.5zM377.8 849.1l3.8 6.5h-7.5zM483.6 774.8l3.8 6.5h-7.5zM603.5 683.8l3.8 6.5h-7.5zM464.8 781.5l3.8 6.5h-7.5zM270 915.1l3.8 6.5h-7.5zM230.1 944.4l3.8 6.5h-7.5zM225.4 947.7l3.8 6.5h-7.5zM560.8 710.7l3.8 6.5h-7.5zM620.3 670.3l3.8 6.5h-7.5zM279.6 900.6l3.8 6.5h-7.5zM584.1 687.6l3.8 6.5h-7.5zM228.8 941.7l3.8 6.5h-7.5zM595 691.3l3.8 6.5h-7.5zM537.2 725.9l3.8 6.5h-7.5zM434.1 815.1l3.8 6.5h-7.5zM435.9 797.8l3.8 6.5h-7.5zM315.2 880.6l3.8 6.5h-7.5zM635.8 665.4l3.8 6.5h-7.5zM340.3 872.1l3.8 6.5h-7.5zM336.7 879.7l3.8 6.5h-7.5zM567.3 717.1l3.8 6.5h-7.5zM481.3 763l3.8 6.5h-7.5zM454 785.4l3.8 6.5h-7.5zM478.6 778.2l3.8 6.5h-7.5zM262.7 921.4l3.8 6.5h-7.5zM262 924.7l3.8 6.5h-7.5zM656.1 646.6l3.8 6.5h-7.5zM537.4 742.9l3.8 6.5h-7.5zM498.3 768.1l3.8 6.5h-7.5zM474 782l3.8 6.5h-7.5zM322.5 878.7l3.8 6.5h-7.5zM285.2 895.1l3.8 6.5h-7.5zM484.6 754.6l3.8 6.5h-7.5zM213 957.1l3.8 6.5h-7.5zM221.8 952.2l3.8 6.5h-7.5zM373.7 822.4l3.8 6.5h-7.5zM485.3 761.3l3.8 6.5h-7.5zM635.3 672.7l3.8 6.5h-7.5zM424.5 814.4l3.8 6.5h-7.5zM356.1 851.3l3.8 6.5h-7.5zM645.9 660.6l3.8 6.5h-7.5zM352.2 857.5l3.8 6.5h-7.5zM437.7 796.4l3.8 6.5h-7.5zM436 807.8l3.8 6.5h-7.5zM229.9 948.7l3.8 6.5h-7.5zM260.4 919.2l3.8 6.5h-7.5zM212 952.7l3.8 6.5h-7.5zM577.2 689.9l3.8 6.5h-7.5zM390.8 820.6l3.8 6.5h-7.5zM527.7 747.3l3.8 6.5h-7.5zM421.6 823.2l3.8 6.5h-7.5zM444.3 795.3l3.8 6.5h-7.5zM607.3 690.8l3.8 6.5h-7.5zM397.6 821l3.8 6.5h-7.5zM258.4 923l3.8 6.5h-7.5zM522.4 747.4l3.8 6.5h-7.5zM222.7 950.2l3.8 6.5h-7.5zM453.4 787l3.8 6.5h-7.5zM385.6 822.6l3.8 6.5h-7.5zM412.5 805l3.8 6.5h-7.5zM548.4 717.9l3.8 6.5h-7.5zM596.6 683.3l3.8 6.5h-7.5zM649.2 651.6l3.8 6.5h-7.5zM571 700.3l3.8 6.5h-7.5zM588.3 692.2l3.8 6.5h-7.5zM638.4 660.3l3.8 6.5h-7.5zM393.1 832.7l3.8 6.5h-7.5zM373.7 842.9l3.8 6.5h-7.5zM221.8 947.2l3.8 6.5h-7.5zM425.1 804.8l3.8 6.5h-7.5zM236.1 943.3l3.8 6.5h-7.5zM312.7 883.5l3.8 6.5h-7.5zM406.1 813l3.8 6.5h-7.5zM405.6 813.1l3.8 6.5h-7.5zM564.6 712.9l3.8 6.5h-7.5zM429.6 808l3.8 6.5h-7.5zM384.9 842.9l3.8 6.5h-7.5zM515.4 765.1l3.8 6.5h-7.5zM589.2 734.9l3.8 6.5h-7.5zM341.4 884.6l3.8 6.5h-7.5zM623.3 709.9l3.8 6.5h-7.5zM633.5 679.2l3.8 6.5h-7.5zM633.4 692.8l3.8 6.5h-7.5zM418.8 838.7l3.8 6.5h-7.5zM507.4 784.4l3.8 6.5h-7.5zM437.3 825.6l3.8 6.5h-7.5zM240.7 941.9l3.8 6.5h-7.5zM339.9 887.8l3.8 6.5h-7.5zM599.2 708.4l3.8 6.5h-7.5zM295.3 906.6l3.8 6.5h-7.5zM422.3 823.8l3.8 6.5h-7.5zM529.4 778.8l3.8 6.5h-7.5zM406.6 839.4l3.8 6.5h-7.5zM488.2 791.6l3.8 6.5h-7.5zM479.7 777.7l3.8 6.5h-7.5zM269.9 933.7l3.8 6.5h-7.5zM226.7 956.7l3.8 6.5h-7.5zM460 795.4l3.8 6.5h-7.5zM511.3 761.7l3.8 6.5h-7.5zM476 812.9l3.8 6.5h-7.5zM655.2 675l3.8 6.5h-7.5zM281.5 931l3.8 6.5h-7.5zM249.6 938.2l3.8 6.5h-7.5zM598.2 695.6l3.8 6.5h-7.5zM621.6 718.3l3.8 6.5h-7.5zM652.8 692.2l3.8 6.5h-7.5zM622 713.5l3.8 6.5h-7.5zM399.4 843.2l3.8 6.5h-7.5zM480.8 793.9l3.8 6.5h-7.5zM512.8 784.4l3.8 6.5h-7.5zM482.3 787.7l3.8 6.5h-7.5zM410.3 825.4l3.8 6.5h-7.5zM594.9 732.9l3.8 6.5h-7.5zM571.4 732.1l3.8 6.5h-7.5zM223 962.4l3.8 6.5h-7.5zM631 695.4l3.8 6.5h-7.5zM410.8 836.6l3.8 6.5h-7.5zM554 746.9l3.8 6.5h-7.5zM653.1 660.8l3.8 6.5h-7.5zM518.8 782.7l3.8 6.5h-7.5zM335.1 883.1l3.8 6.5h-7.5zM498.8 782.6l3.8 6.5h-7.5zM415.4 847.9l3.8 6.5h-7.5zM295.7 912.5l3.8 6.5h-7.5zM281.6 925.6l3.8 6.5h-7.5zM569.4 743.1l3.8 6.5h-7.5zM415.1 842.9l3.8 6.5h-7.5zM419.5 836.5l3.8 6.5h-7.5zM380 867.2l3.8 6.5h-7.5zM500.5 781.4l3.8 6.5h-7.5zM508 782.8l3.8 6.5h-7.5zM580.9 725.1l3.8 6.5h-7.5zM354.1 883.3l3.8 6.5h-7.5zM496.9 766.1l3.8 6.5h-7.5zM452.6 815.1l3.8 6.5h-7.5zM253.8 939.6l3.8 6.5h-7.5zM609.1 718.1l3.8 6.5h-7.5zM500.2 783.4l3.8 6.5h-7.5zM440.8 831.5l3.8 6.5h-7.5zM457.5 827.7l3.8 6.5h-7.5zM460.2 804l3.8 6.5h-7.5zM405.7 828.9l3.8 6.5h-7.5zM455.1 803.3l3.8 6.5h-7.5zM594 715.6l3.8 6.5h-7.5zM389.6 852.1l3.8 6.5h-7.5zM566 741.3l3.8 6.5h-7.5zM213.8 967.1l3.8 6.5h-7.5zM361.3 867.9l3.8 6.5h-7.5zM559.6 745.5l3.8 6.5h-7.5zM520.6 771.7l3.8 6.5h-7.5zM254.2 933.2l3.8 6.5h-7.5zM380.4 856.6l3.8 6.5h-7.5zM420.8 854.5l3.8 6.5h-7.5zM589.7 725.8l3.8 6.5h-7.5zM260.6 928.7l3.8 6.5h-7.5zM281.6 908.4l3.8 6.5h-7.5zM353.4 882.7l3.8 6.5h-7.5zM403.4 842.1l3.8 6.5h-7.5zM543.4 749.9l3.8 6.5h-7.5zM397.8 865.8l3.8 6.5h-7.5zM548.7 767.1l3.8 6.5h-7.5zM318.2 887.1l3.8 6.5h-7.5zM382.3 855.1l3.8 6.5h-7.5zM572.4 747.9l3.8 6.5h-7.5zM416.9 842.3l3.8 6.5h-7.5zM453.1 804.3l3.8 6.5h-7.5zM412.4 852.1l3.8 6.5h-7.5zM253.3 947.4l3.8 6.5h-7.5zM452.5 804.8l3.8 6.5h-7.5zM229.9 944.7l3.8 6.5h-7.5zM284.1 911.2l3.8 6.5h-7.5zM555.6 755.1l3.8 6.5h-7.5zM559.4 756.9l3.8 6.5h-7.5zM653.2 688.4l3.8 6.5h-7.5zM561.9 738.3l3.8 6.5h-7.5zM399.8 846l3.8 6.5h-7.5zM306.9 908.3l3.8 6.5h-7.5zM308.3 896.5l3.8 6.5h-7.5zM330.5 879.2l3.8 6.5h-7.5zM630.4 700l3.8 6.5h-7.5zM414.6 846.6l3.8 6.5h-7.5zM461.4 809.5l3.8 6.5h-7.5zM456.7 812.5l3.8 6.5h-7.5zM263.8 928.1l3.8 6.5h-7.5zM498.1 793l3.8 6.5h-7.5zM210.3 957.8l3.8 6.5h-7.5zM512.8 774.9l3.8 6.5h-7.5zM319.3 893.3l3.8 6.5h-7.5zM649 687.3l3.8 6.5h-7.5zM509.6 769l3.8 6.5h-7.5zM447 823l3.8 6.5h-7.5zM264.7 930.6l3.8 6.5h-7.5zM339.9 880.2l3.8 6.5h-7.5zM342.5 885.8l3.8 6.5h-7.5zM637.7 695.5l3.8 6.5h-7.5zM456.6 806.7l3.8 6.5h-7.5zM454.1 807.7l3.8 6.5h-7.5zM435.8 830.1l3.8 6.5h-7.5zM378.3 853.4l3.8 6.5h-7.5zM526.6 764.5l3.8 6.5h-7.5zM433 823.7l3.8 6.5h-7.5zM478 800.1l3.8 6.5h-7.5zM546 752.4l3.8 6.5h-7.5zM516.4 793.1l3.8 6.5h-7.5zM293.1 903.1l3.8 6.5h-7.5zM628.7 708.1l3.8 6.5h-7.5zM290.2 914.9l3.8 6.5h-7.5zM479.2 806.1l3.8 6.5h-7.5zM632 682.2l3.8 6.5h-7.5zM658.5 696.1l3.8 6.5h-7.5zM379.4 849.5l3.8 6.5h-7.5zM474.7 805.3l3.8 6.5h-7.5zM517.9 776.8l3.8 6.5h-7.5zM320.7 896.2l3.8 6.5h-7.5zM407.6 836.2l3.8 6.5h-7.5zM497.4 777.8l3.8 6.5h-7.5zM308.2 904.5l3.8 6.5h-7.5zM565.2 734.5l3.8 6.5h-7.5zM663.8 658l3.8 6.5h-7.5zM209.9 957.6l3.8 6.5h-7.5zM663.7 688.3l3.8 6.5h-7.5zM444.1 825.3l3.8 6.5h-7.5zM580.1 737.9l3.8 6.5h-7.5zM446.7 817.5l3.8 6.5h-7.5zM432.9 828.8l3.8 6.5h-7.5zM245.9 945l3.8 6.5h-7.5zM338.2 886.8l3.8 6.5h-7.5zM226.7 951.1l3.8 6.5h-7.5zM468.4 797.3l3.8 6.5h-7.5zM523 758.1l3.8 6.5h-7.5zM401.8 846.4l3.8 6.5h-7.5zM624.3 694.1l3.8 6.5h-7.5zM646.8 688.6l3.8 6.5h-7.5zM325.2 901.6l3.8 6.5h-7.5zM366.4 864.9l3.8 6.5h-7.5zM304.1 912.4l3.8 6.5h-7.5zM312.1 911.1l3.8 6.5h-7.5zM531.3 746.2l3.8 6.5h-7.5zM568.8 725.4l3.8 6.5h-7.5zM652.8 691.7l3.8 6.5h-7.5zM457.9 804.4l3.8 6.5h-7.5zM403.1 848.5l3.8 6.5h-7.5zM644.1 699.8l3.8 6.5h-7.5zM232.5 948.7l3.8 6.5h-7.5zM460.3 815.5l3.8 6.5h-7.5zM351.7 888.5l3.8 6.5h-7.5zM554.4 758.8l3.8 6.5h-7.5zM365.2 862.4l3.8 6.5h-7.5zM270.2 926.9l3.8 6.5h-7.5zM646 685.2l3.8 6.5h-7.5zM649.3 706l3.8 6.5h-7.5zM637.1 694.7l3.8 6.5h-7.5zM285.8 914.1l3.8 6.5h-7.5zM363 870.1l3.8 6.5h-7.5zM390.4 856.3l3.8 6.5h-7.5zM403.7 841.6l3.8 6.5h-7.5zM461 809.3l3.8 6.5h-7.5zM592.2 725.3l3.8 6.5h-7.5zM664.1 687.8l3.8 6.5h-7.5zM564.5 752.8l3.8 6.5h-7.5zM568.7 743.1l3.8 6.5h-7.5zM434.2 821.7l3.8 6.5h-7.5zM351.4 879.8l3.8 6.5h-7.5zM653.9 676.5l3.8 6.5h-7.5zM397.8 855.9l3.8 6.5h-7.5zM650.9 691.9l3.8 6.5h-7.5zM559.9 748.4l3.8 6.5h-7.5zM366.8 850.9l3.8 6.5h-7.5zM306.9 919.4l3.8 6.5h-7.5zM549 767.4l3.8 6.5h-7.5zM526.7 779.1l3.8 6.5h-7.5zM485 794.5l3.8 6.5h-7.5zM468.7 809.4l3.8 6.5h-7.5zM340.7 902.6l3.8 6.5h-7.5zM630.8 693.8l3.8 6.5h-7.5zM453.3 819.6l3.8 6.5h-7.5zM631.5 707.1l3.8 6.5h-7.5zM585.7 731.3l3.8 6.5h-7.5zM561 749.1l3.8 6.5h-7.5zM287.8 911.4l3.8 6.5h-7.5zM275.7 928.1l3.8 6.5h-7.5zM384.8 847.2l3.8 6.5h-7.5zM645.9 711.6l3.8 6.5h-7.5zM270.7 932l3.8 6.5h-7.5zM236.5 944.9l3.8 6.5h-7.5zM304.2 894.3l3.8 6.5h-7.5zM329.9 891.6l3.8 6.5h-7.5zM491.9 793.9l3.8 6.5h-7.5zM267 924.8l3.8 6.5h-7.5zM566.6 759.3l3.8 6.5h-7.5zM487.9 794.4l3.8 6.5h-7.5zM495.4 783.1l3.8 6.5h-7.5zM593.9 710.5l3.8 6.5h-7.5z" fill="#e6e6e6" stroke="#c2c2c2" stroke-width="0.9"/>
<path d="M453.3 752l9 9M453.3 761l9 -9M412.4 792.8l9 9M412.4 801.8l9 -9M570 676l9 9M570 685l9 -9M297 885.3l9 9M297 894.3l9 -9M343.4 842.9l9 9M343.4 851.9l9 -9M276.8 900.3l9 9M276.8 909.3l9 -9M542.5 701.6l9 9M542.5 710.6l9 -9M641.9 648l9 9M641.9 657l9 -9M513.3 717.3l9 9M513.3 726.3l9 -9M276.1 901.3l9 9M276.1 910.3l9 -9M508.8 703.8l9 9M508.8 712.8l9 -9M602.6 637.4l9 9M602.6 646.4l9 -9M350 839.3l9 9M350 848.3l9 -9M448.2 759.2l9 9M448.2 768.2l9 -9M477.3 738.9l9 9M477.3 747.9l9 -9M455 746l9 9M455 755l9 -9M656.5 618l9 9M656.5 627l9 -9M571.3 648.3l9 9M571.3 657.3l9 -9M535.1 682.6l9 9M535.1 691.6l9 -9M311.8 866.1l9 9M311.8 875.1l9 -9M410.4 795.9l9 9M410.4 804.9l9 -9M452.2 752.6l9 9M452.2 761.6l9 -9M501.8 711.2l9 9M501.8 720.2l9 -9M503.5 723.1l9 9M503.5 732.1l9 -9M486.1 732l9 9M486.1 741l9 -9M567.2 687.6l9 9M567.2 696.6l9 -9M482.9 738.7l9 9M482.9 747.7l9 -9M468.3 748.2l9 9M468.3 757.2l9 -9M324.3 859l9 9M324.3 868l9 -9M636.7 640.5l9 9M636.7 649.5l9 -9M531.8 690.3l9 9M531.8 699.3l9 -9M315.7 857.7l9 9M315.7 866.7l9 -9M406 801.6l9 9M406 810.6l9 -9M537.4 689.2l9 9M537.4 698.2l9 -9M537.3 695.6l9 9M537.3 704.6l9 -9M249.4 927.5l9 9M249.4 936.5l9 -9M635.5 646l9 9M635.5 655l9 -9M419.2 759l9 9M419.2 768l9 -9M628.5 621.3l9 9M628.5 630.3l9 -9M614.6 661.7l9 9M614.6 670.7l9 -9M365.3 829.8l9 9M365.3 838.8l9 -9M536.2 691.2l9 9M536.2 700.2l9 -9M380.2 807.6l9 9M380.2 816.6l9 -9M565.4 674.9l9 9M565.4 683.9l9 -9M606.3 626.5l9 9M606.3 635.5l9 -9M470.3 748.4l9 9M470.3 757.4l9 -9M406.3 803.5l9 9M406.3 812.5l9 -9M248.1 919.5l9 9M248.1 928.5l9 -9M645.7 616l9 9M645.7 625l9 -9M263.6 918.3l9 9M263.6 927.3l9 -9M558.1 685.9l9 9M558.1 694.9l9 -9M616.5 638.7l9 9M616.5 647.7l9 -9M440.1 779.8l9 9M440.1 788.8l9 -9M365.4 813.8l9 9M365.4 822.8l9 -9M443.4 761.9l9 9M443.4 770.9l9 -9M561.3 680.3l9 9M561.3 689.3l9 -9M632.2 629.1l9 9M632.2 638.1l9 -9M423.2 787.3l9 9M423.2 796.3l9 -9M488.4 713.4l9 9M488.4 722.4l9 -9M492.3 728.5l9 9M492.3 737.5l9 -9M363 822.3l9 9M363 831.3l9 -9M314 876.5l9 9M314 885.5l9 -9M568.3 688.1l9 9M568.3 697.1l9 -9M426.9 771l9 9M426.9 780l9 -9M280.2 891.9l9 9M280.2 900.9l9 -9M439.3 767.3l9 9M439.3 776.3l9 -9M363.6 821.3l9 9M363.6 830.3l9 -9M398.1 795.7l9 9M398.1 804.7l9 -9M374.3 822.4l9 9M374.3 831.4l9 -9M546.2 683.3l9 9M546.2 692.3l9 -9M437.5 785.1l9 9M437.5 794.1l9 -9M432.4 773.6l9 9M432.4 782.6l9 -9M576.6 662.3l9 9M576.6 671.3l9 -9M473.4 730.9l9 9M473.4 739.9l9 -9M547.5 681.7l9 9M547.5 690.7l9 -9M586.8 677.2l9 9M586.8 686.2l9 -9M277.8 903l9 9M277.8 912l9 -9M598.7 674.2l9 9M598.7 683.2l9 -9M578.8 684.9l9 9M578.8 693.9l9 -9M627.2 644.4l9 9M627.2 653.4l9 -9M498.3 716l9 9M498.3 725l9 -9M552.2 683.2l9 9M552.2 692.2l9 -9M377.7 817l9 9M377.7 826l9 -9M416.5 771.7l9 9M416.5 780.7l9 -9M301.4 881.6l9 9M301.4 890.6l9 -9M253 916.7l9 9M253 925.7l9 -9M384.4 810.4l9 9M384.4 819.4l9 -9M399.1 795.3l9 9M399.1 804.3l9 -9M393.8 808.3l9 9M393.8 817.3l9 -9M240.5 943.4l9 9M240.5 952.4l9 -9M244.2 924l9 9M244.2 933l9 -9M653.1 620.6l9 9M653.1 629.6l9 -9M578.9 694.5l9 9M578.9 703.5l9 -9M422.2 773.3l9 9M422.2 782.3l9 -9M359.4 829.3l9 9M359.4 838.3l9 -9M390.9 805.1l9 9M390.9 814.1l9 -9M415 789.5l9 9M415 798.5l9 -9M241.6 924.7l9 9M241.6 933.7l9 -9M540 696.8l9 9M540 705.8l9 -9M435.4 776.1l9 9M435.4 785.1l9 -9M336 867.5l9 9M336 876.5l9 -9M620.7 639.6l9 9M620.7 648.6l9 -9M600.2 645.9l9 9M600.2 654.9l9 -9M518.7 710l9 9M518.7 719l9 -9M592.1 623.9l9 9M592.1 632.9l9 -9M509.2 719.3l9 9M509.2 728.3l9 -9M377.7 828.4l9 9M377.7 837.4l9 -9M654.2 619.8l9 9M654.2 628.8l9 -9M514.5 711.2l9 9M514.5 720.2l9 -9M290.7 887.4l9 9M290.7 896.4l9 -9M336.9 850.3l9 9M336.9 859.3l9 -9M450.8 747.4l9 9M450.8 756.4l9 -9M590.5 681l9 9M590.5 690l9 -9M621.4 633.9l9 9M621.4 642.9l9 -9M556.1 703.5l9 9M556.1 712.5l9 -9M624.7 638.7l9 9M624.7 647.7l9 -9M554.5 678.5l9 9M554.5 687.5l9 -9M638.9 653l9 9M638.9 662l9 -9M653.2 623.7l9 9M653.2 632.7l9 -9M489.6 740.1l9 9M489.6 749.1l9 -9M412.1 784.6l9 9M412.1 793.6l9 -9M486.5 714.2l9 9M486.5 723.2l9 -9M484.7 735.7l9 9M484.7 744.7l9 -9M384.3 822.6l9 9M384.3 831.6l9 -9M619.9 635l9 9M619.9 644l9 -9M627 642.3l9 9M627 651.3l9 -9M368 829.8l9 9M368 838.8l9 -9M450.3 761.8l9 9M450.3 770.8l9 -9M497.2 725.5l9 9M497.2 734.5l9 -9M295.7 889.3l9 9M295.7 898.3l9 -9M242.3 932l9 9M242.3 941l9 -9M529.3 694.6l9 9M529.3 703.6l9 -9M414.6 796.4l9 9M414.6 805.4l9 -9M590.4 671.5l9 9M590.4 680.5l9 -9M577.9 673.7l9 9M577.9 682.7l9 -9M436.6 776.5l9 9M436.6 785.5l9 -9M511 685l9 9M511 694l9 -9M484.1 737.3l9 9M484.1 746.3l9 -9M589.2 662.1l9 9M589.2 671.1l9 -9M430.7 757.5l9 9M430.7 766.5l9 -9M609.1 677.4l9 9M609.1 686.4l9 -9M564.1 682.4l9 9M564.1 691.4l9 -9M489.1 726.3l9 9M489.1 735.3l9 -9M428.9 773l9 9M428.9 782l9 -9M529 704.5l9 9M529 713.5l9 -9M617.9 642.7l9 9M617.9 651.7l9 -9M320.8 852.8l9 9M320.8 861.8l9 -9M635 626.9l9 9M635 635.9l9 -9M588.1 668.3l9 9M588.1 677.3l9 -9M387.5 813.9l9 9M387.5 822.9l9 -9M248.5 929.6l9 9M248.5 938.6l9 -9M512.8 701.4l9 9M512.8 710.4l9 -9M292.3 884l9 9M292.3 893l9 -9M642.4 633.4l9 9M642.4 642.4l9 -9M481.6 730.2l9 9M481.6 739.2l9 -9M454.6 758.5l9 9M454.6 767.5l9 -9M241.8 928l9 9M241.8 937l9 -9M502.5 727.5l9 9M502.5 736.5l9 -9M564.9 678.3l9 9M564.9 687.3l9 -9M522.3 713.2l9 9M522.3 722.2l9 -9M646.9 626.1l9 9M646.9 635.1l9 -9M583 655.4l9 9M583 664.4l9 -9M565.9 661.3l9 9M565.9 670.3l9 -9M479.5 738.6l9 9M479.5 747.6l9 -9M496.2 719.3l9 9M496.2 728.3l9 -9M519.5 691.5l9 9M519.5 700.5l9 -9M651 615.5l9 9M651 624.5l9 -9M617.2 654.9l9 9M617.2 663.9l9 -9M334.4 860.4l9 9M334.4 869.4l9 -9M337.2 854.9l9 9M337.2 863.9l9 -9M579.5 686.2l9 9M579.5 695.2l9 -9M418.1 782l9 9M418.1 791l9 -9M446.8 761.1l9 9M446.8 770.1l9 -9M360.3 823.9l9 9M360.3 832.9l9 -9M280.4 894l9 9M280.4 903l9 -9M377.5 829.7l9 9M377.5 838.7l9 -9M583.9 671.3l9 9M583.9 680.3l9 -9M536.9 704l9 9M536.9 713l9 -9M483.3 762.5l9 9M483.3 771.5l9 -9M575.8 696l9 9M575.8 705l9 -9M558.1 671.5l9 9M558.1 680.5l9 -9M374.7 827l9 9M374.7 836l9 -9M276.6 897.5l9 9M276.6 906.5l9 -9M260.2 920.5l9 9M260.2 929.5l9 -9M260.8 906.1l9 9M260.8 915.1l9 -9M522.9 695.5l9 9M522.9 704.5l9 -9M364.3 821l9 9M364.3 830l9 -9M561.7 705.6l9 9M561.7 714.6l9 -9M280.3 888.5l9 9M280.3 897.5l9 -9M540.6 707.4l9 9M540.6 716.4l9 -9M452 768.8l9 9M452 777.8l9 -9M429 777.7l9 9M429 786.7l9 -9M613.2 658.3l9 9M613.2 667.3l9 -9M588.2 697.5l9 9M588.2 706.5l9 -9M533 702l9 9M533 711l9 -9M655.8 616.8l9 9M655.8 625.8l9 -9M597 675.6l9 9M597 684.6l9 -9M230.6 943.5l9 9M230.6 952.5l9 -9M504.2 707.6l9 9M504.2 716.6l9 -9M508.9 718.9l9 9M508.9 727.9l9 -9M505.9 722.2l9 9M505.9 731.2l9 -9M598.1 640.8l9 9M598.1 649.8l9 -9M400.2 791.6l9 9M400.2 800.6l9 -9M555.3 675.9l9 9M555.3 684.9l9 -9M332.9 856.9l9 9M332.9 865.9l9 -9M572.6 676.9l9 9M572.6 685.9l9 -9M555.8 655.8l9 9M555.8 664.8l9 -9" fill="none" stroke="#505050" stroke-width="1.3"/>
<path d="M272.2 928.1h5.2v5.2h-5.2zM513.7 782.4h5.2v5.2h-5.2zM482.6 789.2h5.2v5.2h-5.2zM275.4 920.8h5.2v5.2h-5.2zM521.8 776.3h5.2v5.2h-5.2zM345.2 887.6h5.2v5.2h-5.2zM561.6 759.8h5.2v5.2h-5.2zM608.7 721.9h5.2v5.2h-5.2zM425.3 836h5.2v5.2h-5.2zM228.5 954.4h5.2v5.2h-5.2zM547.3 782.3h5.2v5.2h-5.2zM604 740.4h5.2v5.2h-5.2zM346.6 891.9h5.2v5.2h-5.2zM556.2 770.2h5.2v5.2h-5.2zM531.4 791.3h5.2v5.2h-5.2zM380.5 853.8h5.2v5.2h-5.2zM284.9 916.7h5.2v5.2h-5.2zM366.4 872.2h5.2v5.2h-5.2zM333 893.2h5.2v5.2h-5.2zM539.2 781.6h5.2v5.2h-5.2zM475.9 788.1h5.2v5.2h-5.2zM553.5 759.5h5.2v5.2h-5.2zM639.8 706.3h5.2v5.2h-5.2zM592.2 725.6h5.2v5.2h-5.2zM559.6 752.5h5.2v5.2h-5.2zM453.7 826.2h5.2v5.2h-5.2zM523.9 781h5.2v5.2h-5.2zM369.5 868.1h5.2v5.2h-5.2zM426.1 836.2h5.2v5.2h-5.2zM257.6 933.1h5.2v5.2h-5.2zM323.8 901.8h5.2v5.2h-5.2zM466.5 809.5h5.2v5.2h-5.2zM284.8 923.8h5.2v5.2h-5.2zM625.7 705.7h5.2v5.2h-5.2zM411.9 843h5.2v5.2h-5.2zM499 780h5.2v5.2h-5.2zM370.6 866.9h5.2v5.2h-5.2zM507 794.6h5.2v5.2h-5.2zM646.8 686.5h5.2v5.2h-5.2zM467.2 806.9h5.2v5.2h-5.2zM351.2 880.7h5.2v5.2h-5.2zM660.7 685.4h5.2v5.2h-5.2zM655.7 703h5.2v5.2h-5.2zM483.9 788.5h5.2v5.2h-5.2zM261.4 935.1h5.2v5.2h-5.2zM223.3 956.5h5.2v5.2h-5.2zM287.7 925.7h5.2v5.2h-5.2zM494.3 793.3h5.2v5.2h-5.2zM427.7 827.6h5.2v5.2h-5.2zM506.1 771h5.2v5.2h-5.2zM480.3 808.4h5.2v5.2h-5.2zM497.1 800.2h5.2v5.2h-5.2zM421.8 839.5h5.2v5.2h-5.2zM205.6 962.6h5.2v5.2h-5.2zM423.2 841.6h5.2v5.2h-5.2zM608.5 719.3h5.2v5.2h-5.2zM503.1 774h5.2v5.2h-5.2zM313.6 895.2h5.2v5.2h-5.2zM355.2 872.8h5.2v5.2h-5.2zM382.5 854.9h5.2v5.2h-5.2zM319.4 890.6h5.2v5.2h-5.2zM230.6 946.6h5.2v5.2h-5.2zM627 699.2h5.2v5.2h-5.2zM592 741.7h5.2v5.2h-5.2zM313.6 902.5h5.2v5.2h-5.2zM532.5 779.8h5.2v5.2h-5.2zM249.7 932.7h5.2v5.2h-5.2zM277.1 918.4h5.2v5.2h-5.2zM443.5 811.5h5.2v5.2h-5.2zM564.6 754.4h5.2v5.2h-5.2zM217.6 965.2h5.2v5.2h-5.2zM622 717.7h5.2v5.2h-5.2zM302.4 907.4h5.2v5.2h-5.2zM292 916.6h5.2v5.2h-5.2zM619.6 716.2h5.2v5.2h-5.2zM299 916.6h5.2v5.2h-5.2zM322.1 897.7h5.2v5.2h-5.2zM647 688h5.2v5.2h-5.2zM270.5 918.5h5.2v5.2h-5.2zM301.3 912.1h5.2v5.2h-5.2zM338.5 893.6h5.2v5.2h-5.2zM422.4 838.1h5.2v5.2h-5.2zM417.2 833.5h5.2v5.2h-5.2zM320.6 896.2h5.2v5.2h-5.2zM443.1 821.9h5.2v5.2h-5.2zM312.6 906.6h5.2v5.2h-5.2zM440.9 825.3h5.2v5.2h-5.2zM495.9 804.3h5.2v5.2h-5.2zM599.9 726.6h5.2v5.2h-5.2zM229 946.7h5.2v5.2h-5.2zM353.7 890h5.2v5.2h-5.2zM476.3 795.6h5.2v5.2h-5.2zM624.2 704.1h5.2v5.2h-5.2zM234 953.7h5.2v5.2h-5.2zM510.9 786.9h5.2v5.2h-5.2zM422.5 850.4h5.2v5.2h-5.2zM428.3 814.3h5.2v5.2h-5.2zM218.8 958.6h5.2v5.2h-5.2zM388 857.8h5.2v5.2h-5.2zM336.6 889.6h5.2v5.2h-5.2zM422.9 840.4h5.2v5.2h-5.2zM332.4 875.6h5.2v5.2h-5.2zM610.3 711.7h5.2v5.2h-5.2zM568 754.1h5.2v5.2h-5.2zM623.9 752.8h5.2v5.2h-5.2zM343.2 880.5h5.2v5.2h-5.2zM472.2 828.1h5.2v5.2h-5.2zM497.5 798.2h5.2v5.2h-5.2zM237.5 948.2h5.2v5.2h-5.2zM267.8 924.2h5.2v5.2h-5.2zM411.6 848h5.2v5.2h-5.2zM443.2 817.5h5.2v5.2h-5.2zM243.1 936.9h5.2v5.2h-5.2zM405.1 856.7h5.2v5.2h-5.2zM219.9 951.5h5.2v5.2h-5.2zM257.5 931.7h5.2v5.2h-5.2zM551.4 767.3h5.2v5.2h-5.2zM522.8 768.3h5.2v5.2h-5.2zM601.9 712.7h5.2v5.2h-5.2zM559.3 757h5.2v5.2h-5.2zM546.9 765.3h5.2v5.2h-5.2zM485 813.6h5.2v5.2h-5.2zM249 933.9h5.2v5.2h-5.2zM540.1 774.4h5.2v5.2h-5.2zM265.6 932.5h5.2v5.2h-5.2zM533.4 765.8h5.2v5.2h-5.2zM650.8 694.2h5.2v5.2h-5.2zM600.6 728.8h5.2v5.2h-5.2zM625.4 700.3h5.2v5.2h-5.2zM363.4 864.2h5.2v5.2h-5.2zM458 821.4h5.2v5.2h-5.2zM449 812.2h5.2v5.2h-5.2zM502.4 779.3h5.2v5.2h-5.2zM659.3 700.2h5.2v5.2h-5.2zM238.6 941.8h5.2v5.2h-5.2zM386.8 855.7h5.2v5.2h-5.2zM441.6 814.1h5.2v5.2h-5.2zM479.4 791.4h5.2v5.2h-5.2zM302.4 902.5h5.2v5.2h-5.2zM446 811.5h5.2v5.2h-5.2zM629.4 725h5.2v5.2h-5.2zM318.1 894.7h5.2v5.2h-5.2zM234.2 937.8h5.2v5.2h-5.2zM448.1 812.2h5.2v5.2h-5.2zM494.3 800.3h5.2v5.2h-5.2zM639.6 689h5.2v5.2h-5.2zM579.6 740.6h5.2v5.2h-5.2zM445.9 814.8h5.2v5.2h-5.2zM550.6 739.6h5.2v5.2h-5.2zM311.6 900.9h5.2v5.2h-5.2zM630.3 696.5h5.2v5.2h-5.2zM658.6 692.5h5.2v5.2h-5.2zM353.2 882.9h5.2v5.2h-5.2zM585.8 736.3h5.2v5.2h-5.2zM292.8 927.8h5.2v5.2h-5.2zM245.9 935.6h5.2v5.2h-5.2zM516.7 793.8h5.2v5.2h-5.2zM661.8 693.3h5.2v5.2h-5.2zM478.8 815.3h5.2v5.2h-5.2zM544 769.2h5.2v5.2h-5.2zM351.3 865.8h5.2v5.2h-5.2zM637.1 700.7h5.2v5.2h-5.2zM248.4 942.3h5.2v5.2h-5.2zM316.4 900.9h5.2v5.2h-5.2zM571.9 730.5h5.2v5.2h-5.2zM633.8 699.8h5.2v5.2h-5.2zM608.2 726.8h5.2v5.2h-5.2zM551.4 772.4h5.2v5.2h-5.2zM301.2 906.9h5.2v5.2h-5.2zM367.7 870.2h5.2v5.2h-5.2zM477.6 794.6h5.2v5.2h-5.2zM499 778.5h5.2v5.2h-5.2zM460.6 808.8h5.2v5.2h-5.2zM552.6 772.9h5.2v5.2h-5.2zM307.3 910h5.2v5.2h-5.2zM351.1 877.9h5.2v5.2h-5.2zM212.9 957.2h5.2v5.2h-5.2zM215.2 957.8h5.2v5.2h-5.2zM543.6 761.9h5.2v5.2h-5.2zM429.6 828.5h5.2v5.2h-5.2zM285.8 916.9h5.2v5.2h-5.2zM234.3 948.1h5.2v5.2h-5.2zM457.8 811.4h5.2v5.2h-5.2zM656 701h5.2v5.2h-5.2zM621.7 691.4h5.2v5.2h-5.2zM552.1 749.2h5.2v5.2h-5.2zM582.8 733.4h5.2v5.2h-5.2zM355.9 880.2h5.2v5.2h-5.2zM246.1 935.9h5.2v5.2h-5.2zM403.2 843.9h5.2v5.2h-5.2zM657.2 694.4h5.2v5.2h-5.2zM372.1 866h5.2v5.2h-5.2zM629.9 700.2h5.2v5.2h-5.2zM519.9 773.8h5.2v5.2h-5.2zM575.1 732.4h5.2v5.2h-5.2zM327 898.6h5.2v5.2h-5.2zM371.7 869.7h5.2v5.2h-5.2zM280.3 925h5.2v5.2h-5.2zM439.3 843.6h5.2v5.2h-5.2zM248.8 942.8h5.2v5.2h-5.2zM617.8 722.5h5.2v5.2h-5.2zM323.3 895.9h5.2v5.2h-5.2zM322.2 909.7h5.2v5.2h-5.2zM222.5 953h5.2v5.2h-5.2zM599 726.3h5.2v5.2h-5.2zM302.6 915.9h5.2v5.2h-5.2zM309.2 907.5h5.2v5.2h-5.2zM560.3 750.6h5.2v5.2h-5.2zM440.9 829.1h5.2v5.2h-5.2zM333.2 902.2h5.2v5.2h-5.2zM596.3 732.9h5.2v5.2h-5.2zM212.7 959h5.2v5.2h-5.2zM592.8 723.4h5.2v5.2h-5.2zM539.5 762h5.2v5.2h-5.2zM548.6 771.6h5.2v5.2h-5.2zM307.4 906.4h5.2v5.2h-5.2zM444.2 825.2h5.2v5.2h-5.2zM494 805.2h5.2v5.2h-5.2zM231.1 946.9h5.2v5.2h-5.2zM636.7 724.9h5.2v5.2h-5.2zM489.4 791.4h5.2v5.2h-5.2zM245 937.8h5.2v5.2h-5.2zM444.3 817.9h5.2v5.2h-5.2zM639.9 686.1h5.2v5.2h-5.2zM630.1 717.2h5.2v5.2h-5.2zM488.7 798.1h5.2v5.2h-5.2zM302.5 916.9h5.2v5.2h-5.2zM506.8 779.7h5.2v5.2h-5.2zM393.8 859.9h5.2v5.2h-5.2zM464.1 823.9h5.2v5.2h-5.2zM579.8 739.7h5.2v5.2h-5.2zM548.2 760.1h5.2v5.2h-5.2zM429.2 814.2h5.2v5.2h-5.2zM639.4 727.5h5.2v5.2h-5.2zM561.4 752.2h5.2v5.2h-5.2zM331.1 896.4h5.2v5.2h-5.2zM620.4 710.3h5.2v5.2h-5.2zM223.4 953.3h5.2v5.2h-5.2zM231.5 943.7h5.2v5.2h-5.2zM545.1 772.1h5.2v5.2h-5.2zM419.1 840h5.2v5.2h-5.2zM541.3 762h5.2v5.2h-5.2zM219.2 955.8h5.2v5.2h-5.2zM223.8 945.9h5.2v5.2h-5.2zM441.8 826.8h5.2v5.2h-5.2zM318.7 897.5h5.2v5.2h-5.2zM469.9 821.4h5.2v5.2h-5.2zM436.1 834.9h5.2v5.2h-5.2zM440 825h5.2v5.2h-5.2zM634.2 703.8h5.2v5.2h-5.2zM267.5 941.2h5.2v5.2h-5.2zM544.5 752.8h5.2v5.2h-5.2zM505.4 806.3h5.2v5.2h-5.2zM504.3 797.2h5.2v5.2h-5.2zM313.5 907.1h5.2v5.2h-5.2zM580.6 719.1h5.2v5.2h-5.2zM629.4 720.3h5.2v5.2h-5.2zM599.5 723.4h5.2v5.2h-5.2zM489.3 788.3h5.2v5.2h-5.2zM644.3 707.7h5.2v5.2h-5.2zM601.5 719.6h5.2v5.2h-5.2zM429.6 837h5.2v5.2h-5.2zM502 780h5.2v5.2h-5.2zM661.2 696.5h5.2v5.2h-5.2zM218.7 955.9h5.2v5.2h-5.2zM621.7 704.9h5.2v5.2h-5.2zM369.8 862.6h5.2v5.2h-5.2zM554.3 749.8h5.2v5.2h-5.2zM449 816.5h5.2v5.2h-5.2zM264 927.6h5.2v5.2h-5.2zM242.3 948.6h5.2v5.2h-5.2zM580.9 745.4h5.2v5.2h-5.2zM649.5 692.6h5.2v5.2h-5.2zM605.4 721.3h5.2v5.2h-5.2zM529.8 763.7h5.2v5.2h-5.2zM334 891.9h5.2v5.2h-5.2zM566.8 748.6h5.2v5.2h-5.2zM661.8 680.4h5.2v5.2h-5.2zM576.2 735.4h5.2v5.2h-5.2zM586.2 732.4h5.2v5.2h-5.2zM278.1 917.9h5.2v5.2h-5.2zM521.9 778.2h5.2v5.2h-5.2zM578.4 731.5h5.2v5.2h-5.2zM612.8 726.9h5.2v5.2h-5.2zM600.8 724.1h5.2v5.2h-5.2zM451.9 823.2h5.2v5.2h-5.2zM252.1 934.2h5.2v5.2h-5.2zM274.4 916.3h5.2v5.2h-5.2zM656.2 676.5h5.2v5.2h-5.2zM373.5 864.5h5.2v5.2h-5.2zM260.4 933.6h5.2v5.2h-5.2zM490.2 799.9h5.2v5.2h-5.2zM625.2 718.9h5.2v5.2h-5.2zM223 954.4h5.2v5.2h-5.2zM214.9 957.7h5.2v5.2h-5.2zM283.2 922.1h5.2v5.2h-5.2zM470.1 806.2h5.2v5.2h-5.2zM391.1 859.7h5.2v5.2h-5.2zM230.3 947.8h5.2v5.2h-5.2zM423.1 835.9h5.2v5.2h-5.2zM548.2 763.4h5.2v5.2h-5.2zM278.9 932.8h5.2v5.2h-5.2zM427.3 822.8h5.2v5.2h-5.2zM229.4 947.1h5.2v5.2h-5.2zM610.5 719.1h5.2v5.2h-5.2zM450.7 823.3h5.2v5.2h-5.2zM486.6 798.5h5.2v5.2h-5.2zM511.1 800.4h5.2v5.2h-5.2zM548.8 743.6h5.2v5.2h-5.2zM286.8 926.8h5.2v5.2h-5.2zM553.8 743.9h5.2v5.2h-5.2zM458.6 809.2h5.2v5.2h-5.2zM351.6 883.2h5.2v5.2h-5.2zM506.4 787.6h5.2v5.2h-5.2zM363.6 872.4h5.2v5.2h-5.2zM333.6 891.2h5.2v5.2h-5.2zM479.7 806.2h5.2v5.2h-5.2zM332.3 897h5.2v5.2h-5.2zM657.2 697h5.2v5.2h-5.2zM472.4 795.9h5.2v5.2h-5.2zM406.6 841.3h5.2v5.2h-5.2zM370.8 877.1h5.2v5.2h-5.2zM219.8 960.3h5.2v5.2h-5.2zM367.6 876.2h5.2v5.2h-5.2zM577.5 755.4h5.2v5.2h-5.2zM294.4 915.8h5.2v5.2h-5.2zM413.6 857.5h5.2v5.2h-5.2zM500.5 784.7h5.2v5.2h-5.2zM418 837.2h5.2v5.2h-5.2zM437.1 822h5.2v5.2h-5.2zM398.7 862.4h5.2v5.2h-5.2zM507.2 781h5.2v5.2h-5.2zM496.1 797.8h5.2v5.2h-5.2zM437.6 817.1h5.2v5.2h-5.2zM601.5 710.8h5.2v5.2h-5.2zM378.2 870.3h5.2v5.2h-5.2zM556.8 764h5.2v5.2h-5.2zM361.7 879.1h5.2v5.2h-5.2zM249.3 938.9h5.2v5.2h-5.2zM660.2 660.2h5.2v5.2h-5.2zM603.2 696.2h5.2v5.2h-5.2zM620.4 685.8h5.2v5.2h-5.2zM647.6 656.9h5.2v5.2h-5.2zM661.2 652h5.2v5.2h-5.2zM603.4 702.2h5.2v5.2h-5.2zM643.3 674.1h5.2v5.2h-5.2zM646.8 672.8h5.2v5.2h-5.2zM629 685.8h5.2v5.2h-5.2zM636.4 682.3h5.2v5.2h-5.2zM617.2 691.2h5.2v5.2h-5.2zM661.7 655.4h5.2v5.2h-5.2zM638.5 669.7h5.2v5.2h-5.2zM657.3 657.2h5.2v5.2h-5.2zM631.4 672.3h5.2v5.2h-5.2zM632.8 671.1h5.2v5.2h-5.2zM642.7 669.9h5.2v5.2h-5.2zM643.9 654.4h5.2v5.2h-5.2zM624.3 675.8h5.2v5.2h-5.2zM631.6 673.2h5.2v5.2h-5.2zM616.2 692.7h5.2v5.2h-5.2zM663.1 663.5h5.2v5.2h-5.2zM650.9 666.9h5.2v5.2h-5.2z" fill="#161616" stroke="#6a6a6a" stroke-width="0.6"/>
<path d="M207.5 963.92L666 664.75V671.91L211.91 968.2H207.5Z" fill="#ff0000"/>
<rect x="646.8" y="718.6" width="352.6" height="249.7" fill="#fff" stroke="#000" stroke-width="1.2"/>
<rect x="733.5" y="733.5" width="241" height="188" fill="none" stroke="#d0d0d0" stroke-width="1"/>
<g transform="translate(652.28 752.80) scale(1.0232 1.1045)"><text x="0" y="0" style="font-family:&quot;Liberation Serif&quot;,serif;font-size:26px;">6 · 10<tspan dy="-9.36" font-size="18.72">4</tspan></text></g>
<g transform="translate(652.68 841.30) scale(1.0174 1.0818)"><text x="0" y="0" style="font-family:&quot;Liberation Serif&quot;,serif;font-size:26px;">3 · 10<tspan dy="-9.36" font-size="18.72">4</tspan></text></g>
<g transform="translate(676.86 926.60) scale(1.1364 0.9471)"><text x="0" y="0" style="font-family:&quot;Liberation Serif&quot;,serif;font-size:26px;">0</text></g>
<g transform="translate(731.49 956.00) scale(1.2091 1.0000)"><text x="0" y="0" style="font-family:&quot;Liberation Serif&quot;,serif;font-size:26px;">0</text></g>
<g transform="translate(814.62 959.20) scale(1.0875 1.0364)"><text x="0" y="0" style="font-family:&quot;Liberation Serif&quot;,serif;font-size:26px;">10<tspan dy="-9.36" font-size="18.72">2</tspan></text></g>
<g transform="translate(912.27 957.70) scale(1.0279 1.0955)"><text x="0" y="0" style="font-family:&quot;Liberation Serif&quot;,serif;font-size:26px;">2 · 10<tspan dy="-9.36" font-size="18.72">2</tspan></text></g>
<path d="M751.5 901.9a2.6 2.6 0 1 0 5.2 0a2.6 2.6 0 1 0 -5.2 0zM783.2 873.3a2.6 2.6 0 1 0 5.2 0a2.6 2.6 0 1 0 -5.2 0zM888.5 774.3a2.6 2.6 0 1 0 5.2 0a2.6 2.6 0 1 0 -5.2 0zM849 818a2.6 2.6 0 1 0 5.2 0a2.6 2.6 0 1 0 -5.2 0zM753.4 899.2a2.6 2.6 0 1 0 5.2 0a2.6 2.6 0 1 0 -5.2 0zM821.3 833.2a2.6 2.6 0 1 0 5.2 0a2.6 2.6 0 1 0 -5.2 0zM829.9 831.2a2.6 2.6 0 1 0 5.2 0a2.6 2.6 0 1 0 -5.2 0zM767.4 887.2a2.6 2.6 0 1 0 5.2 0a2.6 2.6 0 1 0 -5.2 0zM876.6 791.6a2.6 2.6 0 1 0 5.2 0a2.6 2.6 0 1 0 -5.2 0zM757.7 893.9a2.6 2.6 0 1 0 5.2 0a2.6 2.6 0 1 0 -5.2 0zM813.3 849.2a2.6 2.6 0 1 0 5.2 0a2.6 2.6 0 1 0 -5.2 0zM836.9 829.3a2.6 2.6 0 1 0 5.2 0a2.6 2.6 0 1 0 -5.2 0zM820.8 836a2.6 2.6 0 1 0 5.2 0a2.6 2.6 0 1 0 -5.2 0zM849.9 811.6a2.6 2.6 0 1 0 5.2 0a2.6 2.6 0 1 0 -5.2 0zM877.2 790.1a2.6 2.6 0 1 0 5.2 0a2.6 2.6 0 1 0 -5.2 0zM915.8 752.6a2.6 2.6 0 1 0 5.2 0a2.6 2.6 0 1 0 -5.2 0zM792.6 870.4a2.6 2.6 0 1 0 5.2 0a2.6 2.6 0 1 0 -5.2 0zM861.1 805.8a2.6 2.6 0 1 0 5.2 0a2.6 2.6 0 1 0 -5.2 0zM869.7 791.8a2.6 2.6 0 1 0 5.2 0a2.6 2.6 0 1 0 -5.2 0zM794.3 861.5a2.6 2.6 0 1 0 5.2 0a2.6 2.6 0 1 0 -5.2 0zM731 919.8a2.6 2.6 0 1 0 5.2 0a2.6 2.6 0 1 0 -5.2 0zM918.8 769.5a2.6 2.6 0 1 0 5.2 0a2.6 2.6 0 1 0 -5.2 0zM795.4 862.3a2.6 2.6 0 1 0 5.2 0a2.6 2.6 0 1 0 -5.2 0zM798.4 860.6a2.6 2.6 0 1 0 5.2 0a2.6 2.6 0 1 0 -5.2 0zM904.5 769.7a2.6 2.6 0 1 0 5.2 0a2.6 2.6 0 1 0 -5.2 0zM849.6 814.8a2.6 2.6 0 1 0 5.2 0a2.6 2.6 0 1 0 -5.2 0zM828.5 842.8a2.6 2.6 0 1 0 5.2 0a2.6 2.6 0 1 0 -5.2 0zM883.5 781.9a2.6 2.6 0 1 0 5.2 0a2.6 2.6 0 1 0 -5.2 0zM738.7 913.9a2.6 2.6 0 1 0 5.2 0a2.6 2.6 0 1 0 -5.2 0zM871.7 796.3a2.6 2.6 0 1 0 5.2 0a2.6 2.6 0 1 0 -5.2 0zM810.1 852a2.6 2.6 0 1 0 5.2 0a2.6 2.6 0 1 0 -5.2 0zM752.7 898.6a2.6 2.6 0 1 0 5.2 0a2.6 2.6 0 1 0 -5.2 0zM863.3 811.9a2.6 2.6 0 1 0 5.2 0a2.6 2.6 0 1 0 -5.2 0zM911.5 759.5a2.6 2.6 0 1 0 5.2 0a2.6 2.6 0 1 0 -5.2 0zM777.2 879a2.6 2.6 0 1 0 5.2 0a2.6 2.6 0 1 0 -5.2 0zM857.8 803.1a2.6 2.6 0 1 0 5.2 0a2.6 2.6 0 1 0 -5.2 0zM795.3 860.7a2.6 2.6 0 1 0 5.2 0a2.6 2.6 0 1 0 -5.2 0zM877.9 793.1a2.6 2.6 0 1 0 5.2 0a2.6 2.6 0 1 0 -5.2 0zM874.4 798.4a2.6 2.6 0 1 0 5.2 0a2.6 2.6 0 1 0 -5.2 0zM779.5 878.8a2.6 2.6 0 1 0 5.2 0a2.6 2.6 0 1 0 -5.2 0zM893.6 783.4a2.6 2.6 0 1 0 5.2 0a2.6 2.6 0 1 0 -5.2 0zM862.8 807a2.6 2.6 0 1 0 5.2 0a2.6 2.6 0 1 0 -5.2 0zM867.3 799.4a2.6 2.6 0 1 0 5.2 0a2.6 2.6 0 1 0 -5.2 0zM891.8 782.6a2.6 2.6 0 1 0 5.2 0a2.6 2.6 0 1 0 -5.2 0zM820.4 843a2.6 2.6 0 1 0 5.2 0a2.6 2.6 0 1 0 -5.2 0zM880.9 786.7a2.6 2.6 0 1 0 5.2 0a2.6 2.6 0 1 0 -5.2 0zM902.2 773.1a2.6 2.6 0 1 0 5.2 0a2.6 2.6 0 1 0 -5.2 0zM755.2 900.7a2.6 2.6 0 1 0 5.2 0a2.6 2.6 0 1 0 -5.2 0zM897.1 774.4a2.6 2.6 0 1 0 5.2 0a2.6 2.6 0 1 0 -5.2 0zM813.9 845.3a2.6 2.6 0 1 0 5.2 0a2.6 2.6 0 1 0 -5.2 0zM830 835.2a2.6 2.6 0 1 0 5.2 0a2.6 2.6 0 1 0 -5.2 0zM764.6 894a2.6 2.6 0 1 0 5.2 0a2.6 2.6 0 1 0 -5.2 0zM870.1 795.7a2.6 2.6 0 1 0 5.2 0a2.6 2.6 0 1 0 -5.2 0zM794.1 863.7a2.6 2.6 0 1 0 5.2 0a2.6 2.6 0 1 0 -5.2 0zM900.9 768.8a2.6 2.6 0 1 0 5.2 0a2.6 2.6 0 1 0 -5.2 0zM790.9 870.4a2.6 2.6 0 1 0 5.2 0a2.6 2.6 0 1 0 -5.2 0zM845.3 810.4a2.6 2.6 0 1 0 5.2 0a2.6 2.6 0 1 0 -5.2 0zM814.9 846.9a2.6 2.6 0 1 0 5.2 0a2.6 2.6 0 1 0 -5.2 0zM854.6 816.3a2.6 2.6 0 1 0 5.2 0a2.6 2.6 0 1 0 -5.2 0zM775.1 878.9a2.6 2.6 0 1 0 5.2 0a2.6 2.6 0 1 0 -5.2 0zM771.7 887.2a2.6 2.6 0 1 0 5.2 0a2.6 2.6 0 1 0 -5.2 0zM878.8 792.1a2.6 2.6 0 1 0 5.2 0a2.6 2.6 0 1 0 -5.2 0zM879.8 785.2a2.6 2.6 0 1 0 5.2 0a2.6 2.6 0 1 0 -5.2 0zM846.2 818.9a2.6 2.6 0 1 0 5.2 0a2.6 2.6 0 1 0 -5.2 0zM909.6 751.8a2.6 2.6 0 1 0 5.2 0a2.6 2.6 0 1 0 -5.2 0zM776.9 877.8a2.6 2.6 0 1 0 5.2 0a2.6 2.6 0 1 0 -5.2 0zM897.3 784.1a2.6 2.6 0 1 0 5.2 0a2.6 2.6 0 1 0 -5.2 0zM769.4 883.9a2.6 2.6 0 1 0 5.2 0a2.6 2.6 0 1 0 -5.2 0zM917.2 767.7a2.6 2.6 0 1 0 5.2 0a2.6 2.6 0 1 0 -5.2 0zM856.6 808.4a2.6 2.6 0 1 0 5.2 0a2.6 2.6 0 1 0 -5.2 0zM853.5 816.3a2.6 2.6 0 1 0 5.2 0a2.6 2.6 0 1 0 -5.2 0zM918.3 754.5a2.6 2.6 0 1 0 5.2 0a2.6 2.6 0 1 0 -5.2 0zM886 769.7a2.6 2.6 0 1 0 5.2 0a2.6 2.6 0 1 0 -5.2 0zM886.5 779a2.6 2.6 0 1 0 5.2 0a2.6 2.6 0 1 0 -5.2 0zM744.4 908.2a2.6 2.6 0 1 0 5.2 0a2.6 2.6 0 1 0 -5.2 0zM809.1 846.7a2.6 2.6 0 1 0 5.2 0a2.6 2.6 0 1 0 -5.2 0zM751.4 899.5a2.6 2.6 0 1 0 5.2 0a2.6 2.6 0 1 0 -5.2 0zM774.4 882.3a2.6 2.6 0 1 0 5.2 0a2.6 2.6 0 1 0 -5.2 0zM778.6 876.1a2.6 2.6 0 1 0 5.2 0a2.6 2.6 0 1 0 -5.2 0zM898.7 761a2.6 2.6 0 1 0 5.2 0a2.6 2.6 0 1 0 -5.2 0zM760.5 892.4a2.6 2.6 0 1 0 5.2 0a2.6 2.6 0 1 0 -5.2 0zM795.1 865.7a2.6 2.6 0 1 0 5.2 0a2.6 2.6 0 1 0 -5.2 0zM832.5 828.1a2.6 2.6 0 1 0 5.2 0a2.6 2.6 0 1 0 -5.2 0zM897 778.8a2.6 2.6 0 1 0 5.2 0a2.6 2.6 0 1 0 -5.2 0zM917.4 765.5a2.6 2.6 0 1 0 5.2 0a2.6 2.6 0 1 0 -5.2 0zM871.9 795.4a2.6 2.6 0 1 0 5.2 0a2.6 2.6 0 1 0 -5.2 0zM778.5 874.9a2.6 2.6 0 1 0 5.2 0a2.6 2.6 0 1 0 -5.2 0zM842.2 815.7a2.6 2.6 0 1 0 5.2 0a2.6 2.6 0 1 0 -5.2 0zM871.5 795.5a2.6 2.6 0 1 0 5.2 0a2.6 2.6 0 1 0 -5.2 0zM743.9 909.7a2.6 2.6 0 1 0 5.2 0a2.6 2.6 0 1 0 -5.2 0zM866.8 801.2a2.6 2.6 0 1 0 5.2 0a2.6 2.6 0 1 0 -5.2 0zM808.9 852.8a2.6 2.6 0 1 0 5.2 0a2.6 2.6 0 1 0 -5.2 0zM850.4 812.1a2.6 2.6 0 1 0 5.2 0a2.6 2.6 0 1 0 -5.2 0zM864.9 803a2.6 2.6 0 1 0 5.2 0a2.6 2.6 0 1 0 -5.2 0zM864.8 799a2.6 2.6 0 1 0 5.2 0a2.6 2.6 0 1 0 -5.2 0zM838.1 823.7a2.6 2.6 0 1 0 5.2 0a2.6 2.6 0 1 0 -5.2 0zM844 814.1a2.6 2.6 0 1 0 5.2 0a2.6 2.6 0 1 0 -5.2 0zM775.4 876.8a2.6 2.6 0 1 0 5.2 0a2.6 2.6 0 1 0 -5.2 0zM832.9 827.7a2.6 2.6 0 1 0 5.2 0a2.6 2.6 0 1 0 -5.2 0zM760.2 891.8a2.6 2.6 0 1 0 5.2 0a2.6 2.6 0 1 0 -5.2 0zM830.2 828.1a2.6 2.6 0 1 0 5.2 0a2.6 2.6 0 1 0 -5.2 0zM840.5 825.9a2.6 2.6 0 1 0 5.2 0a2.6 2.6 0 1 0 -5.2 0zM883.7 784.2a2.6 2.6 0 1 0 5.2 0a2.6 2.6 0 1 0 -5.2 0zM813.8 857a2.6 2.6 0 1 0 5.2 0a2.6 2.6 0 1 0 -5.2 0zM736 916.4a2.6 2.6 0 1 0 5.2 0a2.6 2.6 0 1 0 -5.2 0zM839 821.6a2.6 2.6 0 1 0 5.2 0a2.6 2.6 0 1 0 -5.2 0zM776.8 881.2a2.6 2.6 0 1 0 5.2 0a2.6 2.6 0 1 0 -5.2 0zM877.8 792a2.6 2.6 0 1 0 5.2 0a2.6 2.6 0 1 0 -5.2 0zM812.9 845a2.6 2.6 0 1 0 5.2 0a2.6 2.6 0 1 0 -5.2 0zM811.3 852.7a2.6 2.6 0 1 0 5.2 0a2.6 2.6 0 1 0 -5.2 0zM907.6 758.6a2.6 2.6 0 1 0 5.2 0a2.6 2.6 0 1 0 -5.2 0zM813.7 835.7a2.6 2.6 0 1 0 5.2 0a2.6 2.6 0 1 0 -5.2 0zM805.2 856.8a2.6 2.6 0 1 0 5.2 0a2.6 2.6 0 1 0 -5.2 0zM805 852.3a2.6 2.6 0 1 0 5.2 0a2.6 2.6 0 1 0 -5.2 0zM830.2 838.1a2.6 2.6 0 1 0 5.2 0a2.6 2.6 0 1 0 -5.2 0zM753.2 899a2.6 2.6 0 1 0 5.2 0a2.6 2.6 0 1 0 -5.2 0zM842.5 815.9a2.6 2.6 0 1 0 5.2 0a2.6 2.6 0 1 0 -5.2 0zM909.7 772a2.6 2.6 0 1 0 5.2 0a2.6 2.6 0 1 0 -5.2 0zM845.5 813.7a2.6 2.6 0 1 0 5.2 0a2.6 2.6 0 1 0 -5.2 0zM878.3 790.7a2.6 2.6 0 1 0 5.2 0a2.6 2.6 0 1 0 -5.2 0zM914.2 767.6a2.6 2.6 0 1 0 5.2 0a2.6 2.6 0 1 0 -5.2 0zM895.7 774.8a2.6 2.6 0 1 0 5.2 0a2.6 2.6 0 1 0 -5.2 0zM878.3 789.1a2.6 2.6 0 1 0 5.2 0a2.6 2.6 0 1 0 -5.2 0zM890.6 779.3a2.6 2.6 0 1 0 5.2 0a2.6 2.6 0 1 0 -5.2 0zM891.9 782.6a2.6 2.6 0 1 0 5.2 0a2.6 2.6 0 1 0 -5.2 0zM786.6 868.4a2.6 2.6 0 1 0 5.2 0a2.6 2.6 0 1 0 -5.2 0zM830.5 834.4a2.6 2.6 0 1 0 5.2 0a2.6 2.6 0 1 0 -5.2 0zM804 857.1a2.6 2.6 0 1 0 5.2 0a2.6 2.6 0 1 0 -5.2 0zM788.2 875.8a2.6 2.6 0 1 0 5.2 0a2.6 2.6 0 1 0 -5.2 0zM847.1 815.6a2.6 2.6 0 1 0 5.2 0a2.6 2.6 0 1 0 -5.2 0zM799.2 856.6a2.6 2.6 0 1 0 5.2 0a2.6 2.6 0 1 0 -5.2 0zM855.7 813.2a2.6 2.6 0 1 0 5.2 0a2.6 2.6 0 1 0 -5.2 0zM849 813.6a2.6 2.6 0 1 0 5.2 0a2.6 2.6 0 1 0 -5.2 0zM755.7 898.5a2.6 2.6 0 1 0 5.2 0a2.6 2.6 0 1 0 -5.2 0zM823 838.9a2.6 2.6 0 1 0 5.2 0a2.6 2.6 0 1 0 -5.2 0zM813.1 851.4a2.6 2.6 0 1 0 5.2 0a2.6 2.6 0 1 0 -5.2 0zM871.6 791.9a2.6 2.6 0 1 0 5.2 0a2.6 2.6 0 1 0 -5.2 0zM752.1 901a2.6 2.6 0 1 0 5.2 0a2.6 2.6 0 1 0 -5.2 0zM769.4 880.2a2.6 2.6 0 1 0 5.2 0a2.6 2.6 0 1 0 -5.2 0zM836.2 823a2.6 2.6 0 1 0 5.2 0a2.6 2.6 0 1 0 -5.2 0zM815.9 850.4a2.6 2.6 0 1 0 5.2 0a2.6 2.6 0 1 0 -5.2 0zM864.2 798.6a2.6 2.6 0 1 0 5.2 0a2.6 2.6 0 1 0 -5.2 0zM802.1 854.6a2.6 2.6 0 1 0 5.2 0a2.6 2.6 0 1 0 -5.2 0zM775.2 877.8a2.6 2.6 0 1 0 5.2 0a2.6 2.6 0 1 0 -5.2 0zM911.5 764a2.6 2.6 0 1 0 5.2 0a2.6 2.6 0 1 0 -5.2 0zM784.6 872.9a2.6 2.6 0 1 0 5.2 0a2.6 2.6 0 1 0 -5.2 0zM764.8 887.5a2.6 2.6 0 1 0 5.2 0a2.6 2.6 0 1 0 -5.2 0zM791.8 868a2.6 2.6 0 1 0 5.2 0a2.6 2.6 0 1 0 -5.2 0zM803.4 856.6a2.6 2.6 0 1 0 5.2 0a2.6 2.6 0 1 0 -5.2 0zM780.8 877.7a2.6 2.6 0 1 0 5.2 0a2.6 2.6 0 1 0 -5.2 0zM840.6 820.1a2.6 2.6 0 1 0 5.2 0a2.6 2.6 0 1 0 -5.2 0zM912.4 771a2.6 2.6 0 1 0 5.2 0a2.6 2.6 0 1 0 -5.2 0zM760.3 894.6a2.6 2.6 0 1 0 5.2 0a2.6 2.6 0 1 0 -5.2 0zM817.9 842.5a2.6 2.6 0 1 0 5.2 0a2.6 2.6 0 1 0 -5.2 0zM864.7 798.9a2.6 2.6 0 1 0 5.2 0a2.6 2.6 0 1 0 -5.2 0zM903.3 765.9a2.6 2.6 0 1 0 5.2 0a2.6 2.6 0 1 0 -5.2 0zM923.4 755.7a2.6 2.6 0 1 0 5.2 0a2.6 2.6 0 1 0 -5.2 0zM764.1 890a2.6 2.6 0 1 0 5.2 0a2.6 2.6 0 1 0 -5.2 0zM840.7 827.5a2.6 2.6 0 1 0 5.2 0a2.6 2.6 0 1 0 -5.2 0zM902.6 771.7a2.6 2.6 0 1 0 5.2 0a2.6 2.6 0 1 0 -5.2 0zM744.1 910.1a2.6 2.6 0 1 0 5.2 0a2.6 2.6 0 1 0 -5.2 0zM850.1 818.3a2.6 2.6 0 1 0 5.2 0a2.6 2.6 0 1 0 -5.2 0zM770.4 884.8a2.6 2.6 0 1 0 5.2 0a2.6 2.6 0 1 0 -5.2 0zM882.6 774.9a2.6 2.6 0 1 0 5.2 0a2.6 2.6 0 1 0 -5.2 0zM912.5 761.3a2.6 2.6 0 1 0 5.2 0a2.6 2.6 0 1 0 -5.2 0zM840.9 826.1a2.6 2.6 0 1 0 5.2 0a2.6 2.6 0 1 0 -5.2 0zM733.2 918a2.6 2.6 0 1 0 5.2 0a2.6 2.6 0 1 0 -5.2 0zM746.7 906.7a2.6 2.6 0 1 0 5.2 0a2.6 2.6 0 1 0 -5.2 0zM818 841.1a2.6 2.6 0 1 0 5.2 0a2.6 2.6 0 1 0 -5.2 0zM896.7 771a2.6 2.6 0 1 0 5.2 0a2.6 2.6 0 1 0 -5.2 0zM783.2 871.2a2.6 2.6 0 1 0 5.2 0a2.6 2.6 0 1 0 -5.2 0zM864.8 808.5a2.6 2.6 0 1 0 5.2 0a2.6 2.6 0 1 0 -5.2 0zM816 845.2a2.6 2.6 0 1 0 5.2 0a2.6 2.6 0 1 0 -5.2 0zM788.8 867.3a2.6 2.6 0 1 0 5.2 0a2.6 2.6 0 1 0 -5.2 0zM871.1 788.8a2.6 2.6 0 1 0 5.2 0a2.6 2.6 0 1 0 -5.2 0zM797.3 860.7a2.6 2.6 0 1 0 5.2 0a2.6 2.6 0 1 0 -5.2 0zM809.6 855.3a2.6 2.6 0 1 0 5.2 0a2.6 2.6 0 1 0 -5.2 0zM882.1 788.8a2.6 2.6 0 1 0 5.2 0a2.6 2.6 0 1 0 -5.2 0zM832.9 826.6a2.6 2.6 0 1 0 5.2 0a2.6 2.6 0 1 0 -5.2 0zM885.4 791.6a2.6 2.6 0 1 0 5.2 0a2.6 2.6 0 1 0 -5.2 0zM836.9 832.4a2.6 2.6 0 1 0 5.2 0a2.6 2.6 0 1 0 -5.2 0zM767.5 889.6a2.6 2.6 0 1 0 5.2 0a2.6 2.6 0 1 0 -5.2 0zM823.3 841.3a2.6 2.6 0 1 0 5.2 0a2.6 2.6 0 1 0 -5.2 0zM901.2 776.7a2.6 2.6 0 1 0 5.2 0a2.6 2.6 0 1 0 -5.2 0zM845.8 820.8a2.6 2.6 0 1 0 5.2 0a2.6 2.6 0 1 0 -5.2 0zM917.3 760.4a2.6 2.6 0 1 0 5.2 0a2.6 2.6 0 1 0 -5.2 0zM730.8 919.1a2.6 2.6 0 1 0 5.2 0a2.6 2.6 0 1 0 -5.2 0zM803.6 860.5a2.6 2.6 0 1 0 5.2 0a2.6 2.6 0 1 0 -5.2 0zM882.8 786.9a2.6 2.6 0 1 0 5.2 0a2.6 2.6 0 1 0 -5.2 0zM867.9 809.4a2.6 2.6 0 1 0 5.2 0a2.6 2.6 0 1 0 -5.2 0zM845.1 809.6a2.6 2.6 0 1 0 5.2 0a2.6 2.6 0 1 0 -5.2 0zM863.9 806a2.6 2.6 0 1 0 5.2 0a2.6 2.6 0 1 0 -5.2 0zM901.8 775a2.6 2.6 0 1 0 5.2 0a2.6 2.6 0 1 0 -5.2 0zM867.4 797.4a2.6 2.6 0 1 0 5.2 0a2.6 2.6 0 1 0 -5.2 0zM842.6 823.2a2.6 2.6 0 1 0 5.2 0a2.6 2.6 0 1 0 -5.2 0zM845.4 822.1a2.6 2.6 0 1 0 5.2 0a2.6 2.6 0 1 0 -5.2 0zM864.3 804.9a2.6 2.6 0 1 0 5.2 0a2.6 2.6 0 1 0 -5.2 0zM800.4 856.7a2.6 2.6 0 1 0 5.2 0a2.6 2.6 0 1 0 -5.2 0zM864.9 800.7a2.6 2.6 0 1 0 5.2 0a2.6 2.6 0 1 0 -5.2 0zM855 815.1a2.6 2.6 0 1 0 5.2 0a2.6 2.6 0 1 0 -5.2 0zM885.8 790.4a2.6 2.6 0 1 0 5.2 0a2.6 2.6 0 1 0 -5.2 0zM830.1 832.5a2.6 2.6 0 1 0 5.2 0a2.6 2.6 0 1 0 -5.2 0zM737.9 913.8a2.6 2.6 0 1 0 5.2 0a2.6 2.6 0 1 0 -5.2 0zM840.7 823.7a2.6 2.6 0 1 0 5.2 0a2.6 2.6 0 1 0 -5.2 0zM898.5 778.2a2.6 2.6 0 1 0 5.2 0a2.6 2.6 0 1 0 -5.2 0zM859.6 800.8a2.6 2.6 0 1 0 5.2 0a2.6 2.6 0 1 0 -5.2 0zM860.2 798.9a2.6 2.6 0 1 0 5.2 0a2.6 2.6 0 1 0 -5.2 0zM813.3 847.5a2.6 2.6 0 1 0 5.2 0a2.6 2.6 0 1 0 -5.2 0zM806.7 849.1a2.6 2.6 0 1 0 5.2 0a2.6 2.6 0 1 0 -5.2 0zM873.8 790.3a2.6 2.6 0 1 0 5.2 0a2.6 2.6 0 1 0 -5.2 0zM749.8 903.3a2.6 2.6 0 1 0 5.2 0a2.6 2.6 0 1 0 -5.2 0zM900 773.4a2.6 2.6 0 1 0 5.2 0a2.6 2.6 0 1 0 -5.2 0zM901.8 762a2.6 2.6 0 1 0 5.2 0a2.6 2.6 0 1 0 -5.2 0zM916.9 760.9a2.6 2.6 0 1 0 5.2 0a2.6 2.6 0 1 0 -5.2 0zM762.4 888.5a2.6 2.6 0 1 0 5.2 0a2.6 2.6 0 1 0 -5.2 0zM758 896.9a2.6 2.6 0 1 0 5.2 0a2.6 2.6 0 1 0 -5.2 0zM904.9 755.9a2.6 2.6 0 1 0 5.2 0a2.6 2.6 0 1 0 -5.2 0zM815.2 840.7a2.6 2.6 0 1 0 5.2 0a2.6 2.6 0 1 0 -5.2 0zM789.9 869.6a2.6 2.6 0 1 0 5.2 0a2.6 2.6 0 1 0 -5.2 0zM811.6 847.1a2.6 2.6 0 1 0 5.2 0a2.6 2.6 0 1 0 -5.2 0zM863.1 798.9a2.6 2.6 0 1 0 5.2 0a2.6 2.6 0 1 0 -5.2 0zM767.8 886.3a2.6 2.6 0 1 0 5.2 0a2.6 2.6 0 1 0 -5.2 0zM831.4 832.9a2.6 2.6 0 1 0 5.2 0a2.6 2.6 0 1 0 -5.2 0zM863.2 802.6a2.6 2.6 0 1 0 5.2 0a2.6 2.6 0 1 0 -5.2 0zM874.1 793.1a2.6 2.6 0 1 0 5.2 0a2.6 2.6 0 1 0 -5.2 0zM734.1 918.2a2.6 2.6 0 1 0 5.2 0a2.6 2.6 0 1 0 -5.2 0zM890.2 774.8a2.6 2.6 0 1 0 5.2 0a2.6 2.6 0 1 0 -5.2 0zM821.5 838a2.6 2.6 0 1 0 5.2 0a2.6 2.6 0 1 0 -5.2 0zM821.8 837.5a2.6 2.6 0 1 0 5.2 0a2.6 2.6 0 1 0 -5.2 0zM845.4 824a2.6 2.6 0 1 0 5.2 0a2.6 2.6 0 1 0 -5.2 0z" fill="#000"/>
<path d="M733 920.3L926 749.7" stroke="#ee1111" stroke-width="1.6"/>
</svg>
</body></html>
